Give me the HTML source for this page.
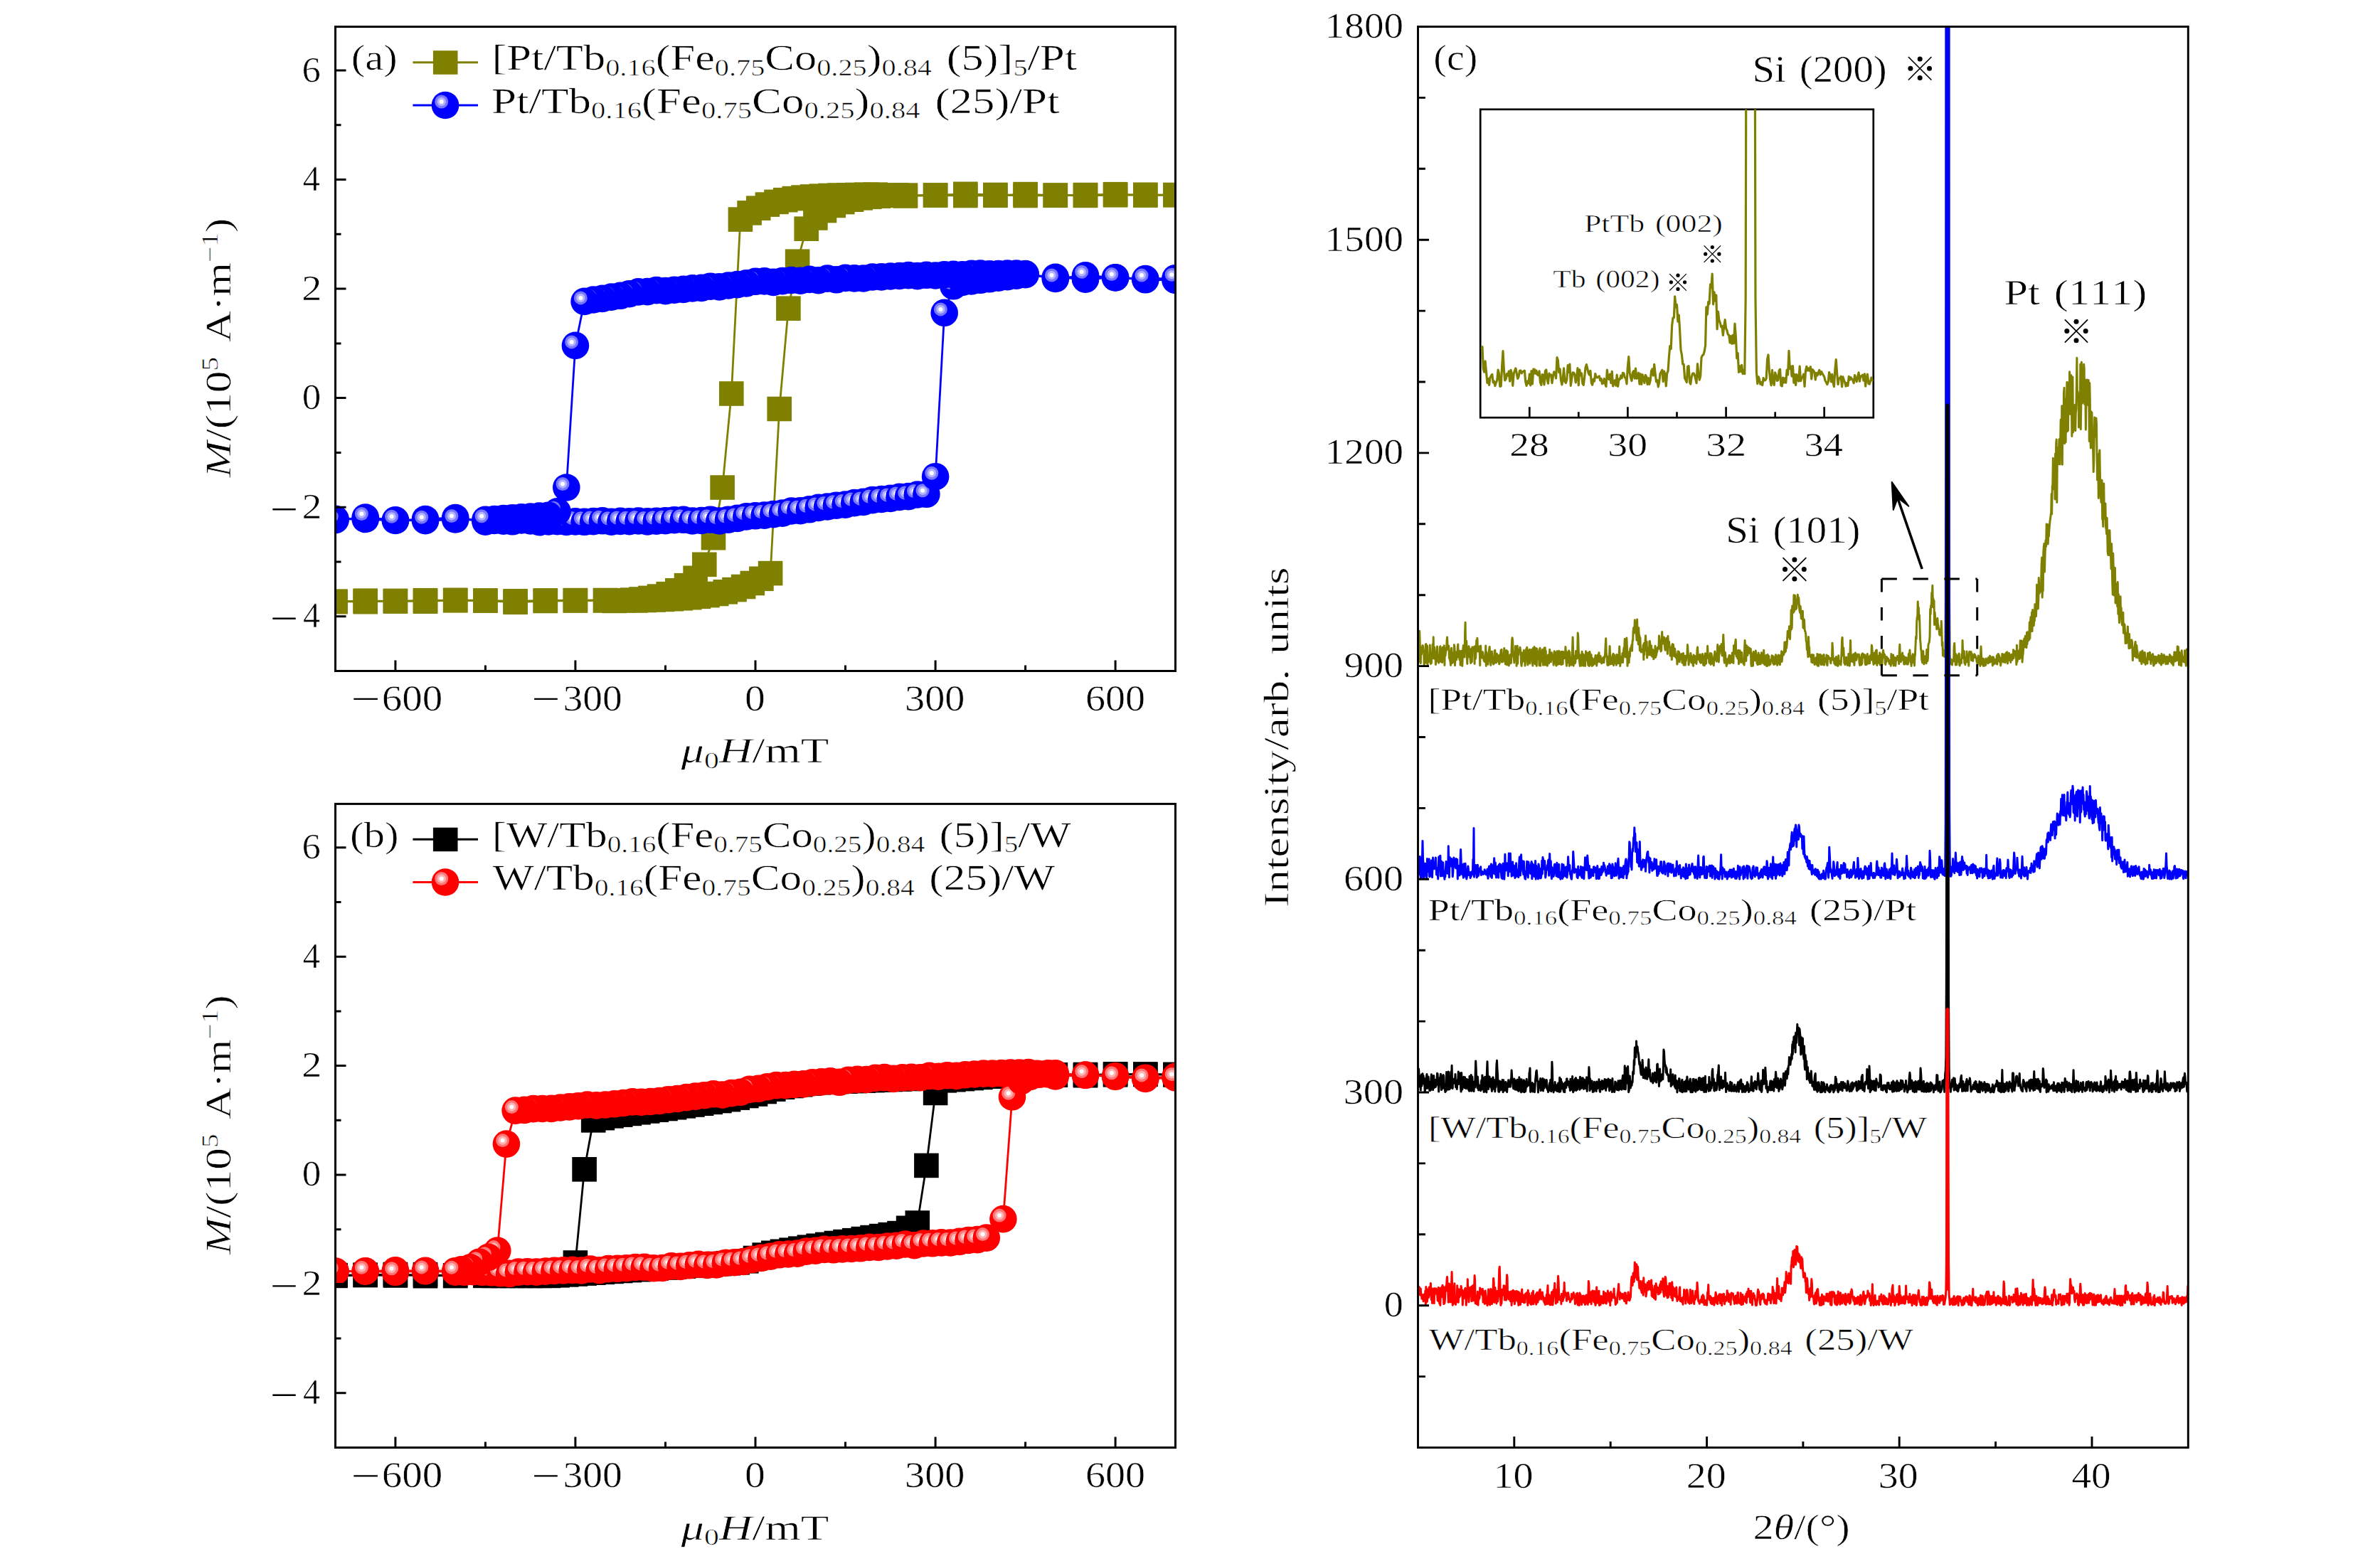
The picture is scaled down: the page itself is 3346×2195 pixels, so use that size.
<!DOCTYPE html><html><head><meta charset="utf-8"><style>html,body{margin:0;padding:0;background:#fff}svg{display:block}text{font-family:"Liberation Serif",serif;stroke:#fff;stroke-width:0.6px;stroke-linejoin:round}</style></head><body>
<svg width="3346" height="2195" viewBox="0 0 3346 2195">
<rect width="100%" height="100%" fill="#fff"/>
<defs><clipPath id="ca"><rect x="471.5" y="37.6" width="1181.0" height="905.9"/></clipPath><clipPath id="cb"><rect x="471.5" y="1130.4" width="1181.0" height="905.0999999999999"/></clipPath><clipPath id="cc"><rect x="1993.5" y="37.5" width="1082.8" height="1998.0"/></clipPath></defs>
<defs><g id="bb"><circle r="19.3" fill="#0000ff"/><circle cx="-5.3" cy="-5" r="9.5" fill="#7777ff"/><circle cx="-5.3" cy="-5" r="6.15" fill="#b4b4ff"/><circle cx="-5.3" cy="-5" r="3" fill="#fff"/></g><g id="rb"><circle r="19.3" fill="#ff0000"/><circle cx="-5.3" cy="-5" r="9.5" fill="#ff7777"/><circle cx="-5.3" cy="-5" r="6.15" fill="#ffb4b4"/><circle cx="-5.3" cy="-5" r="3" fill="#fff"/></g></defs>
<g clip-path="url(#ca)"><path d="M1652.5 274.1 L1610.3 273.8 L1568.1 274.3 L1526.0 274.9 L1483.8 274.5 L1441.6 275.0 L1399.4 274.0 L1357.2 272.8 L1315.1 274.5 L1272.9 274.6 L1230.7 273.7 L1218.1 273.8 L1205.4 274.0 L1192.8 274.3 L1180.1 274.6 L1167.4 275.0 L1154.8 275.7 L1142.1 276.5 L1129.5 277.6 L1116.8 279.1 L1104.2 281.2 L1091.5 283.9 L1078.9 287.6 L1066.2 292.7 L1053.6 299.4 L1040.9 308.6 L1028.3 553.5 L1015.6 685.5 L1003.0 756.2 L990.3 793.8 L977.6 812.8 L965.0 823.2 L952.3 830.3 L939.7 835.2 L927.0 838.6 L914.4 840.9 L901.7 842.5 L889.1 843.6 L876.4 844.3 L863.8 844.9 L851.1 844.0 L808.9 844.1 L766.8 844.4 L724.6 845.3 L682.4 844.5 L640.2 843.8 L598.0 845.7 L555.9 844.9 L513.7 846.2 L471.5 845.7" fill="none" stroke="#808000" stroke-width="2.8" stroke-linejoin="round"/>
<rect x="1635.2" y="256.8" width="34.6" height="34.6" fill="#808000"/>
<rect x="1593.0" y="256.5" width="34.6" height="34.6" fill="#808000"/>
<rect x="1550.8" y="257.0" width="34.6" height="34.6" fill="#808000"/>
<rect x="1508.7" y="257.6" width="34.6" height="34.6" fill="#808000"/>
<rect x="1466.5" y="257.2" width="34.6" height="34.6" fill="#808000"/>
<rect x="1424.3" y="257.7" width="34.6" height="34.6" fill="#808000"/>
<rect x="1382.1" y="256.7" width="34.6" height="34.6" fill="#808000"/>
<rect x="1340.0" y="255.5" width="34.6" height="34.6" fill="#808000"/>
<rect x="1297.8" y="257.2" width="34.6" height="34.6" fill="#808000"/>
<rect x="1255.6" y="257.3" width="34.6" height="34.6" fill="#808000"/>
<rect x="1213.4" y="256.4" width="34.6" height="34.6" fill="#808000"/>
<rect x="1200.8" y="256.5" width="34.6" height="34.6" fill="#808000"/>
<rect x="1188.1" y="256.7" width="34.6" height="34.6" fill="#808000"/>
<rect x="1175.5" y="257.0" width="34.6" height="34.6" fill="#808000"/>
<rect x="1162.8" y="257.3" width="34.6" height="34.6" fill="#808000"/>
<rect x="1150.1" y="257.7" width="34.6" height="34.6" fill="#808000"/>
<rect x="1137.5" y="258.4" width="34.6" height="34.6" fill="#808000"/>
<rect x="1124.8" y="259.2" width="34.6" height="34.6" fill="#808000"/>
<rect x="1112.2" y="260.3" width="34.6" height="34.6" fill="#808000"/>
<rect x="1099.5" y="261.8" width="34.6" height="34.6" fill="#808000"/>
<rect x="1086.9" y="263.9" width="34.6" height="34.6" fill="#808000"/>
<rect x="1074.2" y="266.6" width="34.6" height="34.6" fill="#808000"/>
<rect x="1061.6" y="270.3" width="34.6" height="34.6" fill="#808000"/>
<rect x="1048.9" y="275.4" width="34.6" height="34.6" fill="#808000"/>
<rect x="1036.3" y="282.1" width="34.6" height="34.6" fill="#808000"/>
<rect x="1023.6" y="291.3" width="34.6" height="34.6" fill="#808000"/>
<rect x="1011.0" y="536.2" width="34.6" height="34.6" fill="#808000"/>
<rect x="998.3" y="668.2" width="34.6" height="34.6" fill="#808000"/>
<rect x="985.7" y="738.9" width="34.6" height="34.6" fill="#808000"/>
<rect x="973.0" y="776.5" width="34.6" height="34.6" fill="#808000"/>
<rect x="960.3" y="795.5" width="34.6" height="34.6" fill="#808000"/>
<rect x="947.7" y="805.9" width="34.6" height="34.6" fill="#808000"/>
<rect x="935.0" y="813.0" width="34.6" height="34.6" fill="#808000"/>
<rect x="922.4" y="817.9" width="34.6" height="34.6" fill="#808000"/>
<rect x="909.7" y="821.3" width="34.6" height="34.6" fill="#808000"/>
<rect x="897.1" y="823.6" width="34.6" height="34.6" fill="#808000"/>
<rect x="884.4" y="825.2" width="34.6" height="34.6" fill="#808000"/>
<rect x="871.8" y="826.3" width="34.6" height="34.6" fill="#808000"/>
<rect x="859.1" y="827.0" width="34.6" height="34.6" fill="#808000"/>
<rect x="846.5" y="827.6" width="34.6" height="34.6" fill="#808000"/>
<rect x="833.8" y="826.7" width="34.6" height="34.6" fill="#808000"/>
<rect x="791.6" y="826.8" width="34.6" height="34.6" fill="#808000"/>
<rect x="749.5" y="827.1" width="34.6" height="34.6" fill="#808000"/>
<rect x="707.3" y="828.0" width="34.6" height="34.6" fill="#808000"/>
<rect x="665.1" y="827.2" width="34.6" height="34.6" fill="#808000"/>
<rect x="622.9" y="826.5" width="34.6" height="34.6" fill="#808000"/>
<rect x="580.7" y="828.4" width="34.6" height="34.6" fill="#808000"/>
<rect x="538.6" y="827.6" width="34.6" height="34.6" fill="#808000"/>
<rect x="496.4" y="828.9" width="34.6" height="34.6" fill="#808000"/>
<rect x="454.2" y="828.4" width="34.6" height="34.6" fill="#808000"/>
</g>
<g clip-path="url(#ca)"><path d="M471.5 846.2 L513.7 844.7 L555.9 845.6 L598.0 844.2 L640.2 844.3 L682.4 844.6 L724.6 846.8 L766.8 845.0 L808.9 844.5 L851.1 844.4 L893.3 844.4 L905.9 844.0 L918.6 843.5 L931.2 842.9 L943.9 842.2 L956.6 841.3 L969.2 840.2 L981.9 838.8 L994.5 837.1 L1007.2 835.0 L1019.8 832.3 L1032.5 829.1 L1045.1 825.0 L1057.8 820.0 L1070.4 813.8 L1083.1 806.1 L1095.7 575.0 L1108.4 433.7 L1121.1 367.7 L1133.7 321.7 L1146.4 306.5 L1159.0 296.1 L1171.7 289.0 L1184.3 284.1 L1197.0 280.7 L1209.6 278.4 L1222.3 276.8 L1234.9 275.7 L1247.6 274.9 L1260.2 274.4 L1272.9 275.5 L1315.1 274.5 L1357.2 275.0 L1399.4 274.8 L1441.6 273.1 L1483.8 274.8 L1526.0 274.1 L1568.1 273.2 L1610.3 274.6 L1652.5 274.2" fill="none" stroke="#808000" stroke-width="2.8" stroke-linejoin="round"/>
<rect x="454.2" y="828.9" width="34.6" height="34.6" fill="#808000"/>
<rect x="496.4" y="827.4" width="34.6" height="34.6" fill="#808000"/>
<rect x="538.6" y="828.3" width="34.6" height="34.6" fill="#808000"/>
<rect x="580.7" y="826.9" width="34.6" height="34.6" fill="#808000"/>
<rect x="622.9" y="827.0" width="34.6" height="34.6" fill="#808000"/>
<rect x="665.1" y="827.3" width="34.6" height="34.6" fill="#808000"/>
<rect x="707.3" y="829.5" width="34.6" height="34.6" fill="#808000"/>
<rect x="749.5" y="827.7" width="34.6" height="34.6" fill="#808000"/>
<rect x="791.6" y="827.2" width="34.6" height="34.6" fill="#808000"/>
<rect x="833.8" y="827.1" width="34.6" height="34.6" fill="#808000"/>
<rect x="876.0" y="827.1" width="34.6" height="34.6" fill="#808000"/>
<rect x="888.6" y="826.7" width="34.6" height="34.6" fill="#808000"/>
<rect x="901.3" y="826.2" width="34.6" height="34.6" fill="#808000"/>
<rect x="913.9" y="825.6" width="34.6" height="34.6" fill="#808000"/>
<rect x="926.6" y="824.9" width="34.6" height="34.6" fill="#808000"/>
<rect x="939.3" y="824.0" width="34.6" height="34.6" fill="#808000"/>
<rect x="951.9" y="822.9" width="34.6" height="34.6" fill="#808000"/>
<rect x="964.6" y="821.5" width="34.6" height="34.6" fill="#808000"/>
<rect x="977.2" y="819.8" width="34.6" height="34.6" fill="#808000"/>
<rect x="989.9" y="817.7" width="34.6" height="34.6" fill="#808000"/>
<rect x="1002.5" y="815.0" width="34.6" height="34.6" fill="#808000"/>
<rect x="1015.2" y="811.8" width="34.6" height="34.6" fill="#808000"/>
<rect x="1027.8" y="807.7" width="34.6" height="34.6" fill="#808000"/>
<rect x="1040.5" y="802.7" width="34.6" height="34.6" fill="#808000"/>
<rect x="1053.1" y="796.5" width="34.6" height="34.6" fill="#808000"/>
<rect x="1065.8" y="788.8" width="34.6" height="34.6" fill="#808000"/>
<rect x="1078.4" y="557.7" width="34.6" height="34.6" fill="#808000"/>
<rect x="1091.1" y="416.4" width="34.6" height="34.6" fill="#808000"/>
<rect x="1103.8" y="350.4" width="34.6" height="34.6" fill="#808000"/>
<rect x="1116.4" y="304.4" width="34.6" height="34.6" fill="#808000"/>
<rect x="1129.1" y="289.2" width="34.6" height="34.6" fill="#808000"/>
<rect x="1141.7" y="278.8" width="34.6" height="34.6" fill="#808000"/>
<rect x="1154.4" y="271.7" width="34.6" height="34.6" fill="#808000"/>
<rect x="1167.0" y="266.8" width="34.6" height="34.6" fill="#808000"/>
<rect x="1179.7" y="263.4" width="34.6" height="34.6" fill="#808000"/>
<rect x="1192.3" y="261.1" width="34.6" height="34.6" fill="#808000"/>
<rect x="1205.0" y="259.5" width="34.6" height="34.6" fill="#808000"/>
<rect x="1217.6" y="258.4" width="34.6" height="34.6" fill="#808000"/>
<rect x="1230.3" y="257.6" width="34.6" height="34.6" fill="#808000"/>
<rect x="1242.9" y="257.1" width="34.6" height="34.6" fill="#808000"/>
<rect x="1255.6" y="258.2" width="34.6" height="34.6" fill="#808000"/>
<rect x="1297.8" y="257.2" width="34.6" height="34.6" fill="#808000"/>
<rect x="1340.0" y="257.7" width="34.6" height="34.6" fill="#808000"/>
<rect x="1382.1" y="257.5" width="34.6" height="34.6" fill="#808000"/>
<rect x="1424.3" y="255.8" width="34.6" height="34.6" fill="#808000"/>
<rect x="1466.5" y="257.5" width="34.6" height="34.6" fill="#808000"/>
<rect x="1508.7" y="256.8" width="34.6" height="34.6" fill="#808000"/>
<rect x="1550.8" y="255.9" width="34.6" height="34.6" fill="#808000"/>
<rect x="1593.0" y="257.3" width="34.6" height="34.6" fill="#808000"/>
<rect x="1635.2" y="256.9" width="34.6" height="34.6" fill="#808000"/>
</g>
<g clip-path="url(#ca)"><path d="M471.5 729.9 L513.7 730.0 L555.9 732.0 L598.0 730.0 L640.2 728.0 L682.4 733.6 L695.0 731.9 L707.7 732.6 L720.4 733.3 L733.0 731.4 L745.7 732.5 L758.3 734.2 L771.0 733.4 L783.6 733.1 L796.3 733.9 L808.9 733.4 L821.6 733.8 L834.2 733.1 L846.9 732.3 L859.5 733.7 L872.2 732.9 L884.8 733.2 L897.5 732.5 L910.2 733.4 L922.8 732.7 L935.5 732.2 L948.1 731.2 L960.8 730.8 L973.4 732.5 L986.1 732.0 L998.7 730.7 L1011.4 732.5 L1024.0 730.7 L1036.7 728.9 L1049.3 726.4 L1062.0 725.3 L1074.7 724.6 L1087.3 723.1 L1100.0 721.6 L1112.6 718.5 L1125.3 718.2 L1137.9 716.3 L1150.6 713.9 L1163.2 712.5 L1175.9 710.7 L1188.5 709.6 L1201.2 707.1 L1213.8 705.9 L1226.5 703.1 L1239.2 702.0 L1251.8 700.9 L1264.5 698.9 L1277.1 698.1 L1289.8 695.5 L1302.4 694.8 L1315.1 670.2 L1327.7 439.9 L1340.4 402.3 L1353.0 396.9 L1365.7 395.4 L1378.3 393.8 L1391.0 392.3 L1403.6 390.7 L1416.3 389.2 L1429.0 387.7 L1441.6 386.1 L1483.8 389.9 L1526.0 392.7 L1568.1 390.2 L1610.3 393.3 L1652.5 393.9" fill="none" stroke="#0000ff" stroke-width="2.8" stroke-linejoin="round"/>
<use href="#bb" x="471.5" y="729.9"/>
<use href="#bb" x="513.7" y="730.0"/>
<use href="#bb" x="555.9" y="732.0"/>
<use href="#bb" x="598.0" y="730.0"/>
<use href="#bb" x="640.2" y="728.0"/>
<use href="#bb" x="682.4" y="733.6"/>
<use href="#bb" x="695.0" y="731.9"/>
<use href="#bb" x="707.7" y="732.6"/>
<use href="#bb" x="720.4" y="733.3"/>
<use href="#bb" x="733.0" y="731.4"/>
<use href="#bb" x="745.7" y="732.5"/>
<use href="#bb" x="758.3" y="734.2"/>
<use href="#bb" x="771.0" y="733.4"/>
<use href="#bb" x="783.6" y="733.1"/>
<use href="#bb" x="796.3" y="733.9"/>
<use href="#bb" x="808.9" y="733.4"/>
<use href="#bb" x="821.6" y="733.8"/>
<use href="#bb" x="834.2" y="733.1"/>
<use href="#bb" x="846.9" y="732.3"/>
<use href="#bb" x="859.5" y="733.7"/>
<use href="#bb" x="872.2" y="732.9"/>
<use href="#bb" x="884.8" y="733.2"/>
<use href="#bb" x="897.5" y="732.5"/>
<use href="#bb" x="910.2" y="733.4"/>
<use href="#bb" x="922.8" y="732.7"/>
<use href="#bb" x="935.5" y="732.2"/>
<use href="#bb" x="948.1" y="731.2"/>
<use href="#bb" x="960.8" y="730.8"/>
<use href="#bb" x="973.4" y="732.5"/>
<use href="#bb" x="986.1" y="732.0"/>
<use href="#bb" x="998.7" y="730.7"/>
<use href="#bb" x="1011.4" y="732.5"/>
<use href="#bb" x="1024.0" y="730.7"/>
<use href="#bb" x="1036.7" y="728.9"/>
<use href="#bb" x="1049.3" y="726.4"/>
<use href="#bb" x="1062.0" y="725.3"/>
<use href="#bb" x="1074.7" y="724.6"/>
<use href="#bb" x="1087.3" y="723.1"/>
<use href="#bb" x="1100.0" y="721.6"/>
<use href="#bb" x="1112.6" y="718.5"/>
<use href="#bb" x="1125.3" y="718.2"/>
<use href="#bb" x="1137.9" y="716.3"/>
<use href="#bb" x="1150.6" y="713.9"/>
<use href="#bb" x="1163.2" y="712.5"/>
<use href="#bb" x="1175.9" y="710.7"/>
<use href="#bb" x="1188.5" y="709.6"/>
<use href="#bb" x="1201.2" y="707.1"/>
<use href="#bb" x="1213.8" y="705.9"/>
<use href="#bb" x="1226.5" y="703.1"/>
<use href="#bb" x="1239.2" y="702.0"/>
<use href="#bb" x="1251.8" y="700.9"/>
<use href="#bb" x="1264.5" y="698.9"/>
<use href="#bb" x="1277.1" y="698.1"/>
<use href="#bb" x="1289.8" y="695.5"/>
<use href="#bb" x="1302.4" y="694.8"/>
<use href="#bb" x="1315.1" y="670.2"/>
<use href="#bb" x="1327.7" y="439.9"/>
<use href="#bb" x="1340.4" y="402.3"/>
<use href="#bb" x="1353.0" y="396.9"/>
<use href="#bb" x="1365.7" y="395.4"/>
<use href="#bb" x="1378.3" y="393.8"/>
<use href="#bb" x="1391.0" y="392.3"/>
<use href="#bb" x="1403.6" y="390.7"/>
<use href="#bb" x="1416.3" y="389.2"/>
<use href="#bb" x="1429.0" y="387.7"/>
<use href="#bb" x="1441.6" y="386.1"/>
<use href="#bb" x="1483.8" y="389.9"/>
<use href="#bb" x="1526.0" y="392.7"/>
<use href="#bb" x="1568.1" y="390.2"/>
<use href="#bb" x="1610.3" y="393.3"/>
<use href="#bb" x="1652.5" y="393.9"/>
</g>
<g clip-path="url(#ca)"><path d="M1652.5 391.2 L1610.3 392.1 L1568.1 390.5 L1526.0 387.3 L1483.8 392.0 L1441.6 385.1 L1429.0 384.6 L1416.3 384.5 L1403.6 385.1 L1391.0 385.2 L1378.3 384.6 L1365.7 384.9 L1353.0 386.3 L1340.4 385.9 L1327.7 386.2 L1315.1 387.5 L1302.4 386.8 L1289.8 388.1 L1277.1 387.1 L1264.5 388.0 L1251.8 388.5 L1239.2 389.4 L1226.5 389.5 L1213.8 391.5 L1201.2 391.4 L1188.5 390.9 L1175.9 393.3 L1163.2 391.6 L1150.6 394.2 L1137.9 392.9 L1125.3 394.7 L1112.6 394.0 L1100.0 395.1 L1087.3 396.9 L1074.7 395.4 L1062.0 395.8 L1049.3 398.4 L1036.7 400.1 L1024.0 401.5 L1011.4 403.4 L998.7 402.7 L986.1 404.9 L973.4 405.4 L960.8 406.9 L948.1 407.7 L935.5 409.1 L922.8 408.1 L910.2 410.1 L897.5 410.4 L884.8 413.2 L872.2 415.8 L859.5 417.6 L846.9 419.9 L834.2 421.5 L821.6 423.9 L808.9 485.9 L796.3 685.5 L783.6 719.3 L771.0 724.7 L758.3 725.6 L745.7 726.5 L733.0 727.3 L720.4 728.2 L707.7 729.1 L695.0 730.0 L682.4 730.8 L640.2 730.5 L598.0 732.2 L555.9 731.3 L513.7 727.5 L471.5 731.1" fill="none" stroke="#0000ff" stroke-width="2.8" stroke-linejoin="round"/>
<use href="#bb" x="1652.5" y="391.2"/>
<use href="#bb" x="1610.3" y="392.1"/>
<use href="#bb" x="1568.1" y="390.5"/>
<use href="#bb" x="1526.0" y="387.3"/>
<use href="#bb" x="1483.8" y="392.0"/>
<use href="#bb" x="1441.6" y="385.1"/>
<use href="#bb" x="1429.0" y="384.6"/>
<use href="#bb" x="1416.3" y="384.5"/>
<use href="#bb" x="1403.6" y="385.1"/>
<use href="#bb" x="1391.0" y="385.2"/>
<use href="#bb" x="1378.3" y="384.6"/>
<use href="#bb" x="1365.7" y="384.9"/>
<use href="#bb" x="1353.0" y="386.3"/>
<use href="#bb" x="1340.4" y="385.9"/>
<use href="#bb" x="1327.7" y="386.2"/>
<use href="#bb" x="1315.1" y="387.5"/>
<use href="#bb" x="1302.4" y="386.8"/>
<use href="#bb" x="1289.8" y="388.1"/>
<use href="#bb" x="1277.1" y="387.1"/>
<use href="#bb" x="1264.5" y="388.0"/>
<use href="#bb" x="1251.8" y="388.5"/>
<use href="#bb" x="1239.2" y="389.4"/>
<use href="#bb" x="1226.5" y="389.5"/>
<use href="#bb" x="1213.8" y="391.5"/>
<use href="#bb" x="1201.2" y="391.4"/>
<use href="#bb" x="1188.5" y="390.9"/>
<use href="#bb" x="1175.9" y="393.3"/>
<use href="#bb" x="1163.2" y="391.6"/>
<use href="#bb" x="1150.6" y="394.2"/>
<use href="#bb" x="1137.9" y="392.9"/>
<use href="#bb" x="1125.3" y="394.7"/>
<use href="#bb" x="1112.6" y="394.0"/>
<use href="#bb" x="1100.0" y="395.1"/>
<use href="#bb" x="1087.3" y="396.9"/>
<use href="#bb" x="1074.7" y="395.4"/>
<use href="#bb" x="1062.0" y="395.8"/>
<use href="#bb" x="1049.3" y="398.4"/>
<use href="#bb" x="1036.7" y="400.1"/>
<use href="#bb" x="1024.0" y="401.5"/>
<use href="#bb" x="1011.4" y="403.4"/>
<use href="#bb" x="998.7" y="402.7"/>
<use href="#bb" x="986.1" y="404.9"/>
<use href="#bb" x="973.4" y="405.4"/>
<use href="#bb" x="960.8" y="406.9"/>
<use href="#bb" x="948.1" y="407.7"/>
<use href="#bb" x="935.5" y="409.1"/>
<use href="#bb" x="922.8" y="408.1"/>
<use href="#bb" x="910.2" y="410.1"/>
<use href="#bb" x="897.5" y="410.4"/>
<use href="#bb" x="884.8" y="413.2"/>
<use href="#bb" x="872.2" y="415.8"/>
<use href="#bb" x="859.5" y="417.6"/>
<use href="#bb" x="846.9" y="419.9"/>
<use href="#bb" x="834.2" y="421.5"/>
<use href="#bb" x="821.6" y="423.9"/>
<use href="#bb" x="808.9" y="485.9"/>
<use href="#bb" x="796.3" y="685.5"/>
<use href="#bb" x="783.6" y="719.3"/>
<use href="#bb" x="771.0" y="724.7"/>
<use href="#bb" x="758.3" y="725.6"/>
<use href="#bb" x="745.7" y="726.5"/>
<use href="#bb" x="733.0" y="727.3"/>
<use href="#bb" x="720.4" y="728.2"/>
<use href="#bb" x="707.7" y="729.1"/>
<use href="#bb" x="695.0" y="730.0"/>
<use href="#bb" x="682.4" y="730.8"/>
<use href="#bb" x="640.2" y="730.5"/>
<use href="#bb" x="598.0" y="732.2"/>
<use href="#bb" x="555.9" y="731.3"/>
<use href="#bb" x="513.7" y="727.5"/>
<use href="#bb" x="471.5" y="731.1"/>
</g>
<g clip-path="url(#cb)"><path d="M471.5 1793.9 L513.7 1792.9 L555.9 1792.0 L598.0 1794.2 L640.2 1793.3 L682.4 1793.9 L695.0 1793.9 L707.7 1793.9 L720.4 1793.9 L733.0 1793.9 L745.7 1793.9 L758.3 1793.9 L771.0 1793.9 L783.6 1793.3 L796.3 1792.4 L808.9 1791.5 L821.6 1790.6 L834.2 1789.7 L846.9 1788.8 L859.5 1787.9 L872.2 1787.0 L884.8 1786.1 L897.5 1785.2 L910.2 1784.3 L922.8 1783.4 L935.5 1782.5 L948.1 1781.6 L960.8 1780.7 L973.4 1779.8 L986.1 1778.9 L998.7 1778.0 L1011.4 1777.1 L1024.0 1776.2 L1036.7 1775.3 L1049.3 1773.3 L1062.0 1769.0 L1074.7 1764.6 L1087.3 1761.8 L1100.0 1759.8 L1112.6 1757.7 L1125.3 1755.7 L1137.9 1753.7 L1150.6 1751.8 L1163.2 1749.9 L1175.9 1748.0 L1188.5 1746.1 L1201.2 1744.2 L1213.8 1742.1 L1226.5 1740.1 L1239.2 1738.1 L1251.8 1736.1 L1264.5 1734.1 L1277.1 1726.8 L1289.8 1719.5 L1302.4 1638.9 L1315.1 1536.9 L1327.7 1519.3 L1340.4 1518.2 L1353.0 1517.1 L1365.7 1516.0 L1378.3 1514.9 L1391.0 1513.7 L1403.6 1512.6 L1416.3 1511.5 L1429.0 1510.4 L1441.6 1509.3 L1483.8 1511.3 L1526.0 1512.2 L1568.1 1510.3 L1610.3 1510.9 L1652.5 1510.8" fill="none" stroke="#000" stroke-width="2.8" stroke-linejoin="round"/>
<rect x="454.2" y="1776.6" width="34.6" height="34.6" fill="#000"/>
<rect x="496.4" y="1775.6" width="34.6" height="34.6" fill="#000"/>
<rect x="538.6" y="1774.7" width="34.6" height="34.6" fill="#000"/>
<rect x="580.7" y="1776.9" width="34.6" height="34.6" fill="#000"/>
<rect x="622.9" y="1776.0" width="34.6" height="34.6" fill="#000"/>
<rect x="665.1" y="1776.6" width="34.6" height="34.6" fill="#000"/>
<rect x="677.7" y="1776.6" width="34.6" height="34.6" fill="#000"/>
<rect x="690.4" y="1776.6" width="34.6" height="34.6" fill="#000"/>
<rect x="703.1" y="1776.6" width="34.6" height="34.6" fill="#000"/>
<rect x="715.7" y="1776.6" width="34.6" height="34.6" fill="#000"/>
<rect x="728.4" y="1776.6" width="34.6" height="34.6" fill="#000"/>
<rect x="741.0" y="1776.6" width="34.6" height="34.6" fill="#000"/>
<rect x="753.7" y="1776.6" width="34.6" height="34.6" fill="#000"/>
<rect x="766.3" y="1776.0" width="34.6" height="34.6" fill="#000"/>
<rect x="779.0" y="1775.1" width="34.6" height="34.6" fill="#000"/>
<rect x="791.6" y="1774.2" width="34.6" height="34.6" fill="#000"/>
<rect x="804.3" y="1773.3" width="34.6" height="34.6" fill="#000"/>
<rect x="816.9" y="1772.4" width="34.6" height="34.6" fill="#000"/>
<rect x="829.6" y="1771.5" width="34.6" height="34.6" fill="#000"/>
<rect x="842.2" y="1770.6" width="34.6" height="34.6" fill="#000"/>
<rect x="854.9" y="1769.7" width="34.6" height="34.6" fill="#000"/>
<rect x="867.5" y="1768.8" width="34.6" height="34.6" fill="#000"/>
<rect x="880.2" y="1767.9" width="34.6" height="34.6" fill="#000"/>
<rect x="892.9" y="1767.0" width="34.6" height="34.6" fill="#000"/>
<rect x="905.5" y="1766.1" width="34.6" height="34.6" fill="#000"/>
<rect x="918.2" y="1765.2" width="34.6" height="34.6" fill="#000"/>
<rect x="930.8" y="1764.3" width="34.6" height="34.6" fill="#000"/>
<rect x="943.5" y="1763.4" width="34.6" height="34.6" fill="#000"/>
<rect x="956.1" y="1762.5" width="34.6" height="34.6" fill="#000"/>
<rect x="968.8" y="1761.6" width="34.6" height="34.6" fill="#000"/>
<rect x="981.4" y="1760.7" width="34.6" height="34.6" fill="#000"/>
<rect x="994.1" y="1759.8" width="34.6" height="34.6" fill="#000"/>
<rect x="1006.7" y="1758.9" width="34.6" height="34.6" fill="#000"/>
<rect x="1019.4" y="1758.0" width="34.6" height="34.6" fill="#000"/>
<rect x="1032.0" y="1756.0" width="34.6" height="34.6" fill="#000"/>
<rect x="1044.7" y="1751.7" width="34.6" height="34.6" fill="#000"/>
<rect x="1057.4" y="1747.3" width="34.6" height="34.6" fill="#000"/>
<rect x="1070.0" y="1744.5" width="34.6" height="34.6" fill="#000"/>
<rect x="1082.7" y="1742.5" width="34.6" height="34.6" fill="#000"/>
<rect x="1095.3" y="1740.4" width="34.6" height="34.6" fill="#000"/>
<rect x="1108.0" y="1738.4" width="34.6" height="34.6" fill="#000"/>
<rect x="1120.6" y="1736.4" width="34.6" height="34.6" fill="#000"/>
<rect x="1133.3" y="1734.5" width="34.6" height="34.6" fill="#000"/>
<rect x="1145.9" y="1732.6" width="34.6" height="34.6" fill="#000"/>
<rect x="1158.6" y="1730.7" width="34.6" height="34.6" fill="#000"/>
<rect x="1171.2" y="1728.8" width="34.6" height="34.6" fill="#000"/>
<rect x="1183.9" y="1726.9" width="34.6" height="34.6" fill="#000"/>
<rect x="1196.5" y="1724.8" width="34.6" height="34.6" fill="#000"/>
<rect x="1209.2" y="1722.8" width="34.6" height="34.6" fill="#000"/>
<rect x="1221.9" y="1720.8" width="34.6" height="34.6" fill="#000"/>
<rect x="1234.5" y="1718.8" width="34.6" height="34.6" fill="#000"/>
<rect x="1247.2" y="1716.8" width="34.6" height="34.6" fill="#000"/>
<rect x="1259.8" y="1709.5" width="34.6" height="34.6" fill="#000"/>
<rect x="1272.5" y="1702.2" width="34.6" height="34.6" fill="#000"/>
<rect x="1285.1" y="1621.6" width="34.6" height="34.6" fill="#000"/>
<rect x="1297.8" y="1519.6" width="34.6" height="34.6" fill="#000"/>
<rect x="1310.4" y="1502.0" width="34.6" height="34.6" fill="#000"/>
<rect x="1323.1" y="1500.9" width="34.6" height="34.6" fill="#000"/>
<rect x="1335.7" y="1499.8" width="34.6" height="34.6" fill="#000"/>
<rect x="1348.4" y="1498.7" width="34.6" height="34.6" fill="#000"/>
<rect x="1361.0" y="1497.6" width="34.6" height="34.6" fill="#000"/>
<rect x="1373.7" y="1496.4" width="34.6" height="34.6" fill="#000"/>
<rect x="1386.3" y="1495.3" width="34.6" height="34.6" fill="#000"/>
<rect x="1399.0" y="1494.2" width="34.6" height="34.6" fill="#000"/>
<rect x="1411.7" y="1493.1" width="34.6" height="34.6" fill="#000"/>
<rect x="1424.3" y="1492.0" width="34.6" height="34.6" fill="#000"/>
<rect x="1466.5" y="1494.0" width="34.6" height="34.6" fill="#000"/>
<rect x="1508.7" y="1494.9" width="34.6" height="34.6" fill="#000"/>
<rect x="1550.8" y="1493.0" width="34.6" height="34.6" fill="#000"/>
<rect x="1593.0" y="1493.6" width="34.6" height="34.6" fill="#000"/>
<rect x="1635.2" y="1493.5" width="34.6" height="34.6" fill="#000"/>
</g>
<g clip-path="url(#cb)"><path d="M1652.5 1511.4 L1610.3 1510.5 L1568.1 1511.3 L1526.0 1511.0 L1483.8 1511.7 L1441.6 1509.3 L1429.0 1509.9 L1416.3 1510.5 L1403.6 1511.2 L1391.0 1511.8 L1378.3 1512.4 L1365.7 1513.0 L1353.0 1513.6 L1340.4 1514.2 L1327.7 1514.8 L1315.1 1515.5 L1302.4 1516.0 L1289.8 1516.5 L1277.1 1517.0 L1264.5 1517.5 L1251.8 1518.0 L1239.2 1518.6 L1226.5 1519.1 L1213.8 1519.6 L1201.2 1520.1 L1188.5 1520.6 L1175.9 1521.1 L1163.2 1521.7 L1150.6 1522.2 L1137.9 1523.5 L1125.3 1525.2 L1112.6 1527.0 L1100.0 1528.7 L1087.3 1531.6 L1074.7 1535.0 L1062.0 1538.5 L1049.3 1541.0 L1036.7 1543.6 L1024.0 1546.1 L1011.4 1548.0 L998.7 1549.8 L986.1 1551.7 L973.4 1553.5 L960.8 1555.3 L948.1 1557.2 L935.5 1559.0 L922.8 1560.7 L910.2 1562.4 L897.5 1564.2 L884.8 1565.9 L872.2 1567.6 L859.5 1569.3 L846.9 1572.1 L834.2 1575.3 L821.6 1644.3 L808.9 1775.5 L796.3 1786.2 L783.6 1787.0 L771.0 1787.7 L758.3 1788.5 L745.7 1789.3 L733.0 1790.0 L720.4 1790.8 L707.7 1791.6 L695.0 1792.4 L682.4 1793.1 L640.2 1794.1 L598.0 1792.1 L555.9 1793.5 L513.7 1792.9 L471.5 1793.1" fill="none" stroke="#000" stroke-width="2.8" stroke-linejoin="round"/>
<rect x="1635.2" y="1494.1" width="34.6" height="34.6" fill="#000"/>
<rect x="1593.0" y="1493.2" width="34.6" height="34.6" fill="#000"/>
<rect x="1550.8" y="1494.0" width="34.6" height="34.6" fill="#000"/>
<rect x="1508.7" y="1493.7" width="34.6" height="34.6" fill="#000"/>
<rect x="1466.5" y="1494.4" width="34.6" height="34.6" fill="#000"/>
<rect x="1424.3" y="1492.0" width="34.6" height="34.6" fill="#000"/>
<rect x="1411.7" y="1492.6" width="34.6" height="34.6" fill="#000"/>
<rect x="1399.0" y="1493.2" width="34.6" height="34.6" fill="#000"/>
<rect x="1386.3" y="1493.9" width="34.6" height="34.6" fill="#000"/>
<rect x="1373.7" y="1494.5" width="34.6" height="34.6" fill="#000"/>
<rect x="1361.0" y="1495.1" width="34.6" height="34.6" fill="#000"/>
<rect x="1348.4" y="1495.7" width="34.6" height="34.6" fill="#000"/>
<rect x="1335.7" y="1496.3" width="34.6" height="34.6" fill="#000"/>
<rect x="1323.1" y="1496.9" width="34.6" height="34.6" fill="#000"/>
<rect x="1310.4" y="1497.5" width="34.6" height="34.6" fill="#000"/>
<rect x="1297.8" y="1498.2" width="34.6" height="34.6" fill="#000"/>
<rect x="1285.1" y="1498.7" width="34.6" height="34.6" fill="#000"/>
<rect x="1272.5" y="1499.2" width="34.6" height="34.6" fill="#000"/>
<rect x="1259.8" y="1499.7" width="34.6" height="34.6" fill="#000"/>
<rect x="1247.2" y="1500.2" width="34.6" height="34.6" fill="#000"/>
<rect x="1234.5" y="1500.7" width="34.6" height="34.6" fill="#000"/>
<rect x="1221.9" y="1501.3" width="34.6" height="34.6" fill="#000"/>
<rect x="1209.2" y="1501.8" width="34.6" height="34.6" fill="#000"/>
<rect x="1196.5" y="1502.3" width="34.6" height="34.6" fill="#000"/>
<rect x="1183.9" y="1502.8" width="34.6" height="34.6" fill="#000"/>
<rect x="1171.2" y="1503.3" width="34.6" height="34.6" fill="#000"/>
<rect x="1158.6" y="1503.8" width="34.6" height="34.6" fill="#000"/>
<rect x="1145.9" y="1504.4" width="34.6" height="34.6" fill="#000"/>
<rect x="1133.3" y="1504.9" width="34.6" height="34.6" fill="#000"/>
<rect x="1120.6" y="1506.2" width="34.6" height="34.6" fill="#000"/>
<rect x="1108.0" y="1507.9" width="34.6" height="34.6" fill="#000"/>
<rect x="1095.3" y="1509.7" width="34.6" height="34.6" fill="#000"/>
<rect x="1082.7" y="1511.4" width="34.6" height="34.6" fill="#000"/>
<rect x="1070.0" y="1514.3" width="34.6" height="34.6" fill="#000"/>
<rect x="1057.4" y="1517.7" width="34.6" height="34.6" fill="#000"/>
<rect x="1044.7" y="1521.2" width="34.6" height="34.6" fill="#000"/>
<rect x="1032.0" y="1523.7" width="34.6" height="34.6" fill="#000"/>
<rect x="1019.4" y="1526.3" width="34.6" height="34.6" fill="#000"/>
<rect x="1006.7" y="1528.8" width="34.6" height="34.6" fill="#000"/>
<rect x="994.1" y="1530.7" width="34.6" height="34.6" fill="#000"/>
<rect x="981.4" y="1532.5" width="34.6" height="34.6" fill="#000"/>
<rect x="968.8" y="1534.4" width="34.6" height="34.6" fill="#000"/>
<rect x="956.1" y="1536.2" width="34.6" height="34.6" fill="#000"/>
<rect x="943.5" y="1538.0" width="34.6" height="34.6" fill="#000"/>
<rect x="930.8" y="1539.9" width="34.6" height="34.6" fill="#000"/>
<rect x="918.2" y="1541.7" width="34.6" height="34.6" fill="#000"/>
<rect x="905.5" y="1543.4" width="34.6" height="34.6" fill="#000"/>
<rect x="892.9" y="1545.1" width="34.6" height="34.6" fill="#000"/>
<rect x="880.2" y="1546.9" width="34.6" height="34.6" fill="#000"/>
<rect x="867.5" y="1548.6" width="34.6" height="34.6" fill="#000"/>
<rect x="854.9" y="1550.3" width="34.6" height="34.6" fill="#000"/>
<rect x="842.2" y="1552.0" width="34.6" height="34.6" fill="#000"/>
<rect x="829.6" y="1554.8" width="34.6" height="34.6" fill="#000"/>
<rect x="816.9" y="1558.0" width="34.6" height="34.6" fill="#000"/>
<rect x="804.3" y="1627.0" width="34.6" height="34.6" fill="#000"/>
<rect x="791.6" y="1758.2" width="34.6" height="34.6" fill="#000"/>
<rect x="779.0" y="1768.9" width="34.6" height="34.6" fill="#000"/>
<rect x="766.3" y="1769.7" width="34.6" height="34.6" fill="#000"/>
<rect x="753.7" y="1770.4" width="34.6" height="34.6" fill="#000"/>
<rect x="741.0" y="1771.2" width="34.6" height="34.6" fill="#000"/>
<rect x="728.4" y="1772.0" width="34.6" height="34.6" fill="#000"/>
<rect x="715.7" y="1772.7" width="34.6" height="34.6" fill="#000"/>
<rect x="703.1" y="1773.5" width="34.6" height="34.6" fill="#000"/>
<rect x="690.4" y="1774.3" width="34.6" height="34.6" fill="#000"/>
<rect x="677.7" y="1775.1" width="34.6" height="34.6" fill="#000"/>
<rect x="665.1" y="1775.8" width="34.6" height="34.6" fill="#000"/>
<rect x="622.9" y="1776.8" width="34.6" height="34.6" fill="#000"/>
<rect x="580.7" y="1774.8" width="34.6" height="34.6" fill="#000"/>
<rect x="538.6" y="1776.2" width="34.6" height="34.6" fill="#000"/>
<rect x="496.4" y="1775.6" width="34.6" height="34.6" fill="#000"/>
<rect x="454.2" y="1775.8" width="34.6" height="34.6" fill="#000"/>
</g>
<g clip-path="url(#cb)"><path d="M471.5 1787.5 L513.7 1787.6 L555.9 1786.3 L598.0 1787.3 L640.2 1788.6 L652.9 1788.8 L665.5 1788.2 L678.2 1788.8 L690.8 1789.3 L703.5 1790.3 L716.1 1790.9 L728.8 1788.6 L741.4 1788.2 L754.1 1788.6 L766.8 1787.6 L779.4 1786.9 L792.1 1786.4 L804.7 1785.9 L817.4 1786.5 L830.0 1784.5 L842.7 1786.2 L855.3 1784.1 L868.0 1783.9 L880.6 1783.2 L893.3 1782.0 L905.9 1781.8 L918.6 1783.3 L931.2 1783.0 L943.9 1780.3 L956.6 1780.9 L969.2 1779.3 L981.9 1777.8 L994.5 1778.9 L1007.2 1778.5 L1019.8 1775.9 L1032.5 1775.2 L1045.1 1774.0 L1057.8 1771.0 L1070.4 1768.9 L1083.1 1766.7 L1095.7 1764.3 L1108.4 1763.5 L1121.1 1762.6 L1133.7 1759.6 L1146.4 1758.7 L1159.0 1756.9 L1171.7 1757.3 L1184.3 1756.4 L1197.0 1756.0 L1209.6 1755.3 L1222.3 1753.9 L1234.9 1754.0 L1247.6 1752.5 L1260.2 1751.7 L1272.9 1749.5 L1285.5 1751.2 L1298.2 1748.5 L1310.9 1748.3 L1323.5 1747.4 L1336.2 1747.5 L1348.8 1745.9 L1361.5 1744.0 L1374.1 1743.1 L1386.8 1740.6 L1410.4 1714.1 L1423.0 1542.3 L1435.7 1520.1 L1448.4 1513.9 L1461.0 1510.8 L1473.7 1509.3 L1483.8 1513.5 L1526.0 1511.8 L1568.1 1513.2 L1610.3 1515.7 L1652.5 1513.9" fill="none" stroke="#ff0000" stroke-width="2.8" stroke-linejoin="round"/>
<use href="#rb" x="471.5" y="1787.5"/>
<use href="#rb" x="513.7" y="1787.6"/>
<use href="#rb" x="555.9" y="1786.3"/>
<use href="#rb" x="598.0" y="1787.3"/>
<use href="#rb" x="640.2" y="1788.6"/>
<use href="#rb" x="652.9" y="1788.8"/>
<use href="#rb" x="665.5" y="1788.2"/>
<use href="#rb" x="678.2" y="1788.8"/>
<use href="#rb" x="690.8" y="1789.3"/>
<use href="#rb" x="703.5" y="1790.3"/>
<use href="#rb" x="716.1" y="1790.9"/>
<use href="#rb" x="728.8" y="1788.6"/>
<use href="#rb" x="741.4" y="1788.2"/>
<use href="#rb" x="754.1" y="1788.6"/>
<use href="#rb" x="766.8" y="1787.6"/>
<use href="#rb" x="779.4" y="1786.9"/>
<use href="#rb" x="792.1" y="1786.4"/>
<use href="#rb" x="804.7" y="1785.9"/>
<use href="#rb" x="817.4" y="1786.5"/>
<use href="#rb" x="830.0" y="1784.5"/>
<use href="#rb" x="842.7" y="1786.2"/>
<use href="#rb" x="855.3" y="1784.1"/>
<use href="#rb" x="868.0" y="1783.9"/>
<use href="#rb" x="880.6" y="1783.2"/>
<use href="#rb" x="893.3" y="1782.0"/>
<use href="#rb" x="905.9" y="1781.8"/>
<use href="#rb" x="918.6" y="1783.3"/>
<use href="#rb" x="931.2" y="1783.0"/>
<use href="#rb" x="943.9" y="1780.3"/>
<use href="#rb" x="956.6" y="1780.9"/>
<use href="#rb" x="969.2" y="1779.3"/>
<use href="#rb" x="981.9" y="1777.8"/>
<use href="#rb" x="994.5" y="1778.9"/>
<use href="#rb" x="1007.2" y="1778.5"/>
<use href="#rb" x="1019.8" y="1775.9"/>
<use href="#rb" x="1032.5" y="1775.2"/>
<use href="#rb" x="1045.1" y="1774.0"/>
<use href="#rb" x="1057.8" y="1771.0"/>
<use href="#rb" x="1070.4" y="1768.9"/>
<use href="#rb" x="1083.1" y="1766.7"/>
<use href="#rb" x="1095.7" y="1764.3"/>
<use href="#rb" x="1108.4" y="1763.5"/>
<use href="#rb" x="1121.1" y="1762.6"/>
<use href="#rb" x="1133.7" y="1759.6"/>
<use href="#rb" x="1146.4" y="1758.7"/>
<use href="#rb" x="1159.0" y="1756.9"/>
<use href="#rb" x="1171.7" y="1757.3"/>
<use href="#rb" x="1184.3" y="1756.4"/>
<use href="#rb" x="1197.0" y="1756.0"/>
<use href="#rb" x="1209.6" y="1755.3"/>
<use href="#rb" x="1222.3" y="1753.9"/>
<use href="#rb" x="1234.9" y="1754.0"/>
<use href="#rb" x="1247.6" y="1752.5"/>
<use href="#rb" x="1260.2" y="1751.7"/>
<use href="#rb" x="1272.9" y="1749.5"/>
<use href="#rb" x="1285.5" y="1751.2"/>
<use href="#rb" x="1298.2" y="1748.5"/>
<use href="#rb" x="1310.9" y="1748.3"/>
<use href="#rb" x="1323.5" y="1747.4"/>
<use href="#rb" x="1336.2" y="1747.5"/>
<use href="#rb" x="1348.8" y="1745.9"/>
<use href="#rb" x="1361.5" y="1744.0"/>
<use href="#rb" x="1374.1" y="1743.1"/>
<use href="#rb" x="1386.8" y="1740.6"/>
<use href="#rb" x="1410.4" y="1714.1"/>
<use href="#rb" x="1423.0" y="1542.3"/>
<use href="#rb" x="1435.7" y="1520.1"/>
<use href="#rb" x="1448.4" y="1513.9"/>
<use href="#rb" x="1461.0" y="1510.8"/>
<use href="#rb" x="1473.7" y="1509.3"/>
<use href="#rb" x="1483.8" y="1513.5"/>
<use href="#rb" x="1526.0" y="1511.8"/>
<use href="#rb" x="1568.1" y="1513.2"/>
<use href="#rb" x="1610.3" y="1515.7"/>
<use href="#rb" x="1652.5" y="1513.9"/>
</g>
<g clip-path="url(#cb)"><path d="M1652.5 1515.4 L1610.3 1516.9 L1568.1 1513.8 L1526.0 1511.6 L1483.8 1509.3 L1471.1 1510.1 L1458.5 1509.7 L1445.8 1508.0 L1433.2 1508.6 L1420.5 1508.5 L1407.9 1509.1 L1395.2 1509.6 L1382.6 1509.6 L1369.9 1510.5 L1357.2 1511.3 L1344.6 1512.9 L1331.9 1512.2 L1319.3 1513.7 L1306.6 1512.9 L1294.0 1515.2 L1281.3 1514.9 L1268.7 1515.3 L1256.0 1516.9 L1243.4 1515.1 L1230.7 1515.9 L1218.1 1518.0 L1205.4 1517.8 L1192.8 1518.8 L1180.1 1521.8 L1167.4 1520.3 L1154.8 1521.4 L1142.1 1522.4 L1129.5 1524.4 L1116.8 1524.9 L1104.2 1526.0 L1091.5 1526.1 L1078.9 1528.2 L1066.2 1530.8 L1053.6 1531.9 L1040.9 1535.8 L1028.3 1537.1 L1015.6 1539.5 L1003.0 1538.3 L990.3 1540.2 L977.6 1541.6 L965.0 1543.1 L952.3 1545.0 L939.7 1546.2 L927.0 1548.0 L914.4 1549.0 L901.7 1549.7 L889.1 1549.4 L876.4 1551.0 L863.8 1552.3 L851.1 1553.5 L838.5 1554.4 L825.8 1553.5 L813.1 1555.2 L800.5 1556.4 L787.8 1557.5 L775.2 1558.9 L762.5 1559.0 L749.9 1559.1 L737.2 1560.9 L724.6 1561.6 L711.9 1608.6 L699.3 1758.6 L686.6 1767.8 L674.0 1774.7 L661.3 1782.4 L648.6 1785.4 L640.2 1787.2 L598.0 1786.9 L555.9 1788.8 L513.7 1787.3 L471.5 1788.0" fill="none" stroke="#ff0000" stroke-width="2.8" stroke-linejoin="round"/>
<use href="#rb" x="1652.5" y="1515.4"/>
<use href="#rb" x="1610.3" y="1516.9"/>
<use href="#rb" x="1568.1" y="1513.8"/>
<use href="#rb" x="1526.0" y="1511.6"/>
<use href="#rb" x="1483.8" y="1509.3"/>
<use href="#rb" x="1471.1" y="1510.1"/>
<use href="#rb" x="1458.5" y="1509.7"/>
<use href="#rb" x="1445.8" y="1508.0"/>
<use href="#rb" x="1433.2" y="1508.6"/>
<use href="#rb" x="1420.5" y="1508.5"/>
<use href="#rb" x="1407.9" y="1509.1"/>
<use href="#rb" x="1395.2" y="1509.6"/>
<use href="#rb" x="1382.6" y="1509.6"/>
<use href="#rb" x="1369.9" y="1510.5"/>
<use href="#rb" x="1357.2" y="1511.3"/>
<use href="#rb" x="1344.6" y="1512.9"/>
<use href="#rb" x="1331.9" y="1512.2"/>
<use href="#rb" x="1319.3" y="1513.7"/>
<use href="#rb" x="1306.6" y="1512.9"/>
<use href="#rb" x="1294.0" y="1515.2"/>
<use href="#rb" x="1281.3" y="1514.9"/>
<use href="#rb" x="1268.7" y="1515.3"/>
<use href="#rb" x="1256.0" y="1516.9"/>
<use href="#rb" x="1243.4" y="1515.1"/>
<use href="#rb" x="1230.7" y="1515.9"/>
<use href="#rb" x="1218.1" y="1518.0"/>
<use href="#rb" x="1205.4" y="1517.8"/>
<use href="#rb" x="1192.8" y="1518.8"/>
<use href="#rb" x="1180.1" y="1521.8"/>
<use href="#rb" x="1167.4" y="1520.3"/>
<use href="#rb" x="1154.8" y="1521.4"/>
<use href="#rb" x="1142.1" y="1522.4"/>
<use href="#rb" x="1129.5" y="1524.4"/>
<use href="#rb" x="1116.8" y="1524.9"/>
<use href="#rb" x="1104.2" y="1526.0"/>
<use href="#rb" x="1091.5" y="1526.1"/>
<use href="#rb" x="1078.9" y="1528.2"/>
<use href="#rb" x="1066.2" y="1530.8"/>
<use href="#rb" x="1053.6" y="1531.9"/>
<use href="#rb" x="1040.9" y="1535.8"/>
<use href="#rb" x="1028.3" y="1537.1"/>
<use href="#rb" x="1015.6" y="1539.5"/>
<use href="#rb" x="1003.0" y="1538.3"/>
<use href="#rb" x="990.3" y="1540.2"/>
<use href="#rb" x="977.6" y="1541.6"/>
<use href="#rb" x="965.0" y="1543.1"/>
<use href="#rb" x="952.3" y="1545.0"/>
<use href="#rb" x="939.7" y="1546.2"/>
<use href="#rb" x="927.0" y="1548.0"/>
<use href="#rb" x="914.4" y="1549.0"/>
<use href="#rb" x="901.7" y="1549.7"/>
<use href="#rb" x="889.1" y="1549.4"/>
<use href="#rb" x="876.4" y="1551.0"/>
<use href="#rb" x="863.8" y="1552.3"/>
<use href="#rb" x="851.1" y="1553.5"/>
<use href="#rb" x="838.5" y="1554.4"/>
<use href="#rb" x="825.8" y="1553.5"/>
<use href="#rb" x="813.1" y="1555.2"/>
<use href="#rb" x="800.5" y="1556.4"/>
<use href="#rb" x="787.8" y="1557.5"/>
<use href="#rb" x="775.2" y="1558.9"/>
<use href="#rb" x="762.5" y="1559.0"/>
<use href="#rb" x="749.9" y="1559.1"/>
<use href="#rb" x="737.2" y="1560.9"/>
<use href="#rb" x="724.6" y="1561.6"/>
<use href="#rb" x="711.9" y="1608.6"/>
<use href="#rb" x="699.3" y="1758.6"/>
<use href="#rb" x="686.6" y="1767.8"/>
<use href="#rb" x="674.0" y="1774.7"/>
<use href="#rb" x="661.3" y="1782.4"/>
<use href="#rb" x="648.6" y="1785.4"/>
<use href="#rb" x="640.2" y="1787.2"/>
<use href="#rb" x="598.0" y="1786.9"/>
<use href="#rb" x="555.9" y="1788.8"/>
<use href="#rb" x="513.7" y="1787.3"/>
<use href="#rb" x="471.5" y="1788.0"/>
</g>
<rect x="471.5" y="37.6" width="1181.0" height="905.9" fill="none" stroke="#000" stroke-width="3"/>
<path d="M555.9 943.5V928.5M808.9 943.5V928.5M1062.0 943.5V928.5M1315.1 943.5V928.5M1568.1 943.5V928.5M682.4 943.5V935.5M935.5 943.5V935.5M1188.5 943.5V935.5M1441.6 943.5V935.5M471.5 866.7H486.5M471.5 713.2H486.5M471.5 559.6H486.5M471.5 406.1H486.5M471.5 252.6H486.5M471.5 99.0H486.5M471.5 790.0H479.5M471.5 636.4H479.5M471.5 482.9H479.5M471.5 329.3H479.5M471.5 175.8H479.5" stroke="#000" stroke-width="3"/>
<rect x="471.5" y="1130.4" width="1181.0" height="905.1" fill="none" stroke="#000" stroke-width="3"/>
<path d="M555.9 2035.5V2020.5M808.9 2035.5V2020.5M1062.0 2035.5V2020.5M1315.1 2035.5V2020.5M1568.1 2035.5V2020.5M682.4 2035.5V2027.5M935.5 2035.5V2027.5M1188.5 2035.5V2027.5M1441.6 2035.5V2027.5M471.5 1958.8H486.5M471.5 1805.4H486.5M471.5 1652.0H486.5M471.5 1498.6H486.5M471.5 1345.2H486.5M471.5 1191.8H486.5M471.5 1882.1H479.5M471.5 1728.7H479.5M471.5 1575.3H479.5M471.5 1421.9H479.5M471.5 1268.5H479.5" stroke="#000" stroke-width="3"/>
<g clip-path="url(#cc)">
<path d="M1993.5 914l.5 17.3 .6-6.6 .5-8.5 .6-28.9 .5 14.8 .5 25.3 .6 5.3 .5-22.7 .6 10.1 .5-7.3 .6 4.2 .5-9.4 .5 .6 .6 7.3 .5-.4 .6 19.8 .5-11.4 .5 8.7 .6-1.4 .5-24.7 .6-.4 .5 26.6 .6-2.6 .5-21.8 .5 28.1 .6-11.5 .5-3.4 .6 9.5 .5-4.4 .5-3.8 .6-15.3 .5 17.4 .6 8.9 .5-5.9 .5 4.9 .6-12.1 .5 .6 .6-14.8 .5 19.1 .6-29.5 .5 30.3 .5-5.3 .6-10.7 .5 15.1 .6-5.4 .5 14.8 .5-3.3 .6-2.1 .5-12 .6-8.2 .5 17.2 .6 3.9 .5-7.8 .5 10 .6-10.9 .5 7.8 .6-19.3 .5-1 .5 21.1 .6 .7 .5-3.6 .6-8.6 .5 13 .5-20.8 .6 15.1 .5-10 .6 1 .5-9 .6 27.8 .5-23.7 .5 10.6 .6-4.7 .5-3.7 .6-.1 .5-13.4 .5-4.6 .6 13.9 .5 3.1 .6-3.2 .5-1.5 .6 17.4 .5-9.4 .5 11.7 .6 2.4 .5 5.1 .6-21.1 .5-3 .5 11.9 .6 9.2 .5-8 .6-6.4 .5 13 .6-5.4 .5-18.8 .5 2.1 .6 26.8 .5-10.7 .6-8.2 .5 9.2 .5 1.8 .6-9.7 .5 6.4 .6-14.3 .5-4.2 .5 17.6 .6-5.6 .5 3.5 .6 6.3 .5-12.5 .6 20 .5-6.7 .5-10.7 .6 10 .5-12.7 .6 21.3 .5-12.9 .5-10.8 .6-5.4 .5 14.7 .6-14.7 .5 16.7 .6-34.2 .5-14.7 .5 40.7 .6 .3 .5-15 .6 21.6 .5 10.6 .5-15.8 .6 5.6 .5 .1 .6-14.6 .5 4.8 .5 8.9 .6 2.4 .5 1.7 .6 5.9 .5-19.9 .6 17.7 .5 .4 .5-20.7 .6 3.3 .5 1.1 .6-.8 .5 .7 .5-4.6 .6 23.9 .5-24.8 .6 17.7 .5-1.3 .6-13.5 .5-11.3 .5 10.2 .6-13.2 .5 11.8 .6 7 .5-4.7 .5 2.1 .6-3.9 .5-.9 .6 27.1 .5-26.9 .5-.7 .6 15.5 .5 .6 .6 .6 .5-5.2 .6-2.9 .5 2 .5 5.7 .6 3.9 .5 1.3 .6-.4 .5 1.4 .5-1.7 .6-21.1 .5 28.5 .6-19.7 .5 6 .6 10.6 .5-12 .5 13 .6-8 .5-6.1 .6-7.9 .5-2.9 .5 14.3 .6 3.5 .5 8.2 .6-5.2 .5 1.2 .5-15.4 .6 7.4 .5 1.5 .6 1.1 .5 8.1 .6-7.8 .5 6.4 .5-17.5 .6-.9 .5 10 .6 5.6 .5 2 .5-10.8 .6-1.7 .5 10.5 .6-7.7 .5-.6 .6 5.3 .5 .7 .5 6.2 .6-1.4 .5-11.7 .6 6.3 .5-11.4 .5-1.8 .6-.5 .5 17.7 .6-11.7 .5 5.7 .5 5.4 .6-3.3 .5-7.3 .6-8.3 .5 7.5 .6-.4 .5 15.3 .5-12.9 .6 2 .5-8.5 .6 20.5 .5-9.6 .5-9.4 .6 17 .5-2.7 .6 5.6 .5-13.8 .6 11.3 .5-12.6 .5 2.4 .6 7.7 .5 1.4 .6-19.5 .5-12.3 .5-3.8 .6 4.4 .5 21.4 .6-.1 .5 2.8 .5 6.7 .6-14.4 .5 6.2 .6-15.1 .5 18.7 .6-17.3 .5 26.5 .5-21.8 .6-6.4 .5 25 .6-19.8 .5 7.6 .5-6.6 .6-1.4 .5 2.6 .6-5.5 .5 3.9 .6 3.1 .5 15.9 .5 3.3 .6-6.3 .5-11.9 .6 6.7 .5 5.1 .5-10.5 .6-5.2 .5 13.9 .6-11.2 .5 19.1 .6-7.9 .5 1.3 .5-16.7 .6 8.4 .5-11 .6 10.7 .5 14.1 .5-4.4 .6-16.2 .5 13.2 .6-2.5 .5-11.9 .5 19.7 .6-13.9 .5 5.4 .6-5 .5-6 .6 0 .5 17.4 .5 5.3 .6-24.7 .5 19.3 .6-8.2 .5-13 .5 22.2 .6 2.1 .5-18.3 .6-4.1 .5 9.9 .6 15.2 .5-24.2 .5 3 .6 1 .5 10.4 .6-4.4 .5-2.5 .5 16 .6-23 .5-1.4 .6 24.8 .5-15.1 .5 9.3 .6-6.5 .5-4 .6-6.3 .5 3.6 .6 18.1 .5-.3 .5-19.3 .6-4.7 .5 10.4 .6-10.7 .5 24.5 .5-20.2 .6 19.1 .5-8.9 .6 9.6 .5 1.4 .6-8.6 .5-6.7 .5 .6 .6 11.3 .5-7.2 .6-12.3 .5 6.6 .5 2.1 .6 8.8 .5-8.2 .6-4.9 .5 7.6 .5-1.8 .6 4.4 .5-5.2 .6 12.5 .5-14.5 .6-4.9 .5 7.1 .5-5.5 .6 8.1 .5 8.3 .6 2.3 .5-1 .5-19.4 .6 3.4 .5-2.7 .6 17.8 .5-17.3 .6-1.6 .5 3.2 .5 15.3 .6-15.2 .5 15.2 .6-17 .5 17.8 .5-.6 .6-17.7 .5 17.6 .6-.3 .5-17.2 .5 4.4 .6 3.5 .5 1.3 .6-1.2 .5-.6 .6-14.3 .5 8.4 .5 12.6 .6 5.8 .5-19.2 .6 14.8 .5-7.8 .5 5.1 .6-11.8 .5-2.4 .6 21.4 .5-19.6 .6 14.1 .5-6.2 .5 2.3 .6 7.8 .5 .3 .6-8.4 .5-16.1 .5-14.6 .6 20.9 .5 19.3 .6-11.7 .5-2 .5 10.1 .6 .1 .5-1.8 .6-15.4 .5 .6 .6 7.5 .5 2.5 .5-3.1 .6-32.9 .5 4.1 .6 22.1 .5 2.7 .5 8.1 .6 6.1 .5 3.3 .6-4.2 .5-11.3 .6 5.2 .5 9.7 .5-19.6 .6 14.3 .5-11.1 .6 3.5 .5 13.2 .5-15.2 .6 7.3 .5 5.4 .6 2.6 .5-9.3 .6-11.3 .5 12.7 .5-10.6 .6 3.9 .5-1.5 .6 8.9 .5 6.3 .5-17.4 .6-.7 .5 19.3 .6-20 .5 5 .5 12.9 .6-6.7 .5-7.2 .6 10.6 .5 5.3 .6-11 .5 8.9 .5 .8 .6-8.1 .5 6.6 .6 0 .5-2.7 .5-4.8 .6-4.7 .5 7.3 .6-6.5 .5 13.9 .6-8.3 .5 3.6 .5-10.5 .6 4.7 .5 1.9 .6-9.9 .5 12.8 .5-7.3 .6 7.6 .5-8.2 .6 7.4 .5 .4 .5 2.5 .6-4 .5 2.6 .6-6.3 .5 3 .6-4.1 .5 7.5 .5-7.5 .6-.5 .5-4.8 .6-13 .5-8 .5 19.9 .6 4.3 .5 5.1 .6 8.1 .5 .3 .6-12 .5 10.6 .5 .9 .6-16.1 .5-10.3 .6 13.9 .5 11.3 .5-2.8 .6 2.3 .5 .2 .6-7.1 .5-3.2 .5-2.2 .6-1.8 .5 16.5 .6-9.2 .5-5.5 .6 11 .5-5.2 .5 5.1 .6 .2 .5 3.2 .6-14.9 .5 4.2 .5 1.6 .6-4.4 .5 10.9 .6-12 .5 1.4 .6-13.2 .5 12.4 .5 15.3 .6-6.7 .5 2.1 .6-5.4 .5-3 .5 1.8 .6-6.8 .5 13 .6-9.7 .5-7.2 .5-4.2 .6 .9 .5-12.9 .6 24.7 .5 .8 .6-4 .5-5.1 .5-17.9 .6 15.1 .5 24.4 .6-7.3 .5-3.7 .5-4.6 .6 10.9 .5-15.6 .6 7.2 .5-11.1 .6 1.4 .5-3.6 .5 0 .6-3.4 .5 8.5 .6-14.4 .5 0 .5-13.4 .6-4.9 .5 7.7 .6-4.6 .5-13.8 .5 9.6 .6-6.6 .5 12 .6 5.4 .5 8 .6-29.1 .5 20.6 .5-6.5 .6 20.7 .5-23.2 .6 11.4 .5-.8 .5 21.5 .6-18.2 .5 16.2 .6 3.8 .5 .4 .6-1.4 .5-2.7 .5 2.6 .6-3.1 .5-5.5 .6 20.7 .5-23.2 .5 16.4 .6-12.8 .5-4.5 .6-9.8 .5 11.4 .6 9.5 .5-12.4 .5 22.9 .6-4.1 .5-9.5 .6 8 .5-8.6 .5 9.9 .6-19.1 .5-.1 .6 5.2 .5 14.4 .5-5.5 .6-7.8 .5 9.4 .6 6 .5 0 .6-9.9 .5 5.3 .5 8.1 .6-3.7 .5-3.7 .6 4.3 .5-15.5 .5 16.3 .6-2.8 .5-.4 .6-6 .5 1.3 .6-6.2 .5 1.2 .5 1 .6-.4 .5-18.2 .6 6.6 .5 .4 .5-.5 .6 13.2 .5 2.2 .6-1.5 .5-19 .5-6.9 .6 16.6 .5-4.2 .6-2.7 .5 6.4 .6-8.6 .5 8.8 .5 5.5 .6 4 .5-11 .6 3.3 .5-9.1 .5 3.2 .6 6.1 .5 12.7 .6-25.1 .5 11.6 .6 .1 .5-3.9 .5 6.1 .6 2.5 .5 11.3 .6-6 .5-.7 .5-5.4 .6 17.6 .5-20.9 .6-1 .5 13.2 .5-12.6 .6 6.4 .5 10.1 .6-8.9 .5-1.8 .6 5.4 .5 5.4 .5 1.9 .6-1 .5-3.3 .6 13.6 .5-4 .5-14 .6 0 .5 10.2 .6-9.5 .5 14 .6-4.2 .5-1 .5 0 .6 0 .5-6.2 .6 2.8 .5 9.9 .5-.2 .6-9.8 .5-3.5 .6 16.7 .5-1.9 .5-9.4 .6-1.8 .5 13.1 .6-11.8 .5 5.9 .6-6.6 .5-.9 .5-1.9 .6-13.5 .5 7.8 .6 9.4 .5 11.2 .5-5.7 .6-6.8 .5 6.7 .6-2 .5-8.5 .6 3.5 .5 9.7 .5-8.7 .6 2.1 .5 .1 .6 10.4 .5 .6 .5-15.3 .6 6.1 .5 4.6 .6-9.1 .5 6.1 .5-1.6 .6 2 .5 4.3 .6-8.7 .5-10.9 .6-3.7 .5 10.3 .5 6.5 .6 .7 .5-.6 .6-6.1 .5 9.7 .5-10.3 .6 12 .5-9.8 .6 3.8 .5-4 .6 9.3 .5-12.2 .5 11.2 .6 4.7 .5-12.6 .6 3.9 .5 9.2 .5-9.8 .6-7.2 .5 6.8 .6 7.6 .5-14.1 .5 6.9 .6-2.6 .5-15.2 .6 12.9 .5 3.3 .6-2.2 .5 9.4 .5 .7 .6-6.9 .5-6.9 .6 15.9 .5-6.6 .5-8.7 .6 5.2 .5 6.9 .6 2 .5-7.1 .6 5.3 .5 4.4 .5-13 .6-2.8 .5-4.1 .6 8.3 .5 1.4 .5 2.2 .6 2.3 .5-3.1 .6-8.8 .5-11.8 .6 22.7 .5-11.4 .5 13.2 .6-9.9 .5-2.6 .6-10 .5 6.3 .5-1.3 .6-1.9 .5-5.8 .6 13 .5 3.4 .5-7 .6-12.8 .5-9.9 .6 15.1 .5 21.6 .6 3 .5-15 .5 1 .6 8.6 .5-.1 .6 10 .5-7.4 .5-1.1 .6 5.1 .5-6.2 .6-1.3 .5-.9 .6-3.3 .5 0 .5 11.3 .6-1.9 .5-8.3 .6-.5 .5 7.1 .5 1.9 .6-13.1 .5 8.1 .6-2.6 .5 8.9 .5-24.6 .6 11.4 .5-11.5 .6 11.4 .5-15.6 .6-4.2 .5 20 .5 3.7 .6-7.8 .5 5.5 .6 5.3 .5-2 .5-9.7 .6 19.5 .5-12.7 .6 1.1 .5-7.5 .6 4.7 .5 .8 .5 11.3 .6-13.9 .5 0 .6 11.2 .5 .8 .5 .6 .6 2.9 .5-2.4 .6 4.4 .5-24.6 .5-9.9 .6 15.4 .5 4.8 .6 8.6 .5-22 .6 12.3 .5-4.2 .5 5.9 .6-11.6 .5 8.8 .6-6 .5 5.1 .5-6.4 .6 4.5 .5 3.5 .6-6.9 .5 21.4 .6 2.8 .5-10.5 .5-6.9 .6 3.9 .5 13.2 .6-19.8 .5 10.3 .5-2.8 .6-2.9 .5 7.6 .6-9.7 .5-4.1 .5 11.9 .6-1.1 .5 6.8 .6 1 .5 1.1 .6-13.7 .5-3 .5 5.1 .6 11.1 .5-5.8 .6-2.6 .5-4.5 .5 12.5 .6-9.4 .5-6.6 .6 2.9 .5 8.9 .6-1.9 .5 4.9 .5-6.4 .6-11.9 .5 14.5 .6 6 .5-5.1 .5 4.8 .6-6.8 .5-6 .6 14.9 .5-8.7 .5 8.6 .6-16 .5 6.2 .6 5.7 .5-9.9 .6 13.1 .5-6.9 .5 2.6 .6 2.8 .5-5.2 .6-1.5 .5 2.3 .5-7.8 .6 2.7 .5-1.8 .6 10.1 .5-9.7 .6 11.4 .5-7.6 .5 7 .6-1.6 .5 1.1 .6-12.7 .5 1.2 .5 1.3 .6 5.6 .5 6.6 .6-1.8 .5-4.3 .6-8.2 .5 10.5 .5 .7 .6-1.6 .5 4 .6-13.2 .5 4 .5 3.1 .6-12.8 .5 14.6 .6-6.9 .5-6.5 .5 1.4 .6 2.6 .5-.7 .6-5.2 .5-12.2 .6 14.4 .5-1.3 .5-.3 .6-13.2 .5 8.9 .6-5.7 .5-9.3 .5-9 .6 7.3 .5 1.4 .6-6.1 .5-9.3 .6 2.9 .5 15.2 .5-17.3 .6 4.5 .5-28.2 .6 26.8 .5-2.7 .5-29.9 .6 1.3 .5 8.4 .6-.5 .5-24.5 .5 23 .6-15.1 .5-7.4 .6 5.9 .5 13.7 .6-9.9 .5 8.5 .5-9 .6 2.5 .5-12.7 .6 11.6 .5-7.8 .5 1.4 .6 12.1 .5 5.5 .6 2.5 .5-9.2 .6 6.7 .5 10.7 .5-6.5 .6-2.6 .5 10.3 .6-11.6 .5 23.4 .5-12.7 .6 13.8 .5-12.5 .6 13.1 .5 3.3 .5 .4 .6 3.3 .5 10.1 .6 1.5 .5 10.6 .6-3.9 .5 6.4 .5 7.7 .6-28.2 .5 13.3 .6 1.5 .5 11 .5-.3 .6 2.7 .5-1.2 .6-1.3 .5 9.8 .6-10.6 .5 11.2 .5-2.1 .6-7.3 .5-1.5 .6 11.6 .5-5.8 .5 8 .6-2.4 .5-.8 .6-6.6 .5 4.1 .5-2.5 .6 8.6 .5-15.4 .6 16.7 .5-13.8 .6 13.9 .5-15.8 .5 6.1 .6-1.7 .5-4.5 .6 .1 .5 12.9 .5 1.2 .6-2 .5-5.8 .6-5 .5 6.2 .6 6.6 .5-8.9 .5-5.4 .6 14.7 .5-9 .6 3.8 .5-1.9 .5-2.6 .6 5.8 .5-10.2 .6 13.4 .5 1.3 .5-11.8 .6-1.7 .5 4.3 .6-1.4 .5-.4 .6 1 .5 .4 .5 5 .6 1.5 .5-7.4 .6 2.8 .5-4.1 .5-19.7 .6 9.2 .5 14.7 .6-2.3 .5 .6 .6 6.7 .5-1.7 .5-5.7 .6 9.4 .5-8 .6-3.6 .5 11.7 .5-3.1 .6 .9 .5 3.4 .6-.2 .5-14.4 .6 10.8 .5-2.2 .5-.8 .6 3.9 .5-3.5 .6 5 .5-7 .5-11.7 .6-17.8 .5-2.1 .6 21.9 .5 3.4 .5-10.9 .6 10.7 .5 11.1 .6-4.2 .5 6.3 .6-7.5 .5-1.7 .5-1.4 .6 8.2 .5-1.4 .6 4.7 .5-3.2 .5-2.3 .6-10.5 .5 3.4 .6 13.3 .5-.4 .6-19.4 .5-16 .5 19 .6 10.6 .5-1.3 .6-5.4 .5 1.9 .5-4.3 .6 9.9 .5-11.2 .6 3.7 .5 12 .5-12 .6-3.2 .5-2.3 .6 5.3 .5 5.2 .6-2.3 .5-5.6 .5-.3 .6 2.8 .5-1.6 .6-.4 .5-.8 .5 11.2 .6 4 .5-4.7 .6 2.5 .5-9.3 .6 11.1 .5-14.4 .5 13 .6-14.7 .5 .1 .6 4.2 .5-3 .5 4 .6 .9 .5-4.3 .6 11.5 .5 2.4 .5-10.6 .6 .7 .5 9.6 .6-13.7 .5-1.2 .6 9.9 .5 3.7 .5-9.9 .6 2.3 .5-1 .6 8.2 .5-6.5 .5-4.7 .6 .5 .5 5.9 .6-20.7 .5 2.5 .6 12.4 .5-3.6 .5 11.4 .6 4.5 .5-5.7 .6-10.7 .5 13.3 .5 1.3 .6-3.2 .5-14.5 .6 7 .5-8 .5 21.6 .6-7.1 .5-6.2 .6 .1 .5 1.9 .6 8.1 .5-5 .5-9.5 .6 17.1 .5-15.5 .6 5.6 .5-2 .5 10.1 .6 1.7 .5-7.5 .6-10 .5-3.1 .6 4.1 .5 4.6 .5 1.7 .6-4.1 .5 12 .6 2.1 .5-5.7 .5 2.1 .6-7.6 .5 3.7 .6 .2 .5-.9 .5-.6 .6 4.4 .5-2 .6 5.3 .5-.8 .6-4.3 .5 5.2 .5 2.6 .6-16.7 .5 8.7 .6 1 .5-5.5 .5 9.1 .6-11.7 .5 14.8 .6-4 .5-1.9 .6 5.3 .5-10.7 .5 11.6 .6-7.5 .5 .4 .6-3.8 .5 2.5 .5-5.3 .6 .5 .5 4.2 .6 .8 .5 5.6 .5-17.2 .6-10.2 .5 16.3 .6 5.1 .5 3 .6-8.2 .5-1.6 .5 7.3 .6-10.1 .5 10.3 .6-.9 .5-4.8 .5 11.3 .6-10.3 .5 10.4 .6-9.6 .5 3.6 .6 4.7 .5-8 .5 1.6 .6 7.8 .5-6.4 .6 6.3 .5-3.7 .5-9.7 .6-1.8 .5 6.5 .6-11.3 .5 9.2 .6 8.2 .5-1.4 .5 6.5 .6-4.4 .5-8.9 .6-1.4 .5-2.1 .5 11.7 .6-10.5 .5 2.7 .6 12.3 .5-12.8 .5-2.5 .6-13.8 .5-11.2 .6 2.9 .5-23.3 .6-7.9 .5-.1 .5-21.3 .6 10.6 .5-2.4 .6 17 .5-6.4 .5 14.6 .6 19.8 .5 5.2 .6 9.5 .5 .2 .6 13.9 .5 1.8 .5 2.2 .6-15.8 .5-.4 .6 16.1 .5 2 .5-7.1 .6-3.5 .5-.3 .6 1.8 .5 3.7 .5 4.3 .6-19.3 .5 10.1 .6 6.1 .5-4.1 .6-18.2 .5-2.3 .5-.7 .6-3.2 .5-6.3 .6-38.2 .5 7.3 .5-12.4 .6 1.7 .5-19.5 .6 3.1 .5-13.5 .6 30.4 .5-12.2 .5 8.8 .6-5.7 .5 34 .6-17.5 .5 8.5 .5 2.7 .6 4.1 .5-.8 .6 9.2 .5-9.3 .5-6.2 .6 8.5 .5 2.2 .6 4 .5 .6 .6 7.8 .5-6.8 .5 7.7 .6-8.6 .5 8.4 .6-19.9 .5 13.2 .5 21.5 .6-5.2 .5 19.3 .6-6.1 .5 5.4 .6-6.6 .5 8.8 .5-3.6 .6 3.7 .5-76.8 .6-488.8 .5-2132.2 .5-5511.9 .6-7776.5 .5-3985.6 .6 3975.8 .5 7785.7 .5 5516.7 .6 2127.4 .5 490.3 .6 74 .5 11.8 .6-6.9 .5 2.4 .5 5 .6-2 .5 3 .6-7.3 .5 2.5 .5-.2 .6-1.8 .5-19.2 .6-4.5 .5 16.4 .6 8.5 .5 5.6 .5-15.3 .6 11.9 .5 3.2 .6-12.5 .5 2.2 .5 6.1 .6-.7 .5-9.7 .6-1.2 .5 16.1 .5 .8 .6-8.6 .5 5 .6-4.3 .5 4.4 .6-12.6 .5 4.6 .5-23.9 .6 17.9 .5-2.4 .6 10 .5-10.5 .5 16.9 .6-8.3 .5 10.7 .6-10.6 .5 5.3 .6 1.4 .5-15 .5 14.8 .6-3.2 .5-.6 .6-3 .5 12.4 .5-16.2 .6-3.9 .5 4.1 .6-2.3 .5 2.5 .6-4.1 .5 12.2 .5-9.5 .6 1.2 .5 1.6 .6 7.5 .5-6.7 .5 2.4 .6-2.8 .5-2.5 .6 4.6 .5-3 .5 1.7 .6 1.6 .5 1.7 .6 4.1 .5 1.6 .6 2 .5-2.7 .5-9.4 .6 2.7 .5 6.7 .6-7.4 .5 8.6 .5 3.8 .6-17.1 .5-10.2 .6 14.4 .5 10.6 .6-6.2 .5-.2 .5-1.6 .6 10.4 .5-10 .6 3.5 .5 1.9 .5 4.1 .6-3.2 .5 2.6 .6-9.3 .5 3.6 .5-2.6 .6 1.6 .5 1 .6 3.1 .5-8 .6 3.4 .5 3.2 .5-5 .6-4.1 .5 8.7 .6-5.1 .5 .3 .5-1.6 .6 5.7 .5-6.6 .6 12.3 .5-8.6 .6-3.5 .5 9.4 .5 .5 .6-3.1 .5-3.4 .6 2.8 .5 0 .5 1.1 .6 2.1 .5-11 .6 11.8 .5-13.7 .5 8.9 .6-9.7 .5 7.3 .6-5.4 .5 7.7 .6 1.9 .5-6 .5 10.8 .6-4.7 .5-3.5 .6 1.9 .5-10 .5 1.9 .6 3.6 .5 5.9 .6-10.7 .5 6.2 .6-1.9 .5-.2 .5 7.3 .6-12.6 .5-1 .6 5.1 .5-5.1 .5-1.2 .6 16 .5-10.8 .6 5.9 .5-7.2 .5-2.3 .6 9.8 .5-1.8 .6-3.1 .5 8 .6-10.5 .5-.6 .5 5.4 .6 2.3 .5-4.3 .6-.4 .5-9.6 .5 11.9 .6-10.7 .5 2.2 .6 4.6 .5-2.9 .6-2.7 .5 4.1 .5 14.4 .6-27.4 .5 23.4 .6-3.9 .5-11.6 .5 4.7 .6 6.2 .5-6.2 .6 6.7 .5-14.2 .5-11.5 .6 23.9 .5-10.8 .6 9.3 .5-22.2 .6 30.1 .5-8.2 .5-2.8 .6-7.5 .5-7.4 .6-7.1 .5 12 .5-2.9 .6-12.9 .5 .5 .6 10.5 .5 5.4 .6-21.5 .5 16.5 .5-17 .6 12.8 .5-6.1 .6-4.1 .5 8.4 .5-24.8 .6 22.7 .5-21.4 .6-8.5 .5 19.5 .6-9.8 .5-16.5 .5 26.8 .6-30.2 .5 18.1 .6-2.6 .5 6.7 .5-9.3 .6 2.5 .5-23.1 .6 5.1 .5-.6 .5 12.5 .6-14.3 .5-30.3 .6 26 .5-14.2 .6 22 .5-10.9 .5-32.6 .6 12.5 .5 9.2 .6-10.8 .5 4.4 .5 3.7 .6-8.3 .5-27.2 .6-12 .5 56.2 .6-14.5 .5 5 .5-53.5 .6-9.1 .5-3.6 .6 39.8 .5-18.6 .5-16.2 .6-9.8 .5 8.8 .6-31.6 .5 11.7 .5-10.3 .6-.8 .5 27.4 .6-25.1 .5 14.6 .6-9.6 .5-5.4 .5-6.5 .6-3.3 .5-4.9 .6-4 .5-26.2 .5 28.5 .6-39.8 .5 1.4 .6-40.4 .5 38.9 .6 3.3 .5 1.9 .5-26.2 .6 39.8 .5-64 .6 51.2 .5-65.5 .5-5.7 .6 88.6 .5-60.4 .6-14.8 .5 21.7 .5-23.4 .6 1.7 .5-13.5 .6 2.5 .5 32.6 .6-36.2 .5-26.6 .5 39.4 .6-3.1 .5-55.7 .6 82.5 .5-69.1 .5 16.9 .6 18.4 .5-67.3 .6-6.8 .5 78.5 .6-53 .5-9.9 .5 60.9 .6-52.3 .5 4.3 .6-36.3 .5 69.3 .5-69.1 .6 67.8 .5-39.2 .6-28.2 .5 31.2 .5-46.5 .6 59.5 .5-6.9 .6-22.7 .5-25.2 .6 42.1 .5 44 .5-68.7 .6-15 .5 78.1 .6-9.7 .5 6 .5-25.2 .6 11.6 .5-21.4 .6 36.5 .5-24 .6-7.5 .5-34.8 .5-36.2 .6 52.7 .5-5.8 .6 5.1 .5 10.5 .5 35.1 .6-37.8 .5 32.5 .6-25.6 .5-57.8 .5 91.6 .6-37.4 .5-57.2 .6 25.4 .5 32.5 .6-5 .5-19.2 .5-.8 .6-29.9 .5 5.4 .6 50.8 .5-34.3 .5 14.3 .6 55.8 .5-35 .6-7.8 .5-27.5 .6 10.8 .5 14.8 .5 10.1 .6-35.2 .5 11.1 .6 74.9 .5-81.8 .5 20 .6 58.6 .5 12.9 .6-51.3 .5 24.9 .5-23.6 .6 29.2 .5 15.5 .6 10 .5 28.8 .6-15.9 .5-32.2 .5-28.6 .6 16.1 .5 7.7 .6 3.2 .5-25.8 .5 8.1 .6 50.5 .5 28.3 .6-34.4 .5-1.6 .6 61.6 .5-12.9 .5-46.6 .6-8.2 .5 31.8 .6 30.2 .5 3.7 .5 7.8 .6-28.2 .5-2.9 .6 55.2 .5-4 .6 14 .5-31.8 .5-28.8 .6 48.6 .5-9.3 .6 10.1 .5-21.4 .5 33.1 .6 3 .5 7 .6-22.7 .5 24.9 .5 23.1 .6 4 .5-34.2 .6 34.6 .5-9.6 .6-25.4 .5 17.5 .5 2.2 .6 17.7 .5 16.9 .6-35.6 .5 26.1 .5 27.1 .6 18.5 .5-57.8 .6 24.6 .5 34.1 .6-39 .5 29 .5-28.5 .6 49.6 .5-9.1 .6 3.9 .5-21.7 .5 19.5 .6 12.3 .5-34.4 .6 45 .5-28 .5 23.2 .6 17 .5-18.3 .6 1.5 .5-20.3 .6 27.2 .5-11.5 .5 16 .6 8 .5 .8 .6-10.4 .5-7.6 .5 29 .6-13.7 .5 11.5 .6-9.7 .5 11.6 .6 14.9 .5-13.8 .5 4.7 .6 8.6 .5-14.4 .6 .9 .5-9.9 .5 19.8 .6-2.5 .5 13.5 .6-20.3 .5 20.2 .5-10.3 .6 9.2 .5-4.6 .6 3.7 .5-9.9 .6 1.9 .5 10 .5 17 .6-17.2 .5 7.8 .6-7.6 .5 11.2 .5-13.1 .6-4.8 .5-2.5 .6 17.8 .5 4.3 .6-17 .5 6.3 .5 1.3 .6 5.5 .5 4.4 .6-3.3 .5 1.4 .5-.5 .6 6.9 .5-11.2 .6-1.6 .5 10.1 .5 1.5 .6 5.2 .5-11.6 .6-7 .5 6.2 .6-2.3 .5-.5 .5 13.5 .6-2.7 .5-11.7 .6 4.3 .5 12.7 .5-8.4 .6 3.5 .5-3.5 .6 6.1 .5 .8 .6-14.4 .5 2.2 .5 .6 .6 5 .5 1 .6-10.1 .5 1.8 .5 7.2 .6 7.3 .5-4.4 .6-5.9 .5 3.8 .5-6.6 .6-.7 .5 5 .6 11.5 .5-7 .6 5.1 .5-8.7 .5-2.5 .6 8.4 .5-7.7 .6 8.6 .5-8.6 .5 3.2 .6-3.2 .5 1 .6 5.3 .5-8.8 .6 1 .5 9.9 .5 .2 .6-4.5 .5-5.6 .6 9.6 .5 3.1 .5-15.4 .6 9.7 .5-6.8 .6 5.9 .5 4 .6-3.3 .5-8.4 .5 2.7 .6 3.7 .5-4.2 .6 7.5 .5 3.3 .5-6 .6-2.7 .5-1.8 .6 8.7 .5 1.7 .5-7.5 .6 4.6 .5-6.9 .6 3.4 .5-6.8 .6 9.2 .5-3.9 .5-3.2 .6 9.3 .5-3.8 .6 5.3 .5-8.1 .5-1.3 .6 11.7 .5-7 .6-.2 .5-11.4 .6 6.7 .5 6.3 .5-12.7 .6 11.1 .5-2.8 .6 3.2 .5-2 .5-17.8 .6 5.1 .5-4.7 .6 10.3 .5 15.2 .5-18 .6 18.2 .5-16.1 .6 12.7 .5-9.9 .6 14.5 .5-21.6 .5 7 .6 1.9 .5 2.1 .6 2.2 .5 2.9 .5-4.9 .6 2.9 .5-14.1 .6 16.8 .5-14.2 .6 18.9 .5-.2 .5-23 .6 13.3 .5-3 .6 .1 .5 5.4" fill="none" stroke="#808000" stroke-width="3.0" stroke-linejoin="round"/>
<rect x="2735.3" y="32.5" width="5.2" height="325.5" fill="#808000"/>
<path d="M1993.5 1220.3l.5-1.6 .6 3.1 .5-4.2 .6 12.3 .5-25.4 .5 2.9 .6 26.5 .5-12.8 .6 13 .5-6.9 .6-23.9 .5-20.9 .5 24.7 .6 7 .5 21.1 .6-18.3 .5 12.3 .5-4.6 .6-10.3 .5 17.6 .6-16.2 .5 20.2 .6-4.1 .5-24.3 .5 18.4 .6-8.5 .5-4.6 .6-4.1 .5-.8 .5 24.9 .6-.2 .5-7 .6-4.6 .5 8 .5-19 .6 8.5 .5 15.2 .6-17.7 .5-10.1 .6 15.5 .5-6.2 .5 6.6 .6-2 .5-1.1 .6-7.1 .5-5.7 .5 10 .6 14 .5-9.7 .6 5 .5-4.3 .6 15 .5-11.3 .5-19.4 .6 10.6 .5-11.8 .6 19 .5-19.7 .5 28.7 .6-10.1 .5-10.8 .6 17 .5 3.6 .5-5.5 .6-13.5 .5 15.7 .6-3.8 .5 6.2 .6 5.5 .5-6.8 .5 3.2 .6-12.4 .5-8.7 .6 15.9 .5-11.9 .5 2.7 .6 10 .5-1.4 .6-37.1 .5 29.5 .6 14.5 .5-19.1 .5-9.1 .6 9.9 .5-5.4 .6 7.8 .5-10.5 .5 5.5 .6-1.5 .5 21.4 .6-6.2 .5-13.5 .6-7 .5 4.2 .5-1.7 .6 8.2 .5 2.4 .6 1.3 .5-12.9 .5 13.5 .6-8.4 .5-4.2 .6 27.5 .5-18.5 .5 5.4 .6 1 .5-6.3 .6 13.4 .5-3.1 .6-21.2 .5-12.1 .5 13.2 .6 21.3 .5-13.5 .6 .1 .5 8.6 .5 5.9 .6 4 .5-19.4 .6 8.9 .5-8.3 .6 11.6 .5-12.7 .5 19 .6-9.7 .5 12.4 .6-2.3 .5-11.2 .5-.5 .6-3.9 .5 3.9 .6 8.6 .5-.5 .5-3.6 .6 1.2 .5 6.9 .6-2.2 .5-.1 .6-6.5 .5 .7 .5 3.4 .6-1.8 .5-19.5 .6 2.8 .5-47 .5 68.8 .6-8.5 .5-4.6 .6-.7 .5-2.8 .6 .6 .5 11.3 .5 5.5 .6-3.2 .5-14.5 .6 9.2 .5 5.9 .5-4.6 .6-2.4 .5-3 .6 2.7 .5-4.1 .5-1.1 .6 11.6 .5-1.1 .6-3.6 .5-.3 .6 3.1 .5 .5 .5 .2 .6-.5 .5-1.2 .6-4.8 .5 3.7 .5-1.7 .6 3.9 .5 1.1 .6-3.5 .5 3.7 .6-7.8 .5 7.8 .5 5.3 .6-9.7 .5-5.5 .6-2.1 .5 1 .5 8.3 .6 1.8 .5 3.6 .6-17.7 .5 .4 .5 19.1 .6-15.6 .5 9.9 .6-1.1 .5-10.8 .6-.5 .5-9.7 .5 17 .6 5.6 .5-16.4 .6 10.7 .5 10.4 .5-.3 .6-13.6 .5 12.4 .6-14.2 .5 .3 .6 15.6 .5-17.9 .5 8.2 .6-9.7 .5 8.1 .6 2.6 .5-9.8 .5 11.1 .6 7.6 .5 .2 .6 1 .5-2.9 .5-18.4 .6 7.7 .5 6.7 .6 7.6 .5-9.7 .6-25.3 .5 21.7 .5 1.2 .6-2.8 .5-5.9 .6-1.7 .5 4.9 .5-4.6 .6 17.7 .5-10.4 .6-21.5 .5 18 .6 7.6 .5-4.4 .5-21.1 .6 22.1 .5-5.2 .6 15.4 .5-19.9 .5 7.7 .6-8.2 .5 19.2 .6-2.8 .5-11.2 .5 8.7 .6 .8 .5 8 .6-1.1 .5-14.5 .6-5.3 .5 12.5 .5 5 .6 1 .5-6.3 .6-2.8 .5 10.5 .5-11.8 .6-11.9 .5-4.9 .6 12.8 .5 13.1 .6-24.8 .5-4.3 .5 18.2 .6-7.5 .5-2 .6 13.4 .5 3.2 .5 2.5 .6-18.3 .5 13.8 .6 7.4 .5 3.2 .6 .5 .5-8.6 .5 .4 .6-5.6 .5-11.1 .6 18.6 .5 .2 .5 3.8 .6-21.8 .5 5 .6 2.5 .5 6 .5-2.8 .6 5.6 .5-10.6 .6-3.7 .5-2.5 .6 24.2 .5-7.6 .5-13.4 .6 5.3 .5-3.9 .6 9.1 .5 7.2 .5-1.3 .6-5.1 .5-15.7 .6 25.8 .5-18.9 .6 10.7 .5-4.1 .5 9.1 .6-14 .5 17 .6-21.1 .5 2.6 .5 14.4 .6-11 .5 13.8 .6-.3 .5 .4 .5-2 .6-4.8 .5-17.8 .6 18.5 .5-23.2 .6 2.6 .5 5.1 .5 8.8 .6-1.8 .5-9.8 .6 8.9 .5 14.8 .5-3.6 .6-6.5 .5-2 .6 1.1 .5-6.3 .6 4.3 .5-10.6 .5-1.5 .6 22.3 .5-14.6 .6-16.3 .5 15.3 .5 1.2 .6-6.2 .5 18.8 .6 6.2 .5-16.3 .5 13.8 .6-10.8 .5 1 .6 8.9 .5-3.4 .6-12.2 .5-1.5 .5 .2 .6 7.8 .5 .3 .6 8.2 .5-2.7 .5-15.7 .6 19.2 .5-5.6 .6 6.4 .5-4 .6-13.8 .5 16.4 .5 2 .6-7.8 .5 10.1 .6-3.6 .5-1.3 .5-4 .6-12.2 .5 20.4 .6-2.1 .5-.1 .5-17.2 .6 8.5 .5 6.3 .6-11.1 .5 3.5 .6 9 .5-2.5 .5-10.8 .6 9.4 .5 5.7 .6-6.6 .5-10.3 .5-12.5 .6 10.8 .5 6.9 .6 1.9 .5-7.9 .6 13.2 .5-4.3 .5 6.6 .6 3.8 .5 .5 .6-8.3 .5-4.8 .5-.6 .6-24.9 .5 8.8 .6 9 .5 11.9 .5-3 .6 .4 .5-.5 .6-2.1 .5 4 .6-3.2 .5 10.7 .5-.6 .6 1.7 .5-16.5 .6 13.1 .5-6.3 .5 .5 .6-1.8 .5 3 .6 3.5 .5-11.6 .6 13.8 .5-2 .5 3.8 .6-6.7 .5-8 .6 6.7 .5 8.3 .5 1.2 .6-11.6 .5-.8 .6-17.6 .5 6.7 .6-2.2 .5 6.4 .5 7.1 .6-10.8 .5-10 .6 8.2 .5 7 .5 9.1 .6 7.9 .5-17.5 .6 14.8 .5-2.6 .5 4.3 .6-1.1 .5-10.6 .6 1.2 .5 4.2 .6-2.8 .5 6.2 .5 .4 .6-12.7 .5-.1 .6 3.5 .5 1.8 .5 2.2 .6-4.7 .5-1.5 .6 15.7 .5-14.4 .6 8.5 .5-12.3 .5 9.4 .6 8.5 .5-10.2 .6 10.2 .5-.2 .5-13.4 .6 7.4 .5 .4 .6 .8 .5-.4 .5-11.5 .6 8.7 .5-6.6 .6 4.7 .5-2.6 .6-9.6 .5 9 .5-5.7 .6 2.3 .5 3.2 .6 5 .5-1.6 .5 5.8 .6-8.2 .5 5.1 .6-6 .5-4.1 .6 10.6 .5-3.6 .5 3.3 .6-13.5 .5 4.7 .6-3 .5 11.6 .5-2.6 .6 9.3 .5-4.2 .6 3.8 .5-19.5 .5 3.6 .6 5.4 .5-2.5 .6-1.6 .5 12.1 .6-8 .5 5.3 .5-15.4 .6 11.1 .5 6.3 .6-2.5 .5-4.2 .5-2.7 .6-9.1 .5-5.4 .6 13.3 .5 14.6 .6-3.5 .5-5.4 .5 6.5 .6-12.9 .5 13.6 .6-.2 .5-11.7 .5 10.3 .6-11.3 .5 12.7 .6 1.1 .5-16.7 .5 .9 .6 10.9 .5-6.5 .6-6.8 .5-5.2 .6-3 .5 2 .5 25 .6-12 .5 6.4 .6-4 .5 .6 .5-16 .6-5.1 .5-21.2 .6 2 .5 24.3 .6-3.7 .5 12.7 .5-16.3 .6 20.2 .5-23.3 .6-6 .5 3.5 .5-9.3 .6-10.4 .5 7.6 .6-21.3 .5 19.5 .5-11.2 .6 25.6 .5-10.1 .6 1.3 .5-4 .6 27.6 .5-18.3 .5 4.3 .6 15.5 .5-15.1 .6 19.5 .5-15.2 .5-19.7 .6 25.5 .5 7.6 .6 2.5 .5 4.3 .6-8.9 .5-3.5 .5 9.2 .6-11.3 .5 5.5 .6-2.7 .5 6.9 .5-8.9 .6 3.6 .5 .9 .6 11.2 .5-9.5 .6-7.8 .5-2.7 .5-4.7 .6-2.4 .5-.7 .6 10 .5 5.3 .5-7.4 .6 21.6 .5-16.7 .6-3.3 .5 13.2 .5-7.3 .6 1.8 .5-2.5 .6 12.3 .5-10.3 .6 .7 .5 4.4 .5 3.4 .6-4.1 .5-10.8 .6 5.9 .5 7.5 .5-7.5 .6-3.1 .5-1.9 .6 13.6 .5 9.1 .6-.1 .5-9.8 .5-3.2 .6 10.3 .5-10.1 .6 .9 .5 3.1 .5 1.9 .6-12.7 .5 .2 .6-.2 .5 14.8 .5 .6 .6-.2 .5 1.3 .6-8.8 .5 2.7 .6-10.7 .5 1.8 .5 4.1 .6 12.3 .5-7.3 .6 1.7 .5-6.3 .5 7.2 .6-8.6 .5-1.9 .6 17.5 .5-14.2 .6-3.6 .5 8.2 .5 3.6 .6-10.1 .5 3.3 .6-4.4 .5 1.1 .5 11.4 .6-5.9 .5-1.6 .6-3 .5-.7 .5 10.4 .6-1.7 .5 7.3 .6-.9 .5-8 .6 5 .5-7.2 .5 10.6 .6-9.1 .5-11.3 .6 14.3 .5-6 .5-1.6 .6 2.1 .5 9.6 .6-2.2 .5-3.7 .6-7 .5 8.9 .5-3.1 .6 12.6 .5-11.8 .6 .8 .5-1.5 .5 7.1 .6 2.3 .5-12.2 .6 2.3 .5 11.2 .5-1 .6-10.4 .5 7.9 .6 6.1 .5-20.8 .6 7.7 .5 9.2 .5-10.7 .6 13.7 .5-9.5 .6-5 .5 10.2 .5-14.7 .6 9.1 .5 4.8 .6-.9 .5-5.2 .6 1.9 .5-4.6 .5-3.5 .6-3 .5 5.2 .6 5 .5 2 .5 .2 .6 2.4 .5-10.2 .6 15.3 .5-3.4 .5-12.2 .6 13.5 .5-5.6 .6 1.3 .5 7.5 .6-3.9 .5-18.2 .5-10.4 .6 15.5 .5 7.8 .6-2.7 .5 10.3 .5-11.4 .6-3.1 .5 .3 .6 9.8 .5-.1 .6-3.3 .5 3 .5-3 .6-20.9 .5-.9 .6 19.4 .5 6 .5 4.8 .6-3.6 .5-5.9 .6 9.7 .5-16.1 .5 15.9 .6-5.1 .5-10.1 .6 5 .5-4.3 .6 5.6 .5-3.9 .5-4.4 .6 0 .5 14.8 .6-5.1 .5 2.1 .5-8.2 .6-3.8 .5 17.3 .6-11.1 .5 1.6 .6-6.3 .5 10.2 .5-1.6 .6-4.5 .5 13.4 .6-15 .5 12.9 .5-4.6 .6-2.6 .5-2 .6 4.2 .5 4.3 .6 2.3 .5-9.2 .5 1.3 .6 8.5 .5-5.6 .6-.8 .5-5.4 .5-6 .6-16.7 .5 20.6 .6-1.1 .5 14.7 .5-16 .6 6.3 .5 1.2 .6-1.7 .5-3.5 .6 4.2 .5 6.7 .5-.4 .6-5.5 .5-1.2 .6 6 .5-4.3 .5 8.4 .6-2 .5-5.4 .6-3 .5 1.1 .6 5.8 .5-5.4 .5-4.3 .6 .3 .5 1.6 .6 5.5 .5 3.8 .5-11.2 .6 10.5 .5-4.7 .6-4 .5-.6 .5-2.9 .6 11.6 .5-3.6 .6 2.2 .5 3.9 .6-9.9 .5 5.9 .5 4.3 .6-3.5 .5 .8 .6-5.6 .5-10.1 .5 12.1 .6 1.6 .5-10.9 .6 16.1 .5-17 .6 7.6 .5 3.9 .5-4.9 .6-.7 .5 1.9 .6-2.9 .5-4.4 .5 3.1 .6 13.3 .5-18.1 .6 2.1 .5 7.3 .5 6.7 .6-7.9 .5-3.7 .6 2.7 .5-4.8 .6-3.1 .5 13.3 .5 4.8 .6-9.5 .5-7.8 .6 4 .5-3.2 .5 1.9 .6 2.6 .5 3.2 .6 7.6 .5-1.2 .6 2.8 .5-3.3 .5 2.7 .6-14.9 .5 .7 .6-3 .5 11.7 .5 1 .6-1.4 .5 3.6 .6-5.9 .5-.7 .5-6.4 .6 10.5 .5-4 .6-6.3 .5 10.5 .6 .9 .5 .8 .5 3.3 .6-7.3 .5 3.6 .6-4.5 .5 6.5 .5-8.8 .6 2.4 .5-4.9 .6 9.5 .5-3.9 .6 5.8 .5-7.3 .5-5.1 .6-2 .5-.8 .6 .3 .5 10.8 .5-1.9 .6-8.2 .5 11 .6-8.3 .5-11.7 .5 3.4 .6 18.8 .5 3.1 .6-13.3 .5 10.6 .6-13 .5 9.9 .5-3.1 .6 .4 .5-12.8 .6 19 .5-14.9 .5 3.3 .6 13.6 .5-15.8 .6-15 .5 15.5 .6 10 .5-11.2 .5-4.1 .6 4.9 .5 8.2 .6 7.2 .5-20 .5 16 .6-6.5 .5-6.3 .6-2.6 .5 1 .6 12.3 .5-13.9 .5 6 .6 9.5 .5-.4 .6-16.4 .5 10.5 .5 2.9 .6-10.8 .5 3 .6 12.3 .5-3 .5-13 .6 5.8 .5-9.2 .6 5.1 .5 11.4 .6-14 .5-4 .5-2.6 .6 2.4 .5 12.9 .6-.4 .5-5.2 .5-20 .6 16.1 .5-7.6 .6 10.3 .5-22.7 .6 1.3 .5-6.7 .5-3 .6 8.7 .5-10.1 .6-9.2 .5-5.1 .5 20.2 .6-2.4 .5-4.2 .6 5.6 .5-2.1 .5-16.4 .6-5.5 .5 16.5 .6-19.2 .5-2.7 .6 2.7 .5 28.2 .5-20.1 .6 10 .5-13.7 .6 5 .5 8.3 .5-20.4 .6 2.5 .5 12 .6-3 .5 4.5 .6-3.1 .5 4.3 .5-1.2 .6-1 .5 18.5 .6-1.9 .5 .2 .5 9.1 .6-24.9 .5 16.5 .6 12.5 .5-2.7 .5 5.1 .6-3.2 .5 4.4 .6 4 .5-8 .6 3.5 .5 10 .5-3.7 .6-4.6 .5 11.8 .6-1.7 .5-9.5 .5 12.2 .6-7.1 .5 5.3 .6-3.1 .5 8.5 .6 3.2 .5-13 .5 10.9 .6-.2 .5 .4 .6-4.2 .5 5.4 .5-3.4 .6 5 .5-8.5 .6 2.8 .5-1.7 .5 3.3 .6 6 .5-6.4 .6-2.7 .5 10.1 .6 1.3 .5-8.8 .5 10.4 .6-3.9 .5-1.9 .6 4.4 .5 1.4 .5-.1 .6-5.8 .5-1.3 .6 2.5 .5 .8 .6 2.3 .5-10.3 .5 3.6 .6 .1 .5 8 .6-5.7 .5 5.9 .5-3.7 .6-9.6 .5-3 .6 4.5 .5-9 .5-1.9 .6 9.9 .5 10.9 .6-13 .5-29.9 .6 10.6 .5 9.8 .5 14.4 .6-4.5 .5 4.7 .6 .1 .5 5.3 .5 3.7 .6-11.1 .5 4.6 .6-17.2 .5 3.2 .6 6.8 .5 10.1 .5-.8 .6-1.8 .5-5.1 .6 .1 .5 5.7 .5-11.2 .6-6.3 .5 15.2 .6-3.2 .5 8.4 .6-10.2 .5 5.2 .5 4.4 .6 3.3 .5-13.4 .6 .6 .5-6.3 .5 12.2 .6-5.6 .5 4.6 .6-2.1 .5-3.1 .5-6.5 .6-2.5 .5 14.1 .6-9 .5-3.4 .6 11.7 .5-1.2 .5-1.1 .6 2.3 .5 6.7 .6-11 .5 5.8 .5-2.6 .6 .6 .5 4.3 .6 4.1 .5-4.9 .6-5.5 .5-.1 .5-1.2 .6 10.4 .5-1.3 .6-1.9 .5-4.3 .5 3.6 .6-7.7 .5-5.2 .6-4.3 .5 9.2 .5 6.6 .6-.9 .5 7.1 .6-6.9 .5 4.2 .6-9.3 .5 10.3 .5-4.3 .6-21.7 .5 8.7 .6 12.1 .5 8.3 .5-2 .6-1.4 .5 .6 .6-10.7 .5-.7 .6 6.3 .5 3.8 .5 3.8 .6-8.6 .5 6.5 .6-8.4 .5 9.6 .5-5.3 .6 .5 .5-9.3 .6-2.3 .5 .7 .5 1.2 .6 2.4 .5 7.5 .6-2.1 .5-6.5 .6 14.9 .5-1.3 .5-8.1 .6-9.1 .5 17.8 .6-5.2 .5-9.7 .5 3 .6-10.2 .5 11.3 .6 6.2 .5-2.4 .6 2.4 .5 2.2 .5 1.4 .6-7.1 .5 .1 .6 3.3 .5 3.5 .5-5.6 .6 2 .5 .3 .6-2.7 .5-12.6 .5-4.8 .6 9.5 .5 5.5 .6 4.5 .5-10.5 .6 10.5 .5-3.1 .5-3.3 .6 6 .5 4 .6-7.7 .5 7.9 .5-13.9 .6 2 .5 2.1 .6 5.9 .5-7.3 .6 8.5 .5-6.4 .5-9.8 .6-1.4 .5 6.9 .6 15.1 .5-7.2 .5-4 .6-2.6 .5 7.7 .6-4 .5 8.8 .5-7.1 .6 6.8 .5-2.3 .6-9.6 .5 4.9 .6 5.1 .5 3.4 .5-15 .6 1.1 .5-4 .6-17.9 .5 16.4 .5 12.9 .6-9 .5-3 .6-.4 .5 12.5 .6 1 .5-2.2 .5-2.2 .6-2 .5-4.4 .6-11.4 .5 6.3 .5 10.7 .6 9.6 .5-3.5 .6-1.7 .5 2.5 .5-7 .6 7.8 .5-4.6 .6-1.2 .5 3.6 .6-3.5 .5 3.6 .5-4.5 .6-5.4 .5 5 .6 2.3 .5-.9 .5 8.5 .6-4.7 .5-2.8 .6 6.8 .5-9.8 .6-5.5 .5 2.1 .5-18.5 .6 12.1 .5 13.5 .6 2.2 .5-7.2 .5 5.8 .6 3.1 .5-5.2 .6 4.9 .5-1.1 .6 3.8 .5-15 .5 1.6 .6 6.8 .5 3 .6-5.9 .5 7.4 .5 .3 .6-5.8 .5 .8 .6-5.8 .5 12.1 .5-.5 .6-11.5 .5-2.4 .6 10.1 .5-3.2 .6-6.9 .5 3.7 .5-5.8 .6 4.1 .5 12.1 .6-10 .5 6 .5-12.1 .6-5.8 .5 2.2 .6 .8 .5 9 .6-.5 .5-5.6 .5 3.4 .6 13 .5-3.2 .6 3.5 .5-8.2 .5 8.8 .6-17.3 .5 11.6 .6 5.2 .5-12 .5 10.4 .6-9.8 .5-.4 .6-.9 .5 5.6 .6 3.1 .5-11.3 .5 2.7 .6-1.2 .5-25.3 .6 11.8 .5 23.2 .5 2.3 .6-.6 .5-9.5 .6 1 .5 8.9 .6-1 .5-8.5 .5 3.6 .6-.8 .5 9 .6 .6 .5-11.6 .5-4 .6 6.6 .5-3.2 .6 4.6 .5 6.1 .5-6.3 .6-8.3 .5 3.9 .6 7.6 .5-10.1 .6-16.7 .5 2.1 .5 19.4 .6 .6 .5-3 .6-11.5 .5-2.6 .5 7.8 .6 11.7 .5-1.4 .6 2.1 .5 .4 .6-8.9 .5 2.6 .5 7.5 .6-15.1 .5-63 .6-503.8 .5-2134.2 .5-5503.9 .6-7786.8 .5-3973.9 .6 3985.1 .5 7771.3 .5 5512.1 .6 2132.8 .5 486.2 .6 69.6 .5 24.3 .6-13.9 .5 13.8 .5-1.2 .6-8.2 .5-3.6 .6 3.1 .5-14.8 .5 7.7 .6 10.9 .5-1.1 .6 2.7 .5-12.1 .6-3 .5-13.5 .5 9.4 .6 16.2 .5-.2 .6-11.2 .5 7.7 .5 5.3 .6-10.1 .5-2.2 .6-.5 .5 17.1 .5-15.1 .6-3.5 .5 2.1 .6 16 .5-6.3 .6-12.1 .5-7.1 .5 4.7 .6 .9 .5 13.3 .6-10.3 .5 9.3 .5-9.6 .6 7.5 .5 .8 .6-1 .5-2 .6-.8 .5 10.8 .5-10 .6 12.3 .5-9.7 .6 1.5 .5-.6 .5 .7 .6-3.4 .5 4.1 .6-1.2 .5 5.9 .6-5.2 .5-6 .5 2 .6 7.7 .5 1.3 .6-12.6 .5 10.3 .5 .6 .6-6.5 .5-2.6 .6 9.9 .5-8.1 .5-.6 .6 10.7 .5 2.3 .6-7.5 .5 11.6 .6-12.8 .5 7.9 .5-2.6 .6 4.4 .5-7.3 .6 8 .5-11.7 .5 5.4 .6-4.1 .5 4 .6-5.6 .5 1.9 .6-.6 .5 12.4 .5-1.8 .6-7.1 .5 .8 .6-4.6 .5 10.3 .5-8.5 .6-2 .5 6.8 .6-3.2 .5-22.9 .5 23.2 .6 3.5 .5 2.9 .6-8.7 .5 12 .6-.8 .5-9.4 .5-.5 .6 10.2 .5-4.9 .6-4.4 .5 5.3 .5 1 .6-7.5 .5 9.5 .6 2.5 .5-11.3 .6-4.9 .5-2.7 .5 8.9 .6 9.5 .5-6.2 .6 2.7 .5-1.1 .5-3.2 .6 3.2 .5-14 .6-10.1 .5 16.6 .5 7.7 .6-8.1 .5 3.9 .6 .6 .5-12.9 .6-6.3 .5 5.6 .5 20 .6-4.2 .5-5 .6 8.2 .5-3.8 .5 5.1 .6-7.2 .5-3.7 .6 4.8 .5-4.4 .6 7.6 .5-7.1 .5 7.5 .6-6.1 .5 9 .6-14 .5 0 .5 4.3 .6-1.5 .5-14.4 .6 12.3 .5 4 .5 6.6 .6 2.5 .5-11.9 .6 5.6 .5 4.9 .6-9.5 .5 8.2 .5 1.5 .6-3.7 .5-2.3 .6 3.4 .5-7.1 .5-13 .6-11.7 .5 6.2 .6 21.6 .5 1.8 .6-4.5 .5-1.7 .5 .1 .6-2.5 .5-13.7 .6 10.6 .5 7 .5 3.9 .6 0 .5 4.5 .6-6.9 .5-2.4 .5 8 .6-5.6 .5 9.7 .6-6.2 .5-10.4 .6-14.1 .5 14.6 .5 7.4 .6 2.7 .5 2.1 .6-11.4 .5 12.6 .5-4.2 .6 3.4 .5-.1 .6-1.5 .5-10.5 .6 7.1 .5-.5 .5 10.2 .6-10.3 .5 .3 .6-1.7 .5 2.1 .5-.5 .6 .6 .5-6.2 .6 6.9 .5-2.9 .6-10.3 .5 4 .5-.7 .6 3.5 .5-.4 .6 5.6 .5-1.8 .5-13.6 .6 14.7 .5-13.9 .6 4.6 .5-1.3 .5-2.5 .6-7.6 .5-4 .6 18.4 .5-2.2 .6-5.6 .5-12.5 .5 7.9 .6-6.1 .5 20.3 .6-11.4 .5-2.2 .5-15.5 .6-1.2 .5 17.6 .6-1.9 .5-16.7 .6 3.1 .5 11.2 .5-10.8 .6 14 .5-6.1 .6 6.2 .5-11.8 .5-1.9 .6 8.7 .5-2.8 .6-18.2 .5-1.1 .5 3 .6-11.1 .5 12.1 .6-13.4 .5 4.8 .6-1.9 .5-1.6 .5-.1 .6 9.4 .5-13.1 .6-9.2 .5 14.8 .5-12.5 .6 13.2 .5-11.3 .6-7.8 .5 3.5 .6 6.2 .5 1.3 .5-11.5 .6 23.9 .5-20.2 .6-2.1 .5 17.2 .5-15.2 .6-2.3 .5-12.3 .6 7.3 .5-.6 .5 9.5 .6-1.3 .5-1.7 .6-12.5 .5 14.8 .6-18.7 .5 6.6 .5-23.8 .6 21.1 .5-5.1 .6-21.9 .5 13.3 .5 15.4 .6-15.4 .5 5.8 .6-19.3 .5 29.4 .6-2 .5-10.2 .5 6.6 .6 12.5 .5-14.8 .6-11.3 .5 1.9 .5-15.5 .6 27 .5 3 .6-14.8 .5 16.7 .5-8.9 .6 11.9 .5-3.6 .6-24.3 .5-9.5 .6 6.7 .5 12.3 .5-14.2 .6-11.2 .5 4.7 .6 32.6 .5-14.5 .5 15.6 .6-22.9 .5 33.2 .6-35.9 .5 5.4 .6-7.3 .5-2.9 .5 28.2 .6 6.5 .5-15 .6-21.8 .5 25.4 .5-6.8 .6-16.8 .5-.9 .6 44.4 .5-36.4 .5 2.8 .6 19.2 .5-30.2 .6 6.5 .5 11.8 .6-23 .5 16.2 .5-6.1 .6 21.6 .5-11.6 .6 18.1 .5 2.6 .5-18.7 .6 13.2 .5 2.2 .6-31.9 .5 3 .6 7.5 .5 6.8 .5 10.1 .6-19.9 .5 25.1 .6 5.5 .5-2.5 .5-42.9 .6 32.5 .5-17.8 .6 8.6 .5 7.5 .5 16.2 .6-27.5 .5 32.9 .6-16.9 .5-12 .6 27.7 .5-30.4 .5 .1 .6 2.8 .5 19.9 .6-23.7 .5 11.5 .5-.1 .6 .7 .5 6.4 .6-6.2 .5 12.7 .6 6.8 .5-1.6 .5 7.7 .6 4 .5-31.8 .6 15.2 .5 3.7 .5-10.5 .6 13.9 .5-2 .6 26.1 .5-32.7 .6 18.4 .5-19.7 .5 17.1 .6-16.9 .5 12.1 .6-4.6 .5 25.4 .5 1.3 .6-5.6 .5-.4 .6 1.3 .5-5 .5 7.3 .6 14.1 .5-33.4 .6 10.1 .5 8.4 .6 10.8 .5-5.6 .5-6.7 .6 15 .5-7.4 .6 20.6 .5-28.5 .5 33.8 .6-18.6 .5 8.9 .6-4.7 .5-5.8 .6 8.4 .5-5.2 .5 14 .6-.7 .5-10.4 .6 7.1 .5 11.7 .5-8.5 .6-12 .5 10.9 .6 2.1 .5-5.3 .5-7.8 .6 18.6 .5-.4 .6-.3 .5-7.2 .6 13.5 .5-2.5 .5 4.4 .6-9.2 .5 5.7 .6-.7 .5-5.1 .5 14.6 .6-3.3 .5-9.2 .6-5 .5 16.9 .6-9.2 .5 8.9 .5-8.8 .6 5.2 .5-4.3 .6-5.2 .5 19.7 .5-4.9 .6-.8 .5-2.6 .6-2 .5 7.5 .5 3.5 .6-9.4 .5-.8 .6-4.5 .5-.2 .6 11.9 .5-10.2 .5 12 .6-6.6 .5 5.3 .6-12 .5 .4 .5 5.7 .6 6.9 .5-4 .6-9.9 .5 7.2 .6-3.8 .5-.1 .5 8.5 .6-.4 .5-6 .6 5.6 .5-9.8 .5 8.4 .6 1.7 .5 2.6 .6-4.6 .5 7.6 .5 1.3 .6-1.4 .5-8.3 .6 1.7 .5-.9 .6 9.5 .5-.5 .5-14.4 .6 2.8 .5 3.7 .6-4.8 .5 9.3 .5-1 .6-5.9 .5-.6 .6 2.3 .5-1.2 .6 8.1 .5-4.4 .5-3.3 .6 2.8 .5-12.9 .6 10.7 .5-2.7 .5-1.7 .6 7.9 .5-4.8 .6 7.3 .5 2.5 .5-4.9 .6 1.8 .5-6 .6 8.9 .5-12.5 .6 3.5 .5 3 .5 5.1 .6-7.2 .5-3.9 .6 11.7 .5-4.2 .5-4.1 .6 .1 .5-3.3 .6 2.3 .5-1.7 .6 6.7 .5-2.8 .5-5.7 .6 4 .5 9.1 .6-1 .5-9.6 .5 9.7 .6-4.3 .5-2.2 .6 1.9 .5-8.5 .6 5.4 .5-5.5 .5 13.3 .6-4.3 .5-3.9 .6-3.9 .5-8.3 .5-14.3 .6 17.7 .5 4.1 .6 10.7 .5 3 .5-8.2 .6-.8 .5 4.4 .6-6.9 .5 12.2 .6-10.9 .5 2.9 .5 5.5 .6-1.7 .5 4.4 .6-2.8 .5-6.5 .5-2.2 .6 10.3 .5-8.7 .6 2.5 .5-10.4 .6-1 .5 7.4 .5 4.1 .6 6 .5-4.7 .6-7.9 .5-.4 .5 12.5 .6-12.1 .5 10.8 .6-5.7 .5-1.5 .5-3.7 .6 1.1 .5 8.4 .6-2.8 .5 .4 .6-5.9 .5 3.2 .5-1.7 .6 1.1 .5-1.9 .6 10.9 .5 .6 .5-4.6 .6-5.4 .5 5.3 .6-6.1 .5 5.1 .6 4.7 .5-8.5 .5 4.4 .6-5.1 .5 4 .6-2.7 .5 1.8" fill="none" stroke="#0000ff" stroke-width="3.0" stroke-linejoin="round"/>
<rect x="2735.3" y="32.5" width="5.2" height="617.2" fill="#0000ff"/>
<path d="M1993.5 1527.3l.5-7.9 .6-16.3 .5 13.6 .6 11.2 .5-7.2 .5 .3 .6 12 .5-19.5 .6-2.6 .5 16 .6-13.5 .5-3.6 .5 10.7 .6-8.1 .5 11.5 .6-8 .5 6.9 .5 12.7 .6-6.1 .5-5.9 .6 7 .5-16.4 .6-3.5 .5 19.8 .5-.7 .6-5.6 .5-10.1 .6 15.1 .5-8.3 .5 12.2 .6 .7 .5-5.6 .6 4.9 .5-16.6 .5-5.6 .6 16.5 .5-14.6 .6 7.8 .5 12.1 .6-12.3 .5-7.7 .5 17 .6-5.8 .5 5 .6-10.3 .5 9.8 .5-3.9 .6-1.6 .5-5.4 .6-8.1 .5 .8 .6 16 .5-3.4 .5 12.4 .6-8.9 .5-1.4 .6-9.4 .5-.7 .5-4.4 .6 1.9 .5 20.4 .6-10.2 .5-4.2 .5 12.4 .6-16.5 .5-2.5 .6 1.6 .5 13.7 .6 2.5 .5 3.2 .5 3 .6-1.7 .5 .1 .6-26.5 .5 7.7 .5-.5 .6-5.7 .5 23.3 .6-25.2 .5 .8 .6 22.9 .5 .9 .5-17.9 .6 6.3 .5 9.8 .6-23.2 .5 11.6 .5-20.1 .6 31.4 .5 .9 .6-12.8 .5-.5 .6 .3 .5-.2 .5 6 .6-2.6 .5-10.3 .6 18.2 .5-2.5 .5-2.6 .6 8 .5-5.8 .6-7.4 .5 .1 .5-11.4 .6 17.4 .5-4.5 .6-4.2 .5-2.7 .6-3.9 .5 20.9 .5 5.1 .6-26.5 .5 16.7 .6 6.7 .5-14.2 .5-2.6 .6 12 .5-12.9 .6 14.1 .5 1.4 .6-15 .5 2.4 .5 3.3 .6 10.2 .5-3 .6-10.1 .5 .9 .5-.2 .6 2.8 .5 11.1 .6-3.1 .5 5.1 .5-20.8 .6 4.9 .5 8.6 .6 6.9 .5-22.4 .6 22.9 .5-10.6 .5-9.6 .6 12.7 .5 5.4 .6-.3 .5 2.7 .5-8.8 .6-5.1 .5 8.2 .6-20.2 .5-16.8 .6 13 .5 20.8 .5-8.3 .6 12.4 .5-15.7 .6 6.8 .5 12 .5-7.2 .6 4.3 .5-3.6 .6 6.1 .5-2.9 .5 4.1 .6-11 .5-3.8 .6 12.9 .5-19.9 .6 17.5 .5-13.8 .5 14.6 .6 5.2 .5-.8 .6 .3 .5-20.7 .5 9.8 .6-7.6 .5 6.6 .6 12.9 .5-28.7 .6-14.4 .5 19 .5 7.4 .6 12.2 .5-16.9 .6-.7 .5 .6 .5 13.4 .6-10.8 .5 5.3 .6 7.1 .5 .3 .5 4.7 .6-18.2 .5 15.7 .6-17.1 .5 14.3 .6 1 .5-11.5 .5 2.5 .6 13.8 .5-9 .6 2.9 .5-11.7 .5-19.5 .6-6.3 .5 12.9 .6 7.1 .5 15.4 .6 7.9 .5 .7 .5-.1 .6-15.3 .5 1.6 .6 7.1 .5 4.2 .5-11.4 .6 5.6 .5-.4 .6-8 .5 11.8 .5 5.3 .6-16.9 .5 4.9 .6 9.9 .5-5.6 .6 5.3 .5-8.2 .5-3.6 .6 2 .5 6.7 .6 5.4 .5-6.7 .5-4.3 .6-.2 .5-5.7 .6 9.5 .5-6.3 .6 2.8 .5-2.4 .5 5.9 .6-10.6 .5 4.7 .6-17.3 .5 7.8 .5 6.2 .6 3.4 .5 6 .6 2.4 .5-5.8 .5-8 .6 6.4 .5 8.6 .6-12.9 .5 12.4 .6 .7 .5-5.7 .5-3.8 .6-4.5 .5 14.9 .6-3.1 .5 4.3 .5-1.7 .6-17.8 .5 8.3 .6 9.8 .5-15 .6 17.3 .5 .6 .5-18 .6 4.9 .5-1 .6 5 .5 8.4 .5-3.3 .6-13.1 .5 17.1 .6-6.8 .5-8 .6 13.7 .5-3.6 .5-7.3 .6-6.6 .5 10.7 .6-5.9 .5 3.3 .5-3.5 .6 4.4 .5-.5 .6-17 .5-2 .5-4.7 .6 33.4 .5-8.3 .6 6.4 .5-9.7 .6 9.4 .5-10.6 .5 12.5 .6-.9 .5 .2 .6-9.9 .5 4.9 .5 6.2 .6-9 .5-8.6 .6-5 .5-6.2 .6-1.6 .5 6.6 .5 8.3 .6 .3 .5 15.6 .6-6.3 .5-6.1 .5 5.4 .6-6.3 .5-3.7 .6-2.5 .5 17.2 .5-14.1 .6-1.1 .5 9.5 .6 4.2 .5-15.7 .6 17.5 .5-14.5 .5 11.2 .6-12.8 .5 2.4 .6 .8 .5 1.8 .5-1 .6 7.7 .5-11.1 .6 9.5 .5 4.2 .6-3.2 .5 6.6 .5-6.5 .6 4 .5-7.4 .6-3.2 .5 11 .5-15 .6 10.9 .5 5.3 .6-15.7 .5-25.7 .5 10 .6 28 .5-1.2 .6 5.8 .5-9.2 .6 2.1 .5 4.1 .5-11.3 .6 11.3 .5 .1 .6-7.2 .5 2.6 .5 5.9 .6-7.9 .5 8.2 .6-11.5 .5 7 .6 4 .5 1.2 .5-20 .6 12.7 .5 6.9 .6-17.7 .5 8.4 .5-4.5 .6 3.6 .5 6.3 .6-7.6 .5 .6 .5 9.6 .6 1.9 .5-5.9 .6 6.1 .5-13.4 .6 2.6 .5-3.4 .5 8 .6-12.5 .5-.3 .6 9 .5-4.1 .5 .1 .6-.9 .5 .8 .6 7.2 .5-2.2 .6 6.9 .5-16.2 .5 15.3 .6-10.8 .5 10 .6-5.3 .5-13 .5 18.4 .6 3.8 .5-16.7 .6 13.5 .5 .8 .5-.3 .6-15.9 .5 .9 .6-2.4 .5 17.8 .6-12.5 .5 7.3 .5 3.8 .6-13.5 .5 .5 .6 1.1 .5 5.4 .5-4.6 .6 11.4 .5-18.1 .6 4.2 .5 9.2 .6 2.6 .5-.9 .5-13.4 .6 11 .5-11.1 .6 6.5 .5 9 .5-1.1 .6-12.3 .5 6.2 .6 6.3 .5-2.9 .6-3.6 .5-.2 .5-8.9 .6 19.7 .5-18.7 .6 1.5 .5 6 .5-5.2 .6-17.6 .5 8.2 .6 24.9 .5-16.9 .5 8.8 .6 5.7 .5-11.3 .6 9.5 .5-9.3 .6 9.3 .5 6.2 .5-9.8 .6 1.5 .5 7.4 .6-13.4 .5 8.1 .5-4.5 .6-1.5 .5 5.4 .6 5.7 .5-13.5 .6 1 .5 8.4 .5-3 .6-2 .5 3.5 .6-11.2 .5 7 .5 9.2 .6 1.4 .5-8.9 .6-4.8 .5 8.9 .5-4 .6-7 .5 12.5 .6-9.3 .5-2 .6 10.1 .5-3.1 .5-5.9 .6-4.3 .5 10.2 .6-.8 .5 6.6 .5-15.2 .6 10.9 .5-1.6 .6-6.4 .5 4.8 .6-8.9 .5 2.8 .5 1.5 .6 12.4 .5-7.5 .6-7.7 .5 13.1 .5-9.3 .6 4.1 .5-7.2 .6 16.3 .5-19 .5 11.4 .6 4.9 .5-2.7 .6 .1 .5 5.3 .6-2.5 .5-12 .5 .4 .6 5.3 .5-3.9 .6 5.7 .5 3.8 .5-2.3 .6-1 .5-9.3 .6 13.3 .5-9.1 .6 1.2 .5 6.5 .5-12.5 .6 .6 .5 1.6 .6-.4 .5 11.2 .5-11.7 .6-3.7 .5-4.5 .6 10.2 .5 8.3 .5 .7 .6-13.1 .5-19.7 .6 21.2 .5 11.9 .6-11.8 .5-17.9 .5 5.7 .6 15.2 .5-4.5 .6-19 .5 15.1 .5 21.1 .6-2.4 .5-9 .6-11.4 .5 8.6 .6 8.3 .5-5.9 .5-3 .6 5.5 .5-5.2 .6 .5 .5-14.2 .5-.9 .6 3.5 .5-19.3 .6 6.4 .5-24.2 .5 8.5 .6-6 .5 11.1 .6-22.6 .5 13.5 .6-6.3 .5 .8 .5 6.3 .6 2.1 .5 3.4 .6 8 .5 5 .5-3.6 .6 7.3 .5 5.3 .6 4.4 .5 1.1 .6-9 .5-4.4 .5-7.3 .6 12.5 .5 12.6 .6-12.7 .5 10.9 .5-7.2 .6 6 .5 3.9 .6-.4 .5-15.2 .6 14.4 .5 .3 .5 1.7 .6-7.2 .5-1.9 .6-9 .5-9.5 .5 18.8 .6 5.8 .5-10.3 .6 13.4 .5 .5 .5 2.5 .6-4.7 .5 3.5 .6 1.6 .5-11.7 .6 13.7 .5-5.7 .5-6.2 .6 9.2 .5-11 .6-1.2 .5 10.6 .5 1.9 .6-3.4 .5 5 .6-10.1 .5-15.4 .6-.5 .5 21.2 .5-5.4 .6 6.4 .5 9.1 .6-11.1 .5-13.3 .5 17.5 .6-1.1 .5 .2 .6-3.9 .5 2.7 .5-8 .6 .1 .5 7.1 .6-18 .5-23.6 .6 2.7 .5 10.9 .5 6.6 .6 2.6 .5-.8 .6 10.3 .5-7.4 .5 2.4 .6 7.9 .5-1.6 .6 2.4 .5-.7 .6 9.1 .5-6.4 .5 2 .6 4.3 .5-.8 .6-15.8 .5 23.7 .5-10.8 .6-1.4 .5 10.2 .6-1.9 .5-12.8 .5 8.9 .6-3.9 .5 5.8 .6 5.1 .5 1.7 .6-16.2 .5 18.4 .5-7.6 .6 6.3 .5-9.7 .6 16.5 .5-13.1 .5 4.8 .6-7 .5 9.1 .6-13.3 .5 .7 .6 16.9 .5-.7 .5-5.9 .6-4.3 .5 11.9 .6-15.4 .5-1.3 .5 17.3 .6-1.5 .5-.1 .6-10.2 .5 9 .5-12 .6 14 .5-6.4 .6-1.3 .5-7.9 .6 15.5 .5-15 .5-5.8 .6 9 .5 6 .6 .2 .5 2.8 .5-11 .6 4.6 .5-6.9 .6-1.6 .5 18.4 .6 .3 .5-13.1 .5 2 .6 7.6 .5 3.4 .6-18.2 .5 0 .5-.3 .6 4.1 .5 12.1 .6-5.3 .5-.6 .5 7.7 .6-17.3 .5 15.2 .6-7.1 .5 7.2 .6-12.4 .5 9.5 .5 2 .6-16.2 .5 1.8 .6-2.4 .5 11.7 .5 4.1 .6-14.3 .5 15.7 .6-15.9 .5 2.3 .6 4.6 .5 9.2 .5-16.4 .6-.8 .5 5.6 .6 14.3 .5-4 .5-9.3 .6-9 .5 18.7 .6 3.4 .5-6.9 .5-1.8 .6 1.6 .5-3 .6 3.8 .5 1.9 .6 3.2 .5-19.8 .5 7.1 .6-.1 .5 12.1 .6-4.2 .5-7.2 .5 8.1 .6-5 .5-19.1 .6-2.8 .5 16.6 .6 5.6 .5-8.5 .5 16.6 .6 .3 .5-11.7 .6 1.3 .5 3.6 .5-3.9 .6 9.8 .5-2 .6-9 .5-10.8 .6-.4 .5-5.8 .5-6.9 .6 25.8 .5 8.8 .6-10.5 .5 1.3 .5 6.1 .6-15.7 .5 12.8 .6 3.2 .5 .4 .5-5.1 .6-5.6 .5 9 .6-.5 .5-8.2 .6 6.4 .5-1.2 .5-16.9 .6 16.1 .5 11.3 .6-4.8 .5-.7 .5-7.1 .6 8.2 .5-5.2 .6 4.5 .5-2.6 .6 5.9 .5-.9 .5-4.1 .6-7.6 .5 11.1 .6 1.8 .5 .2 .5-11.9 .6 8.1 .5-.9 .6 4.3 .5-6 .5 2.5 .6 3.9 .5-9 .6 3.3 .5 1.5 .6 3.3 .5-4.9 .5 6.5 .6-4.2 .5-5.5 .6 .2 .5-3.8 .5 1.8 .6 11.7 .5-11.5 .6 7.8 .5-11.6 .6 4.7 .5 6.1 .5-12.7 .6 11.6 .5-1 .6 7 .5-11.3 .5 .6 .6 4.4 .5 4.2 .6 1.6 .5-6.1 .5-1.6 .6 7.9 .5-6.9 .6 5.6 .5-8.1 .6 7 .5-11.1 .5 1.8 .6 4.6 .5-3.8 .6 11.2 .5-5.3 .5 3.4 .6-2 .5-1.5 .6 2.8 .5-10.6 .6-8.7 .5 16.3 .5-2.3 .6 6.1 .5-10.8 .6 11.3 .5-10.9 .5 6.1 .6-7.5 .5-1.5 .6 6.3 .5 3.4 .5-2.7 .6 4.2 .5-10.7 .6 4.2 .5-5.5 .6-10.6 .5 7.7 .5 4.5 .6 6.8 .5 3.7 .6-6.3 .5 7.4 .5-9 .6-4.4 .5 15.9 .6-1.7 .5-12.8 .6 4 .5-20.5 .5 8.2 .6 11.7 .5-3.2 .6 1.5 .5-1.5 .5-19.8 .6 10.2 .5 19 .6-10.6 .5 8.3 .5 3.4 .6 4.3 .5-7.4 .6 4.9 .5-2.8 .6 1 .5 .4 .5-7.4 .6-4.7 .5 13.2 .6-12.1 .5-1 .5 7.4 .6 5.1 .5-7.7 .6-1.8 .5-2.2 .6 13.4 .5-16.5 .5 4.5 .6 6.2 .5-10.6 .6-10.6 .5 6.2 .5 6 .6 10.3 .5-10.4 .6-1.5 .5-1.5 .6 10.9 .5 7.3 .5-14.9 .6 12.2 .5-6.3 .6 1.2 .5-9.8 .5 10.4 .6 2 .5-10.4 .6 13 .5-3.4 .5-1.7 .6-17.4 .5 15.4 .6-15.6 .5 9.2 .6 8.1 .5-8.8 .5-11.2 .6 8 .5-8.5 .6 10.7 .5-8 .5-6.3 .6 8.2 .5-11.2 .6-1.5 .5-11.5 .6 8.1 .5-5.9 .5 8.6 .6-6.7 .5 .4 .6-8.6 .5 6.6 .5-20.2 .6 13.9 .5-18.2 .6 9.2 .5-15.7 .5 5.5 .6-6.5 .5 7.5 .6 15.4 .5-27.5 .6 11.8 .5 2.1 .5-13.4 .6-12.5 .5 13.7 .6-8.6 .5 1.5 .5-1.5 .6 24.4 .5-23 .6 6 .5 6.4 .6 23.7 .5-5.2 .5-18.9 .6 15 .5-1.5 .6-12.3 .5 22.2 .5 2 .6 5.1 .5-18.4 .6 28.5 .5 4.7 .5-20.5 .6 8.1 .5 11.3 .6-10.9 .5 25.6 .6-9.5 .5-7.7 .5 10.3 .6-1.5 .5-.2 .6 10.5 .5-4.4 .5 7.4 .6-1.4 .5-5.9 .6-9.3 .5 9.6 .6 5.2 .5 6.4 .5-6.3 .6 1.3 .5 3.2 .6 4.4 .5 2.6 .5-16.8 .6-4.3 .5-1.8 .6 22.6 .5-5.5 .5 6.6 .6-.9 .5 3 .6-13.3 .5 12.1 .6-12.4 .5 .7 .5 4.7 .6 2.9 .5-1.2 .6 7 .5-1.6 .5 1.6 .6-14.4 .5 14.2 .6-12.1 .5 11.1 .6-4.4 .5-8.2 .5 5.1 .6-3.2 .5 8.3 .6 3.6 .5-6.6 .5-.8 .6 .1 .5 3.3 .6-7 .5 4.9 .5 3.7 .6-3.2 .5-.3 .6 4.3 .5 1.3 .6 .3 .5-8.5 .5 7.4 .6-8.9 .5 1.3 .6-1.4 .5 3 .5-1.2 .6 5 .5-5.1 .6 8.5 .5-10 .6 8.2 .5-1.4 .5-5.1 .6-13.3 .5 3.5 .6-.8 .5 12.8 .5-6.4 .6 9.9 .5 .1 .6 2.3 .5-1 .6-8.7 .5-1.7 .5 4.8 .6 1.7 .5 1.5 .6-4.5 .5-6.3 .5 3.9 .6 2.1 .5 6.3 .6-8.5 .5-3.7 .5 2.1 .6 .9 .5 4.9 .6 .4 .5-6.5 .6 4.4 .5 1.9 .5-2.1 .6 5.9 .5 0 .6-5.7 .5-7.9 .5 2.4 .6 5.6 .5 1.2 .6 3.9 .5 1.8 .6-5.7 .5 .5 .5-4.6 .6-1.5 .5 10.8 .6-4.9 .5-7.3 .5 9.7 .6-7.9 .5 5.6 .6-3.2 .5-2.2 .5-1.1 .6-.1 .5 1.6 .6 2.4 .5-5.8 .6 11.7 .5 1.1 .5-8.3 .6 6.8 .5-.1 .6-12.1 .5 11.2 .5-5.3 .6-5.2 .5 2.6 .6-1.4 .5 8.3 .6-5.5 .5-11.2 .5 3.5 .6-5.8 .5 21.2 .6-8.8 .5 6.4 .5-.5 .6 4.9 .5-5.8 .6-6.7 .5-.8 .5 3.4 .6-2.2 .5 .7 .6-19.8 .5 9.9 .6 5.1 .5 12.1 .5-5.3 .6-10 .5-16.1 .6 12.4 .5 24.2 .5-1.9 .6-14.7 .5 14 .6-3.5 .5-3.3 .6-5.7 .5 2.4 .5 8.6 .6-2.9 .5-8.9 .6 13.5 .5 0 .5-3.2 .6-10.1 .5 13.8 .6-16.8 .5 3.4 .5 4.2 .6-2.7 .5 2.7 .6-.8 .5 5.3 .6-2.7 .5 1.2 .5-1 .6-15.7 .5 .4 .6 1.9 .5 19.2 .5-6.1 .6 3.8 .5 2.6 .6 .4 .5-1.9 .6-5.2 .5 .5 .5 3.6 .6-4 .5 5.6 .6-5.3 .5 7.8 .5 .8 .6 .8 .5-9.8 .6-3.2 .5 .2 .5 4.5 .6-5.1 .5 7.7 .6 1.1 .5 .5 .6-1.7 .5-3.4 .5-.7 .6 6 .5-9.8 .6 2.2 .5 11 .5-8.3 .6-6.9 .5 14.7 .6-13 .5 12.8 .6-6.4 .5 2.3 .5 1.9 .6-8.6 .5-2 .6 12.6 .5-14.7 .5 13.9 .6-6.6 .5 6 .6-10.5 .5 11.6 .5-10.6 .6 2.1 .5 6.9 .6-5.1 .5-8.3 .6 1.1 .5 11.2 .5-7.3 .6-4.3 .5 2.5 .6 6.3 .5-2.3 .5-1.2 .6 9.9 .5-8 .6-2 .5 6.1 .6-11.7 .5 10.6 .5-3.5 .6 7.7 .5 1.8 .6-2.9 .5-2.5 .5 1.9 .6-11.6 .5-6.8 .6-5.9 .5 4.5 .6 18.7 .5-5.1 .5-2.1 .6-5 .5 2.8 .6 4.7 .5 7.9 .5-2.7 .6-8.6 .5-1.3 .6 13.7 .5-.8 .5-4.3 .6-10.1 .5 1 .6 13.8 .5-7.7 .6-5.2 .5 5.1 .5-4.6 .6-2.7 .5 11.9 .6-12.1 .5 8.5 .5 3.6 .6-11.6 .5-18.5 .6 6.9 .5 11 .6 14.7 .5-10.1 .5-1.2 .6 11.2 .5-11.3 .6-2.9 .5 14.9 .5-.6 .6-1.4 .5-4.4 .6-4 .5-.9 .5 11.5 .6-1.8 .5-10.8 .6 6.3 .5-1.9 .6 7.7 .5-10.9 .5 1.8 .6 6.3 .5 2.6 .6-6.7 .5-6.1 .5 11.6 .6-10.8 .5 5.8 .6 2.3 .5-5.7 .6 1.5 .5 2.7 .5 6.6 .6-4 .5-4.3 .6 .7 .5-2.6 .5 6.8 .6-1.4 .5-3.4 .6-16.1 .5 4.9 .5-4.6 .6 19.2 .5 2.8 .6-5.4 .5 5.3 .6-8.5 .5-4.2 .5 14.8 .6-8.2 .5 7.3 .6-5.8 .5 3.3 .5-3.5 .6-9.2 .5 4.5 .6 1.2 .5 .3 .6-7.5 .5 17.1 .5-13.4 .6-13 .5-3.5 .6-19.8 .5-106.5 .5-265.1 .6-366 .5-179.3 .6 202.7 .5 365.1 .5 261.2 .6 103.9 .5 20.1 .6 8.3 .5-5 .6 10.2 .5-4.7 .5-1.6 .6-7.8 .5-3 .6 5.3 .5 4 .5-8.4 .6-3.4 .5 17.4 .6-13.4 .5-3.1 .6 11.1 .5-3.6 .5 8.1 .6 .2 .5 .8 .6-6.9 .5 7.1 .5 1.4 .6-1.1 .5-7.7 .6 3.9 .5-6.1 .5 5.2 .6-1.7 .5-9.4 .6-3.7 .5-1.9 .6 13 .5 9.2 .5-.9 .6-13.2 .5 7.6 .6 5.9 .5-5.7 .5-3.5 .6 8.8 .5-8.9 .6 9.6 .5-13.1 .6 .3 .5-4 .5 13.4 .6 2.9 .5-11.1 .6-2 .5 2.4 .5 1.5 .6-5.3 .5-3.1 .6 4.1 .5 9 .6 5.7 .5-2.5 .5-3.3 .6 2.7 .5 .3 .6-5.2 .5-1.6 .5 5 .6 .8 .5-8.9 .6 3 .5 6.2 .5-10.8 .6 .2 .5 10.8 .6-5.1 .5 8.1 .6-9.8 .5 11 .5-.2 .6-9.3 .5 9.2 .6-14.8 .5 15.2 .5-11.6 .6 6.6 .5 .8 .6-9.8 .5 4.6 .6 1.4 .5 6.1 .5-3.3 .6-6.8 .5 1.5 .6-1.4 .5-2.4 .5 11.5 .6-9.2 .5 12 .6-2.3 .5-7.4 .5-2 .6 6.4 .5-6.4 .6 9.8 .5-8.9 .6-.1 .5 1.8 .5 3.2 .6 1.7 .5 3.9 .6 .3 .5-4.7 .5-1 .6-.3 .5 5.2 .6-10 .5 3.5 .6 6.9 .5 .4 .5-2.5 .6-2.4 .5-4.2 .6-.7 .5-1.3 .5 .6 .6 2.1 .5-8.1 .6 1 .5 3.2 .5-1.5 .6 11.4 .5-6.5 .6-2.7 .5 10.4 .6-11.6 .5 11.4 .5-3.3 .6 4.6 .5-6.6 .6-6.6 .5-18.2 .5 18.5 .6 12.4 .5-4.7 .6-6.9 .5 11.9 .6-6.2 .5-4.9 .5 1.6 .6 7.9 .5-2.7 .6-8.5 .5-.9 .5 7.2 .6-3.9 .5 4.3 .6 5 .5-.2 .5-11.7 .6-1.6 .5 8.4 .6-3.4 .5 1.8 .6 .9 .5-5.5 .5 9.3 .6 2.5 .5-25.8 .6-.5 .5 .5 .5 14.6 .6 7.6 .5 2.1 .6-9.2 .5 3.2 .6-4.3 .5-9.2 .5-.6 .6-.4 .5 6.5 .6 1.6 .5 .9 .5 5.1 .6-1.5 .5-9.3 .6-6.9 .5 15.1 .5-.2 .6 5.7 .5-.6 .6 3.9 .5-2.2 .6 .2 .5 3.5 .5-12.2 .6-4.1 .5 1.7 .6 1.6 .5 .4 .5 5.7 .6 1.1 .5 2.4 .6-6.7 .5 10 .6-12.6 .5 1.2 .5 4.5 .6-2.6 .5 1.5 .6-6 .5 9.5 .5-11.1 .6 14.9 .5-10.6 .6 2.7 .5-8.1 .6 12.8 .5-9.6 .5-1.7 .6-1.1 .5-.1 .6 15.1 .5-16.3 .5-10.6 .6 17.8 .5 8.1 .6-7.5 .5 5.1 .5-12.5 .6 10.1 .5-4.6 .6 7.8 .5-9.1 .6-4.5 .5 2.2 .5 1.2 .6 11.8 .5-12.3 .6 13.8 .5 1.5 .5-11.2 .6 4.3 .5-1.5 .6-2.2 .5 2.6 .6-5.1 .5-19.8 .5 3.2 .6 12.1 .5 11.7 .6-5.5 .5 .2 .5-3.1 .6 7.3 .5-10.4 .6 17.9 .5-16.5 .5 14.1 .6-3.6 .5 0 .6 5.1 .5-10.2 .6 7.5 .5-4.6 .5 1.8 .6 1.2 .5 0 .6-2 .5-2.2 .5 4.1 .6-1.9 .5-3.3 .6 6.1 .5 2.2 .6-11.9 .5 11.1 .5-5.2 .6 5.8 .5-3.5 .6-1.3 .5-1.9 .5 4.1 .6 4.8 .5-8.6 .6-3.5 .5 1.8 .5 8.1 .6-10.1 .5 2.1 .6 5.7 .5 2.9 .6-5.7 .5-2.8 .5 9.1 .6 1.1 .5-13.5 .6 3 .5 4.5 .5-3 .6 6.1 .5-10.4 .6 12.9 .5-4.9 .6-14.1 .5 3.5 .5 8.3 .6-4.5 .5-1.9 .6-.8 .5 6.7 .5 6.3 .6-3.4 .5 2.1 .6-3.8 .5-6.4 .5 7.8 .6-5.4 .5 8.5 .6-4.4 .5-4.4 .6 6.2 .5 4.8 .5-11 .6-.3 .5-.4 .6-19.2 .5 14.1 .5 11.8 .6 5.3 .5-4.1 .6-7.5 .5 4.6 .6-9.4 .5 14.6 .5-7.1 .6-2.6 .5 7.3 .6-11 .5 5.5 .5 8.6 .6-4.2 .5-3.1 .6 4.9 .5-.3 .5-9.5 .6 .5 .5 8.6 .6-5.1 .5 8.8 .6-4.9 .5-9.1 .5 9.9 .6-1.4 .5 1.4 .6-1.7 .5 4.6 .5-3.3 .6 2.9 .5-10.8 .6-1.5 .5 11 .6-4.9 .5 1.6 .5-1.1 .6-7.7 .5 5.5 .6-3.2 .5 3.6 .5 7.5 .6-11.6 .5 6.3 .6-6.9 .5 6.9 .5-5.4 .6 3.9 .5 7.9 .6-3 .5 1 .6-1 .5-8.3 .5-1.6 .6 9.2 .5-3.8 .6 6 .5-10.1 .5 11 .6-12.4 .5 8.6 .6-.3 .5 2.9 .6-5.3 .5 2.7 .5 .9 .6 2.9 .5-4.6 .6-3.6 .5-5.3 .5 5.7 .6 7.2 .5 .9 .6-5.5 .5 6.6 .6-8.1 .5 1.1 .5 5.1 .6-4.2 .5-4.1 .6 5.1 .5-17 .5 5.6 .6 1.9 .5 12.1 .6-7.8 .5-4.8 .5 4.1 .6 4.2 .5-10.9 .6 11.4 .5 6.5 .6-13.9 .5 7.2 .5-2.9 .6-21.1 .5 10.8 .6 5.8 .5 12 .5-9.1 .6-2.2 .5 1.5 .6 5.6 .5-8.8 .6 14.4 .5-7.4 .5-9.6 .6-.5 .5-4.4 .6 18.1 .5 1.2 .5 .3 .6-12.1 .5 5.6 .6 3.9 .5-3 .5-3 .6 0 .5 4.5 .6 .4 .5-4.9 .6 4.1 .5 3.6 .5-5 .6-6.3 .5 5 .6-3.7 .5-.7 .5 7.1 .6 1.5 .5-7.8 .6 1.5 .5-6.1 .6 5.7 .5-2.7 .5 11.9 .6 .2 .5-8.9 .6-4.3 .5 14.2 .5 .7 .6-6.4 .5 7.2 .6-13.6 .5-14.1 .5-.5 .6 6.8 .5 21.8 .6-16.2 .5 3.3 .6 2.9 .5 5.6 .5-12.7 .6 14.2 .5-4.3 .6-3.7 .5 7.7 .5-14.4 .6 6.3 .5 6.7 .6 4.4 .5-26.9 .6 8 .5 8.7 .5 .1 .6 9.4 .5-9.5 .6 1.3 .5 .7 .5-.1 .6 3.6 .5-12.3 .6 7.3 .5 1.9 .5-1.9 .6-2.2 .5 2.5 .6-.7 .5 6.9 .6 3.5 .5-16.7 .5 13.2 .6 1.4 .5-10 .6-3.6 .5-.4 .5 11.3 .6-3.4 .5 2.1 .6 .9 .5-11 .6-6.9 .5 1.2 .5 16.5 .6 4.7 .5-.8 .6-2.8 .5-4.3 .5 6 .6-1 .5-8.7 .6 12.3 .5-11.3 .5 11 .6-12.5 .5 5.8 .6-.2 .5 3.3 .6-.2 .5-5.8 .5 0 .6-1.6 .5 10.7 .6-5 .5-4.1 .5-12.2 .6-8 .5 9.6 .6 20.7 .5-.5 .6-6 .5 3.8 .5 2.5 .6-4.3 .5-7.7 .6-7.2 .5 2.5 .5 10 .6 3.4 .5-7.4 .6 9.5 .5-9 .6-1.3 .5 5.7 .5-5.2 .6-17.8 .5 10.3 .6 6.3 .5 8.7 .5-7.7 .6-1 .5 7.7 .6 1.7 .5-9.2 .5 10.9 .6-5.5 .5-3.3 .6 3.4 .5 1.5 .6 2.4 .5-9.7 .5-.4 .6 6.8 .5-3.7 .6 .5 .5 .4 .5-3.5 .6-.6 .5 5.6 .6 1.4 .5-.1 .6-6.1 .5 11 .5-8.9 .6 7.2 .5 .5 .6-.1 .5-11.5 .5 .5 .6 .4 .5 5.7 .6-3.7 .5 5.2 .5-8.7 .6 13.2 .5-4.2 .6 .8 .5-2.8 .6-5.1 .5-.6 .5 6 .6 .8 .5-9.9 .6-3.6 .5-1 .5 13.5 .6-13 .5-6 .6 6.7 .5 7.9 .6-2.3 .5 2.6 .5 3.3 .6 7.5 .5-12.2 .6 1 .5 5.8" fill="none" stroke="#000" stroke-width="3.0" stroke-linejoin="round"/>
<rect x="2735.3" y="568.8" width="5.2" height="916.8" fill="#000"/>
<path d="M1993.5 1820.5l.5 .5 .6-1.3 .5-10.2 .6 11 .5-.9 .5-7.9 .6 .3 .5 10 .6-2.3 .5 6.5 .6-3.5 .5 .4 .5-1.2 .6 7.9 .5-9.6 .6 8.4 .5-.7 .5 .1 .6-12.8 .5 18.9 .6-24.7 .5 22.3 .6-12 .5 10.3 .5-12 .6-4.9 .5 11.6 .6-.9 .5-13.9 .5 10.8 .6-3.3 .5-4.1 .6-8.9 .5 13.3 .5 10.3 .6-5.2 .5 9.6 .6-16.9 .5-3.4 .6 4.6 .5 .5 .5 15.4 .6-20.9 .5 8.6 .6-8.3 .5 4 .5-4.1 .6 2.2 .5 2.1 .6 3.6 .5 8.8 .6 .7 .5-18.8 .5 3.4 .6 15.3 .5 3.9 .6-21.8 .5 24.1 .5-16.9 .6-2.6 .5 8.2 .6-14.5 .5 7.9 .5-10.3 .6 8.8 .5 4 .6 13.6 .5-23.5 .6 22.5 .5-4.5 .5-11.2 .6-1.2 .5-7.6 .6-.8 .5-8.4 .5-3.4 .6 20 .5-1.5 .6 17.3 .5-5 .6-21.3 .5 11.3 .5-9.3 .6 24 .5-13.6 .6 13 .5-26.5 .5-15.4 .6 24 .5 22.8 .6-9.5 .5 7.5 .6-11.5 .5-11.1 .5-6 .6 22.7 .5 4 .6 3 .5-7.9 .5 1.5 .6 1.6 .5-21.8 .6 19.4 .5 3.9 .5 .2 .6-18.6 .5 9.8 .6 1.3 .5-10.4 .6 2.4 .5 5.5 .5-12.9 .6 3.9 .5 2.3 .6-.5 .5 21 .5-12.1 .6 .9 .5 1.9 .6-5.7 .5-6.2 .6-1.6 .5-1 .5 4.9 .6 19.1 .5-6.9 .6-13.5 .5 7 .5-23.1 .6 26.1 .5-15.4 .6 21.4 .5-8.3 .5-.9 .6-10.3 .5-.4 .6 9.1 .5-10.7 .6 20.4 .5-20.8 .5 20.1 .6-4.6 .5-17 .6 13.7 .5 7.6 .5-16.1 .6-19.2 .5 7.3 .6 32 .5-11 .6 4 .5 7.9 .5-9.5 .6 4 .5-11.9 .6 19 .5-11 .5 2.9 .6-1.9 .5-.2 .6-14.2 .5 7.9 .5 .5 .6-4.7 .5 3.5 .6-5.3 .5 8.7 .6-9 .5 18.6 .5-7.5 .6-4.8 .5-2.6 .6 17.3 .5-7.1 .5-11.3 .6 6.3 .5 11.3 .6-6.6 .5-2 .6 11.6 .5-9.6 .5-1.2 .6-12 .5 10.9 .6-.3 .5 10.6 .5 .8 .6-10 .5-12.5 .6 3.5 .5-2.2 .5 19.9 .6-4.4 .5-6.3 .6-9.6 .5-15.9 .6 5.2 .5 28.9 .5-12.7 .6-8.3 .5 3.6 .6 12.1 .5-7.3 .5 14.1 .6-16.6 .5-.9 .6 14.6 .5-4.3 .6-6.4 .5-13.6 .5-20.8 .6-3.8 .5 18.9 .6 23 .5 12.3 .5-22.2 .6 19.7 .5-11.7 .6-5.4 .5-2.9 .5 8 .6-3.1 .5-10.1 .6 5.9 .5 14.4 .6-19.2 .5 7.7 .5 11 .6 .7 .5-20.6 .6-14.9 .5 3.3 .5 27.3 .6-7.2 .5 10.7 .6-3.7 .5 4.1 .6-1.9 .5-8.5 .5 13 .6-7 .5-6.9 .6 19.6 .5-10.2 .5-9.9 .6 3.3 .5-4.4 .6 15.1 .5-9.3 .5 8 .6 5.7 .5-18.1 .6 12.8 .5-11 .6-.9 .5-1 .5 13.3 .6-13 .5 14.2 .6-10.4 .5 15.8 .5-18.7 .6 17.6 .5-15.7 .6 2.3 .5 13.4 .6-11.9 .5-2.8 .5-2.4 .6-4.2 .5 17.5 .6-4.2 .5 1.4 .5-6.8 .6 10.8 .5-8.3 .6 7.3 .5 .6 .6-12.1 .5 4.7 .5-5.2 .6 2.6 .5-4 .6 8.4 .5 9.7 .5-21.2 .6 16.9 .5-12.8 .6 13.4 .5-6.6 .5 4.8 .6-7.8 .5 12 .6 .2 .5-8 .6-8.3 .5 8.3 .5 7.1 .6-18.2 .5 18.5 .6-4 .5-5.1 .5 5.9 .6-8.7 .5 5.8 .6-7.7 .5 14.2 .6-14.9 .5-1.8 .5 13.4 .6 .3 .5-13.6 .6 9.9 .5 .3 .5-9.6 .6-3.9 .5-1.1 .6 8.7 .5-.9 .5 5.9 .6-1.8 .5-7.7 .6-.4 .5 5.6 .6 .4 .5 6.4 .5-4 .6 6.3 .5-6.5 .6 9.3 .5-4.2 .5-.7 .6-4.3 .5-4.9 .6 13.3 .5-18.2 .6-8 .5 18.9 .5 6.4 .6 .8 .5-12.5 .6 5.6 .5 8.2 .5-1.7 .6-5.7 .5 7.1 .6-17.5 .5 14.3 .5-14.8 .6 18.4 .5-6.9 .6-14.3 .5 6.7 .6-7.2 .5-9 .5 13 .6 7.2 .5 8.5 .6-3.7 .5-3.5 .5-12.2 .6 17.6 .5-24.4 .6-12.5 .5 7.7 .6 18.8 .5 6.9 .5-1.4 .6-.6 .5-2.5 .6 1.4 .5 9.1 .5-14.2 .6 8.9 .5-5.4 .6 6.6 .5-2.8 .5-11.6 .6 9.6 .5-21.2 .6 17.9 .5-5 .6 3 .5-.1 .5 0 .6 9.9 .5-3.1 .6-8.2 .5 9.1 .5-9.3 .6 2.5 .5 6.5 .6-.8 .5 .2 .6 4.8 .5-1.5 .5-1.5 .6-2 .5-6.5 .6 7.5 .5-1.4 .5-2.9 .6-1.7 .5-3.4 .6 4.6 .5 2.7 .5-2.1 .6 10.9 .5-11.3 .6 9.6 .5-12.4 .6 0 .5 4.7 .5-6 .6 16.6 .5-.4 .6-7.7 .5 5.5 .5 3.1 .6-17.4 .5 10.3 .6-8.1 .5 10.5 .6-6.5 .5 10.4 .5-10.3 .6-1.8 .5 1.8 .6 2.6 .5-5 .5 9.8 .6-8.5 .5 7.4 .6 4 .5-5.7 .6-7.4 .5 11.3 .5-11.8 .6 8.2 .5-2.6 .6 7.9 .5-13.6 .5-19.4 .6 4.7 .5 24.7 .6-8.3 .5-3.9 .5 .6 .6-2.4 .5 16.9 .6-11.1 .5-3.4 .6-4.3 .5 .1 .5 1.4 .6 12.6 .5 1.6 .6-15.1 .5 6.7 .5 10.5 .6 2.6 .5-8.7 .6-6.1 .5-10.5 .6 11.3 .5 10.8 .5-5.1 .6-.4 .5-9 .6-2.4 .5 20.3 .5-.4 .6-12.1 .5 11.6 .6-7.4 .5-4.8 .5 2.6 .6 7 .5-2.1 .6-5.5 .5 8.3 .6-16.8 .5 14.7 .5-12.8 .6 14 .5-6.5 .6-7.1 .5 3.4 .5 11.4 .6-2.6 .5-2.6 .6-2.7 .5-10.1 .6 13.5 .5-.2 .5-3.8 .6 6.6 .5-13 .6 17.5 .5-15.7 .5-3.5 .6 12.6 .5-9.1 .6 .8 .5-1.1 .5 2.5 .6 2.6 .5-3 .6-9.8 .5 13.1 .6-1.9 .5 2.5 .5 8.8 .6-.8 .5-4.2 .6 2.7 .5-.2 .5-11.2 .6-3.5 .5-4.9 .6-7 .5 11.7 .6 2.7 .5 7.4 .5-9.6 .6 1 .5 5.1 .6-.8 .5-.9 .5 3.7 .6-6.3 .5 .2 .6 2.6 .5 .9 .5 4.6 .6 1.8 .5-11.6 .6 7.1 .5-7.1 .6 14.6 .5 .4 .5-10.7 .6 2.3 .5 3.8 .6-3.5 .5-7.9 .5 4.1 .6 3.2 .5 4.6 .6-1.2 .5-2 .6-1.7 .5-12.1 .5-10.6 .6-5.9 .5 11.2 .6 .9 .5-9.5 .5-7.7 .6 3 .5 9.2 .6-11.9 .5-15.4 .5 11.3 .6 9.9 .5-13.5 .6-5 .5 .9 .6 20.9 .5-9 .5-9.3 .6 14.5 .5 3.9 .6 4.6 .5 7 .5-3.9 .6-5.1 .5-.8 .6 12.6 .5 .7 .6 2.9 .5-6.3 .5-4.9 .6-5.4 .5 20.2 .6-24.6 .5 19.8 .5-8.5 .6 5 .5-7 .6 4.8 .5 12.2 .6-4.5 .5-11.6 .5 1 .6-4.5 .5 10.7 .6-5.6 .5-3.7 .5-3.5 .6 6.8 .5 4.8 .6-4.5 .5 2.3 .5 3.4 .6-14.2 .5 22.1 .6-14.5 .5 15.9 .6-.1 .5-2.9 .5-7.2 .6 12.3 .5-12.7 .6-4.9 .5 11.2 .5 8.3 .6-22.6 .5 3 .6 3.2 .5 5.7 .6-6.4 .5 3.2 .5 6.4 .6-4.2 .5-5 .6 8.6 .5-11.4 .5-2.2 .6 11.6 .5-15.4 .6 8.6 .5-1.7 .5-2.6 .6 7.3 .5-15.7 .6 18.8 .5 2.4 .6 4.2 .5-10.9 .5-8.8 .6-8.1 .5 .8 .6 6.2 .5 19.5 .5-5 .6-8.6 .5 16.8 .6-12.4 .5 11.2 .6-3.9 .5-10.2 .5-5.3 .6 10.7 .5-8.5 .6 14.2 .5-16.4 .5 20.5 .6-6.5 .5-15.8 .6 25.9 .5-19.1 .5 5.9 .6-4.1 .5 1 .6 5.8 .5 4.8 .6-10.9 .5 5.5 .5 6.4 .6-13.8 .5 12.1 .6 7.2 .5-5 .5 2.5 .6-3.9 .5 4 .6-3.7 .5-10.4 .6-3 .5 19.7 .5-.4 .6-3.6 .5 3.4 .6 1.6 .5-5.6 .5 1.1 .6 8.1 .5-10.3 .6 .3 .5-10.8 .5 2.5 .6 5 .5 3 .6 9.1 .5-12.1 .6-6.5 .5-.9 .5 .6 .6 4.8 .5 9.3 .6 3.4 .5-.6 .5-3.8 .6 6 .5-4 .6-15.6 .5 5.3 .6 1.1 .5 12.5 .5-7.9 .6 .5 .5-10.1 .6 6.1 .5 8.3 .5 .9 .6 3.3 .5-8.4 .6-2.8 .5 5 .5-11.8 .6 4.3 .5 4.5 .6-7 .5-13.9 .6 7.9 .5 9.5 .5 8.8 .6-1.7 .5 3.4 .6 1.9 .5-3.3 .5 1.1 .6-.4 .5-3.5 .6 1.9 .5-6.3 .6 8.7 .5-8 .5-2.8 .6 6.9 .5-5 .6 12 .5-2.8 .5 2.7 .6-6.1 .5 1.9 .6-1.5 .5 3.8 .5 2.7 .6-10.2 .5-7.9 .6-1.4 .5-9.3 .6 17 .5 2.3 .5 2.1 .6-2.1 .5-3.3 .6 9.7 .5-8.1 .5 9.1 .6-8 .5 8.6 .6-.6 .5-3 .6 2.9 .5-8.2 .5 10.4 .6-4.1 .5-3.2 .6-3.3 .5-7.4 .5 2.5 .6 8.7 .5 4 .6-5.9 .5 7 .6-10.9 .5-.2 .5 1.9 .6-4.2 .5 8.4 .6-8.8 .5 12.8 .5-1 .6-4.8 .5-6.6 .6 15.4 .5-15 .5 8.7 .6-9.2 .5 0 .6-.8 .5 6.1 .6 8.3 .5-3.4 .5-1 .6-5.8 .5 6 .6-2.9 .5-2.6 .5-9.2 .6 13.2 .5 .5 .6-9.8 .5 11.8 .6-3.9 .5-5.8 .5 1.7 .6 4.5 .5 7.4 .6-15.3 .5-1 .5 2.6 .6 .5 .5-2.4 .6 .2 .5 7.9 .5 1.6 .6-1.2 .5 6.1 .6-1.1 .5-9.5 .6-1 .5 .9 .5 2.3 .6 8 .5-4.2 .6-11.3 .5-.1 .5 13 .6-1.5 .5 3.5 .6-3.3 .5-1.7 .6 3.2 .5-12.6 .5 16.4 .6-7.1 .5 7.2 .6-5.7 .5-8.4 .5 13.5 .6-9.7 .5 .1 .6 0 .5 1.3 .5-2.5 .6 7.4 .5 0 .6-11.1 .5 12.9 .6-14.1 .5-1.6 .5 7.2 .6-1.7 .5-9.8 .6 4.8 .5 3.8 .5-5.5 .6 11.4 .5 4.8 .6-2.2 .5-14.1 .6 16.2 .5-.9 .5 4.5 .6-12.2 .5 3.2 .6-7.7 .5 4.1 .5-.2 .6-.6 .5 4.9 .6 3.3 .5 5.5 .5-7.4 .6 7.5 .5-3.8 .6-3.2 .5-11.2 .6-4 .5 10.1 .5-7.5 .6 4.6 .5 3.6 .6 7.7 .5 2.7 .5-12.8 .6 5.9 .5-1.8 .6-5.8 .5-.1 .6 5.7 .5-6.7 .5 7.5 .6-6 .5 7.4 .6 3.6 .5-4 .5 5.8 .6-3.7 .5 2.6 .6-3.8 .5 6 .5-5.7 .6-2.3 .5-7.3 .6-.1 .5 6 .6 3.4 .5-5 .5-3.2 .6 4.3 .5 8.2 .6-7 .5 1.9 .5-7.2 .6 4.6 .5-15.3 .6 7.5 .5-3.1 .6 18.6 .5-4.3 .5-7 .6-3.1 .5 14 .6-11.4 .5 12.1 .5-9.1 .6-11.5 .5-14.9 .6 27.7 .5-4.5 .6-.5 .5-11.5 .5 17.8 .6 .1 .5-4.5 .6 5.4 .5-7.5 .5 9.7 .6-5.6 .5-12.8 .6 10.3 .5-9.8 .5 9.3 .6-9.2 .5-1.2 .6-1.1 .5-6.7 .6 15 .5-4.2 .5-5.6 .6-19.4 .5 6.2 .6-.6 .5 9.3 .5-4.4 .6-.4 .5 5.9 .6-14.3 .5 5.6 .6 5.9 .5-5.2 .5-.8 .6 9.5 .5-24.4 .6-4.7 .5-7.4 .5-1.2 .6 12.6 .5-20.8 .6 22.5 .5-8.5 .5-8.8 .6-7.1 .5 1.3 .6 16.8 .5 2.7 .6-4.7 .5-21.1 .5 7 .6-6.5 .5 13.7 .6 1.7 .5 5.1 .5-10.6 .6 12.1 .5-9.9 .6 5.7 .5 5.9 .6 6.6 .5-8.3 .5-7.3 .6 16 .5-13.5 .6 13.5 .5 4.9 .5 7.4 .6-6.2 .5 1 .6-.7 .5 1.4 .5 10.7 .6-3.4 .5 19 .6-2.8 .5-17.7 .6 2.3 .5 12.5 .5 5.6 .6 2 .5-3.3 .6 12 .5-9.4 .5-7.2 .6 12 .5-7.6 .6-8 .5-9.6 .6 6.8 .5 17.8 .5-.7 .6 2.2 .5-.9 .6 7.6 .5 2.5 .5-12.5 .6 3.3 .5-5.8 .6-1.4 .5 15.4 .5-2.7 .6-16.4 .5 9.9 .6-11.1 .5 6.2 .6 5.1 .5 5.4 .5-4.8 .6 10.7 .5-5.2 .6 5.2 .5-6.8 .5-4.3 .6 11.2 .5-15 .6 13.9 .5-2.3 .6-2.5 .5 4.5 .5-11.2 .6 1.1 .5 1.6 .6 2.9 .5-3.2 .5 4.1 .6-5.5 .5-4.4 .6 2.2 .5 7.8 .5-10.1 .6 11 .5-7.1 .6-1.2 .5 6.3 .6-8.8 .5-2.4 .5 16.6 .6 1.4 .5-4.7 .6 5 .5-18.9 .5 7.7 .6-3.4 .5-3 .6-.9 .5 1.5 .6-.1 .5 13.8 .5-1.4 .6 3.5 .5-12.3 .6 7.1 .5-6.3 .5 12.5 .6-14.1 .5 12.4 .6-17.4 .5 14.7 .6-4.3 .5-6.7 .5 3.9 .6 10.7 .5-16.5 .6 4.1 .5-.3 .5 4.8 .6 6.5 .5-9.1 .6 6.5 .5-9.7 .5 9.5 .6-6.1 .5 2.5 .6 6.8 .5-9.1 .6-4.9 .5 15.5 .5-8.5 .6-.8 .5-3 .6 8.5 .5-8.1 .5-3.1 .6 4.6 .5-4.4 .6 9.4 .5 3.6 .6-.5 .5-1.3 .5-14.6 .6 .9 .5-4.5 .6 2.4 .5 8.5 .5 .2 .6 2.6 .5 2.6 .6-5.8 .5 5.5 .5 5 .6-.8 .5-7.7 .6-.3 .5 5.8 .6 .5 .5 1.8 .5-8 .6-1.8 .5 .5 .6 6.4 .5-5.9 .5 8.8 .6 1.6 .5-12 .6-1.9 .5 2.9 .6 11 .5-1.3 .5-4.2 .6-.3 .5-2.9 .6-8.3 .5-1.7 .5 5.5 .6 10.3 .5 1.7 .6-3.3 .5-2.6 .5-6 .6 3.7 .5-1.1 .6-.4 .5-1.6 .6-7.3 .5 4.6 .5-1.2 .6 3.8 .5-3.5 .6 10.1 .5-6.9 .5 5.5 .6 7.9 .5-3 .6-2.4 .5-8.1 .6-16.2 .5 17.4 .5 9.2 .6 3.3 .5-1.5 .6-8.8 .5 3.1 .5-7.1 .6 12.6 .5-.8 .6 1.8 .5-2 .5-1.5 .6-2.1 .5 2.8 .6 1.2 .5-3.3 .6 5 .5-12.1 .5 4.1 .6 1 .5 .6 .6-1.4 .5-7.3 .5 10 .6-3 .5 5.7 .6-3 .5 4.7 .6-12.6 .5 3.1 .5-1.6 .6 .1 .5 10.4 .6-8.4 .5 8.2 .5-7.9 .6 8.1 .5-.4 .6 .5 .5-6.9 .5 7 .6-4 .5-1.1 .6-9.8 .5 3.6 .6 3.4 .5-2.5 .5 12.1 .6-5.8 .5 1.4 .6-19.3 .5-1.7 .5-3.2 .6 23.6 .5-9.3 .6 .5 .5 6.5 .6 7.4 .5-1.8 .5-4.2 .6-5.8 .5 4.4 .6-7.7 .5 .5 .5 9.6 .6-11 .5 7.8 .6 7.2 .5-11.4 .5-14.8 .6 9 .5 15.6 .6-11.5 .5 9.5 .6-7.4 .5 8.8 .5-3.3 .6 .8 .5-6.1 .6 6.4 .5 2.2 .5-9.8 .6 3 .5 7.6 .6-1.1 .5-5.9 .6-18.3 .5 13.3 .5 1.3 .6 4 .5-3.6 .6 .7 .5 4.8 .5 3.3 .6-2.2 .5-2.3 .6-7.9 .5 11.9 .6-7.6 .5 8 .5-6.3 .6-1.8 .5 12.1 .6-11.9 .5-2.4 .5-.7 .6 .5 .5 8.4 .6 3.9 .5-3.2 .5-9.2 .6 3.5 .5 3 .6 8 .5-.9 .6-7.8 .5-5.3 .5 4.5 .6-7.7 .5-4.2 .6 6.6 .5 5.3 .5 5.2 .6-3.8 .5 7.7 .6-7.6 .5 1.3 .6 6.5 .5-11.9 .5 .6 .6 10.1 .5-7.5 .6-3.3 .5 5.2 .5-3.4 .6 8.9 .5 .9 .6-2.3 .5-7.4 .5 6.7 .6-7.7 .5 10.6 .6-5.5 .5 .6 .6-5.1 .5 2.1 .5-7.6 .6-16.4 .5 .8 .6 9.1 .5 13.4 .5-.1 .6-5.7 .5-7.2 .6 11.3 .5 .4 .6 5.2 .5-7.2 .5 9.3 .6-2.8 .5 1.7 .6-3.5 .5-5.1 .5 10.3 .6-2.3 .5 1.3 .6 2.6 .5 .8 .5-13.3 .6 9.3 .5-5.4 .6-1.1 .5 2 .6 5.4 .5-5.9 .5-3.8 .6 6.8 .5-6.6 .6 .5 .5 1.3 .5 1.2 .6-4.1 .5 7 .6-6.4 .5 12.3 .6-9.1 .5 8.7 .5-3.6 .6-3.2 .5-3 .6-9.7 .5-35.1 .5-119.8 .6-164.9 .5-76.6 .6 96.8 .5 144.4 .5 113.1 .6 47.8 .5 5.2 .6 9.2 .5-7.3 .6 6.3 .5-6.7 .5 5 .6-3.8 .5-2.1 .6 6.8 .5 2.1 .5-1.1 .6-9.7 .5-1.7 .6 5.4 .5 6.8 .6-7.1 .5 3.7 .5 2.2 .6-7.9 .5-1.7 .6 4.7 .5-.6 .5-5.3 .6 13 .5-11.7 .6-1 .5 1 .5 4.3 .6-4.9 .5 5.7 .6 1.7 .5-1.8 .6 6.2 .5 .1 .5-6.6 .6-1 .5 7.2 .6-9.8 .5 8.7 .5-.9 .6-3.7 .5-4.4 .6 4.2 .5-6 .6 2.1 .5 2.9 .5-4.5 .6 7.6 .5-3.4 .6-1 .5 7.8 .5-2.3 .6-10.6 .5 10 .6-8.9 .5 12.4 .6-2.7 .5 .2 .5 3.1 .6-10.3 .5-1.3 .6-11.9 .5 13.8 .5 1.6 .6 1.1 .5 .4 .6-4.8 .5 6.5 .5-5.6 .6-1.4 .5 8.5 .6-.8 .5-4.8 .6 6.4 .5 2.5 .5-9 .6-1.5 .5 9.1 .6-7.1 .5 1.5 .5-.5 .6-6.8 .5 13.8 .6-2 .5 1.5 .6-8.3 .5-4 .5 5.2 .6 7.8 .5-7.3 .6 6.1 .5 .4 .5-3.4 .6-8.8 .5 2.6 .6-4.9 .5-.7 .5-2.7 .6 4.6 .5 13.3 .6-10.6 .5-7.9 .6 3.8 .5 .7 .5 9.5 .6 4.5 .5-12.1 .6 10.8 .5-2.2 .5 2.7 .6-8.6 .5-2.7 .6 10.3 .5-5.5 .6 3.3 .5-13.8 .5 12.1 .6 2.5 .5-3.5 .6 1.4 .5-4.6 .5 10.7 .6-2.4 .5 .2 .6-2.6 .5-6.5 .5-1.7 .6 .1 .5 10.9 .6-.2 .5-1.1 .6-4.1 .5-3.3 .5 4.5 .6 6.2 .5-8.7 .6 .9 .5 3.3 .5-2.1 .6 4 .5-10.2 .6-20.6 .5 3.1 .6 17.2 .5 11.7 .5-10.3 .6 5.1 .5-5.1 .6 3.9 .5 7.3 .5 .5 .6-2 .5-2.8 .6 2.9 .5-2.7 .5-8.7 .6 13.5 .5-.8 .6-9.9 .5-.4 .6 1.4 .5-2.2 .5 .8 .6 .1 .5 6.9 .6-3.9 .5 1.1 .5-8.1 .6 4.8 .5 4.7 .6-.9 .5-.4 .6-16.1 .5 14.9 .5 6.4 .6-10.5 .5-11.7 .6 8 .5 15.9 .5-10.2 .6-3 .5 .1 .6 9.7 .5 2.3 .5-5.3 .6 2.9 .5-13.8 .6 5.3 .5 6.9 .6-9.4 .5 4.2 .5 9.8 .6-3 .5-.6 .6-11.6 .5 5 .5 7.8 .6-11.2 .5 8 .6-10.2 .5 7.6 .6 8.6 .5-6 .5-4.4 .6 4 .5-3.6 .6 8.9 .5 1.1 .5-1.1 .6-8.2 .5 6.4 .6-9.1 .5 .5 .6 10 .5 1 .5-8.9 .6-13.3 .5-13.2 .6 18.5 .5 10.4 .5-16.2 .6 8 .5 1.4 .6 9.8 .5 4.1 .5-.6 .6-12.4 .5 8.1 .6 4 .5 .6 .6-9.2 .5 4.3 .5-6 .6 2.1 .5 5.8 .6-5.9 .5 3.3 .5-4.5 .6 6.8 .5-.9 .6 2.1 .5 .5 .6-4.2 .5-3.5 .5 .4 .6 6.4 .5-3.2 .6-13.2 .5-6.5 .5 3.4 .6 17 .5 3.9 .6-9.7 .5 8.5 .5-2.9 .6-7.2 .5 10.9 .6-7 .5-.7 .6 5.4 .5 2.5 .5-4.7 .6 2.8 .5-2.4 .6 3.9 .5-4.2 .5-8.7 .6 14.9 .5-8.9 .6 2.5 .5-7.2 .6-7 .5-1.5 .5 10 .6-2.8 .5 2.1 .6-1 .5 12.7 .5-4.7 .6-1.3 .5 2.8 .6 1.1 .5-1.6 .5 2.4 .6-12.6 .5 .9 .6 4.5 .5 .8 .6-6.9 .5 8 .5-4.4 .6 11.8 .5-6.2 .6 3.7 .5 1.7 .5-12.6 .6 1.8 .5 6.4 .6 3.8 .5-11.4 .6 7.6 .5-7.5 .5 3 .6-2 .5 2.2 .6-6.6 .5 12.7 .5-11.1 .6 4.4 .5-1.3 .6-5.2 .5 16.5 .5-3.9 .6-21.1 .5-11.8 .6 8.7 .5-.3 .6 2.5 .5 9.5 .5-7 .6 1.2 .5-2.7 .6 6.2 .5 1.3 .5-2.4 .6 12.1 .5 3.4 .6-5.9 .5-2.8 .6 3.3 .5-5.8 .5-.8 .6 4.2 .5-2.6 .6 13.9 .5-8.5 .5 9.5 .6-4.1 .5-6.5 .6-9.7 .5-9.9 .5 7 .6 19.1 .5-3 .6-5.9 .5 9.9 .6-11.9 .5 14.8 .5-5.8 .6 5.7 .5-4 .6-10 .5-2.5 .5 9.9 .6 3.3 .5-1.5 .6-9.2 .5 11.5 .6-10.3 .5 8.3 .5 1 .6-11.6 .5 12.1 .6-13 .5 9.1 .5-10 .6 4.9 .5-1.9 .6 5.3 .5-7.6 .5 4.7 .6 4.9 .5 6.4 .6-2.2 .5-11.4 .6-1.2 .5 15.2 .5-6 .6-.6 .5 4.6 .6 1.9 .5-13.2 .5 .6 .6-.7 .5 9.4 .6-9.2 .5-1.3 .6 2.9 .5 7 .5-.4 .6-1.8 .5-6.2 .6 1.4 .5-3 .5 9.2 .6 1.4 .5 1.6 .6-3.7 .5 0 .6 4 .5 1.4 .5-7.5 .6 5.5 .5-5.8 .6 1.3 .5-4.2 .5 8.4 .6-10 .5 1.8 .6 5 .5 2.1 .5 1.8 .6-4.9 .5 5.3 .6-2.3 .5 3.8 .6-8.2 .5 .9 .5-1.1 .6-2.3 .5 4.2 .6 2.4 .5 1.7 .5-3.8 .6 1.2 .5-.1 .6 2.4 .5 .9 .6-13.6 .5-6.9 .5 8.7 .6 6.1 .5 6.1 .6-3.9 .5-7.3 .5-.3 .6 12.8 .5-10.9 .6 8.9 .5-10.6 .5 10.5 .6-7.9 .5-2.8 .6 13.1 .5 .5 .6-7.3 .5 1.4 .5-7.7 .6 9.7 .5 3.8 .6-12.6 .5 4 .5 1.3 .6-1.9 .5-4.5 .6 10.1 .5 .1 .6-23.1 .5-1.4 .5 16.6 .6-.5 .5 3.2 .6 .9 .5-11.2 .5 2.3 .6 2.5 .5 3.4 .6 .3 .5-2 .5 5.7 .6-7.1 .5 1.5 .6 11.1 .5-11.4 .6-3.4 .5-1.1 .5 9.5 .6 5.9 .5-8.4 .6 8.7 .5-8.9 .5-3.5 .6 3 .5-2.1 .6-1.2 .5 5.4 .6 4.3 .5-10.3 .5 5.5 .6-3.8 .5 6.1 .6-10.3 .5 10.2 .5-4 .6-.7 .5 2.1 .6-5.2 .5 10.3 .5 3.8 .6-1.7 .5-5 .6-5.3 .5 10.4 .6-4.8 .5-3.9 .5 7.8 .6-8 .5 0 .6 7.7 .5-12.1 .5-1 .6 .4 .5 12.7 .6-14.3 .5-14.2 .6 5.6 .5 26.4 .5-3.8 .6-6.9 .5 7.4 .6 .2 .5-13.4 .5 6.9 .6-1.4 .5 10 .6-3.3 .5 2.8 .5-2 .6 1.8 .5 .3 .6-10.6 .5 8.1 .6-10.2 .5 14.3 .5-4.8 .6 .3 .5-1.6 .6-2.9 .5 1.3 .5 2.6 .6 .1 .5-6 .6 6.4 .5-6.1 .6 3.1 .5 4.2 .5-8.1 .6 3.5 .5-1.5 .6 8.6 .5-5.8 .5-.8 .6 1.6 .5 .6 .6-2.7 .5-10.5 .6 .9 .5 9.3 .5 4.1 .6 1.7 .5-2.6 .6 .9 .5 1.7 .5-3.1 .6 .8 .5-11 .6-11.3 .5 13.9 .5 3.8 .6 7.3 .5-.9 .6-9 .5 1.8 .6 .4 .5-1.6 .5-1 .6-.6 .5 3.1 .6-3 .5 9.5 .5-2.9 .6-.7 .5-2.8 .6-.1 .5 5.5 .6-4.2 .5 3.3 .5 3.4 .6-4.7 .5 2.3 .6-6.2 .5 1.2 .5-3.8 .6-.2 .5 5.6 .6 4.4 .5-4.2 .5 3.7 .6-3.1 .5-3.5 .6 .6 .5 3.7 .6 2.1 .5 3.8 .5-11.7 .6 .4 .5 3.3 .6-2.9 .5 8.7 .5-6.5 .6 5.2 .5-7.5 .6 6 .5-1.1 .6 1.6 .5-.9 .5-6.3 .6-1.3 .5 1 .6-14.8 .5 5.1" fill="none" stroke="#ff0000" stroke-width="3.0" stroke-linejoin="round"/>
<rect x="2735.3" y="1418.2" width="5.2" height="396.5" fill="#ff0000"/>
</g>
<rect x="1993.5" y="37.5" width="1082.8" height="1998.0" fill="none" stroke="#000" stroke-width="2.9"/>
<path d="M2128.8 2035.5V2020.0M2399.6 2035.5V2020.0M2670.2 2035.5V2020.0M2941.0 2035.5V2020.0M2264.2 2035.5V2027.0M2534.9 2035.5V2027.0M2805.6 2035.5V2027.0M1993.5 1835.7H2009.0M1993.5 1536.0H2009.0M1993.5 1236.3H2009.0M1993.5 936.6H2009.0M1993.5 636.9H2009.0M1993.5 337.2H2009.0M1993.5 37.5H2009.0M1993.5 1935.6H2003.9M1993.5 1735.8H2003.9M1993.5 1635.9H2003.9M1993.5 1436.1H2003.9M1993.5 1336.2H2003.9M1993.5 1136.4H2003.9M1993.5 1036.5H2003.9M1993.5 836.7H2003.9M1993.5 736.8H2003.9M1993.5 537.0H2003.9M1993.5 437.1H2003.9M1993.5 237.3H2003.9M1993.5 137.4H2003.9" stroke="#000" stroke-width="2.9"/>
<rect x="2081.2" y="153.8" width="552.6" height="433.4" fill="#fff" stroke="#000" stroke-width="2.7"/>
<clipPath id="ci"><rect x="2081.2" y="153.8" width="552.6" height="433.4"/></clipPath>
<g clip-path="url(#ci)"><path d="M2082.6 490.6l1.4-2.9 1.3 30.6 1.4 4.9 1.4-15.4 1.4 15.1 1.4 15.5 1.4-5.8 1.3 8.8 1.4-10.6 1.4-2.3 1.4-2.1 1.4 11.5 1.3-1.8 1.4 6.5 1.4-4.5 1.4-3.2 1.4-14.7 1.3 4.8 1.4 18.5 1.4-.5 1.4-27.1 1.4-22.4 1.4 26.5 1.3 14.9 1.4-1.8 1.4-7.6 1.4 2.7 1.4-6.1 1.3 14 1.4-15.8 1.4 5.2 1.4 16.8 1.4-16.8 1.4-4.5 1.3-3.1 1.4 7.4 1.4 7.2 1.4-3.2 1.4-7.9 1.3-.4 1.4 3.9 1.4-2.2 1.4-.6 1.4-1 1.3 15.6 1.4 5.7 1.4-6.6 1.4 3.4 1.4-13 1.4 15.6 1.3-20.2 1.4 18.2 1.4-20.6 1.4 .1 1.4 6 1.3-4.3 1.4 5.7 1.4 1.2 1.4-6 1.4 16 1.4 3.5 1.3-14.9 1.4 .9 1.4 13.6 1.4-19.4 1.4-1.6 1.3 13.9 1.4 5.2 1.4-13.9 1.4 3.3 1.4-1.5 1.3 11.6 1.4-9.2 1.4-6.5 1.4 .6 1.4 8.4 1.4-29.2 1.3 3.6 1.4 17.4 1.4-5 1.4 15.9 1.4 6.3 1.3-8 1.4-15 1.4 18.7 1.4 1.8 1.4-4.4 1.4-20.5 1.3 9.9 1.4-11.2 1.4 30.2 1.4-9.9 1.4-8.7 1.3 .2 1.4 2.6 1.4 11.3 1.4-7 1.4-13.3 1.3 24 1.4-21.8 1.4 8 1.4-2.9 1.4 14.2 1.4 2.3 1.3-10.4 1.4-14.1 1.4-4.3 1.4 5.8 1.4 6.4 1.3 2.4 1.4-5.8 1.4 16.8 1.4 3 1.4-8 1.4 2.9 1.3-10.6 1.4 5.1 1.4 .3 1.4-1.1 1.4-.9 1.3 6.1 1.4-2.7 1.4 7.4 1.4-1.1 1.4-6.1 1.4 7.3 1.3 3.6 1.4-23.3 1.4 12.2 1.4 1.3 1.4-7.6 1.3 12.7 1.4-16.4 1.4 20.7 1.4-5.6 1.4-2.7 1.3 7.5 1.4-15 1.4 16.2 1.4-10.4 1.4 .4 1.4-5.2 1.3 3.5 1.4-7.4 1.4 .6 1.4 5.9 1.4 1.1 1.3 7.9 1.4-24.1 1.4-14.2 1.4 22.7 1.4 7.1 1.4 4.2 1.3-11.4 1.4-2.3 1.4 10.3 1.4-14.1 1.4 14.4 1.3-1.3 1.4-6.8 1.4 15.9 1.4-14.4 1.4 14.6 1.3-13.5 1.4 5 1.4 6.6 1.4-11.2 1.4 2.2 1.4 11 1.3-8.9 1.4 8.7 1.4-5.1 1.4-13.6 1.4-2.6 1.3 9.1 1.4-15.7 1.4 12.8 1.4 11.6 1.4-2.1 1.4 9.2 1.3-6.2 1.4-12.5 1.4-1.9 1.4-3 1.4 16.4 1.3-14.7 1.4 3.8 1.4 17.2 1.4-18 1.4-3.4 1.3-19.4 1.4-15.7 1.4 4.1 1.4-32.6 1.4-11.1 1.4-.1 1.3-29.9 1.4 14.9 1.4-3.4 1.4 23.8 1.4-9 1.3 20.5 1.4 27.8 1.4 7.2 1.4 13.3 1.4 .4 1.4 19.4 1.3 2.6 1.4 3.1 1.4-22.2 1.4-.6 1.4 22.6 1.3 2.7 1.4-9.9 1.4-4.9 1.4-.4 1.4 2.5 1.3 5.2 1.4 6.1 1.4-27.1 1.4 14.2 1.4 8.5 1.4-5.7 1.3-25.5 1.4-3.2 1.4-1.1 1.4-4.5 1.4-8.8 1.3-53.6 1.4 10.3 1.4-17.4 1.4 2.5 1.4-27.4 1.4 4.4 1.3-19 1.4 42.6 1.4-17 1.4 12.3 1.4-8 1.3 47.7 1.4-24.6 1.4 11.9 1.4 3.7 1.4 5.8 1.3-1.1 1.4 13 1.4-13.1 1.4-8.7 1.4 12 1.4 3 1.3 5.6 1.4 .8 1.4 10.9 1.4-9.5 1.4 10.8 1.3-12 1.4 11.7 1.4-27.8 1.4 18.4 1.4 30.2 1.4-7.3 1.3 27 1.4-8.6 1.4 7.6 1.4-9.1 1.4 12.2 1.3-5 1.4 5.1 1.4-107.5 1.4-685.1 1.4-2988.1 1.3-7724.2 1.4-10898.1 1.4-5585.4 1.4 5571.7 1.4 10910.8 1.4 7731.1 1.3 2981.4 1.4 687.1 1.4 103.7 1.4 16.5 1.4-9.7 1.3 3.4 1.4 7 1.4-2.7 1.4 4.1 1.4-10.1 1.4 3.4 1.3-.3 1.4-2.4 1.4-27 1.4-6.3 1.4 23 1.3 11.9 1.4 7.9 1.4-21.4 1.4 16.6 1.4 4.5 1.3-17.6 1.4 3.2 1.4 8.4 1.4-.9 1.4-13.5 1.4-1.8 1.3 22.6 1.4 1.1 1.4-12 1.4 7 1.4-6.1 1.3 6.2 1.4-17.7 1.4 6.5 1.4-33.5 1.4 25.1 1.4-3.3 1.3 14 1.4-14.7 1.4 23.7 1.4-11.7 1.4 15 1.3-14.9 1.4 7.4 1.4 2 1.4-21 1.4 20.7 1.4-4.5 1.3-.9 1.4-4.1 1.4 17.3 1.4-22.6 1.4-5.5 1.3 5.8 1.4-3.3 1.4 3.5 1.4-5.7 1.4 17.1 1.3-13.3 1.4 1.6 1.4 2.3 1.4 10.6 1.4-9.5 1.4 3.4 1.3-4 1.4-3.5 1.4 6.6 1.4-4.4 1.4 2.5 1.3 2.2 1.4 2.4 1.4 5.8 1.4 2.2 1.4 2.8 1.4-3.7 1.3-13.3 1.4 3.8 1.4 9.5 1.4-10.4 1.4 12 1.3 5.3 1.4-24 1.4-14.2 1.4 20.1 1.4 14.9 1.3-8.7 1.4-.2 1.4-2.4 1.4 14.7 1.4-14 1.4 4.8 1.3 2.7 1.4 5.7 1.4-4.5 1.4 3.8 1.4-13.1 1.3 5 1.4-3.6 1.4 2.2 1.4 1.5 1.4 4.3 1.4-11.2 1.3 4.7 1.4 4.5 1.4-7.1 1.4-5.7 1.4 12.3 1.3-7.3 1.4 .5 1.4-2.3 1.4 8.1 1.4-9.3 1.3 17.3 1.4-12.1 1.4-4.9 1.4 13.2 1.4 .7 1.4-4.3 1.3-4.8 1.4 4 1.4-.2" fill="none" stroke="#808000" stroke-width="3.2" stroke-linejoin="round"/></g>
<path d="M2150.3 587.2V572.2M2288.4 587.2V572.2M2426.6 587.2V572.2M2564.7 587.2V572.2M2219.3 587.2V579.2M2357.5 587.2V579.2M2495.7 587.2V579.2" stroke="#000" stroke-width="2.7"/>
<line x1="2645.4" y1="813.9" x2="2779.7" y2="813.9" stroke="#000" stroke-width="3" stroke-dasharray="21.5 22.5"/>
<line x1="2645.4" y1="949.7" x2="2779.7" y2="949.7" stroke="#000" stroke-width="3" stroke-dasharray="21.5 22.5"/>
<line x1="2645.4" y1="813.9" x2="2645.4" y2="949.7" stroke="#000" stroke-width="3" stroke-dasharray="18.5 21.5"/>
<line x1="2779.7" y1="813.9" x2="2779.7" y2="949.7" stroke="#000" stroke-width="3" stroke-dasharray="18.5 21.5"/>
<line x1="2702.2" y1="800" x2="2665" y2="692" stroke="#000" stroke-width="3.6"/>
<path d="M2659.7 677.9 L2661.8 716.9 L2668 700 L2683.3 711.8 Z" fill="#000" stroke="#000" stroke-width="2" stroke-linejoin="round"/>
<g style="font-kerning:none;white-space:pre" text-rendering="geometricPrecision">
<text transform="translate(424.54,114.52) scale(1.0453,1.0000)" font-size="50.38" fill="#000"><tspan>6</tspan></text>
<text transform="translate(425.85,268.06) scale(0.9607,1.0000)" font-size="50.38" fill="#000"><tspan>4</tspan></text>
<text transform="translate(424.33,421.60) scale(1.1140,1.0000)" font-size="50.38" fill="#000"><tspan>2</tspan></text>
<text transform="translate(424.78,575.14) scale(1.0537,1.0000)" font-size="50.38" fill="#000"><tspan>0</tspan></text>
<text transform="translate(424.56,728.69) scale(1.1041,1.0000)" font-size="50.38" fill="#000"><tspan>2</tspan></text>
<line x1="383.3" y1="716.2" x2="415.7" y2="716.2" stroke="#000" stroke-width="2.4"/>
<text transform="translate(426.06,882.23) scale(0.9522,1.0000)" font-size="50.38" fill="#000"><tspan>4</tspan></text>
<line x1="383.3" y1="869.7" x2="415.7" y2="869.7" stroke="#000" stroke-width="2.4"/>
<text transform="translate(1047.01,998.90) scale(1.1256,1.0000)" font-size="51.15" fill="#000"><tspan>0</tspan></text>
<text transform="translate(1272.01,998.90) scale(1.1006,1.0000)" font-size="51.15" fill="#000"><tspan>300</tspan></text>
<text transform="translate(1525.89,998.90) scale(1.0968,1.0000)" font-size="51.15" fill="#000"><tspan>600</tspan></text>
<text transform="translate(791.44,998.90) scale(1.0854,1.0000)" font-size="51.15" fill="#000"><tspan>300</tspan></text>
<line x1="751.1" y1="982.9" x2="783.8" y2="982.9" stroke="#000" stroke-width="2.4"/>
<text transform="translate(536.85,998.90) scale(1.1134,1.0000)" font-size="51.15" fill="#000"><tspan>600</tspan></text>
<line x1="497.3" y1="982.9" x2="530.9" y2="982.9" stroke="#000" stroke-width="2.4"/>
<text transform="translate(957.56,1072.20) scale(1.2955,1.0000)" font-size="49.92" fill="#000"><tspan font-style="italic">μ</tspan><tspan dy="7.74" font-size="32.20">0</tspan><tspan dy="-7.74" font-style="italic">H</tspan><tspan>/mT</tspan></text>
<text transform="translate(323.80,672.00) rotate(-90) scale(1.2055,1.0000) translate(0.60,0)" font-size="50.84" fill="#000"><tspan font-style="italic">M</tspan><tspan>/(10</tspan><tspan dy="-18.30" font-size="32.79">5</tspan><tspan dy="18.30"> A·m</tspan><tspan dy="-18.30" font-size="32.79">−1</tspan><tspan dy="18.30">)</tspan></text>
<text transform="translate(493.84,98.00) scale(1.1471,1.0000)" font-size="50.84" fill="#000"><tspan>(a)</tspan></text>
<text transform="translate(691.57,98.10) scale(1.2284,1.0000)" font-size="50.84" fill="#000"><tspan>[Pt/Tb</tspan><tspan dy="7.88" font-size="32.79">0.16</tspan><tspan dy="-7.88">(Fe</tspan><tspan dy="7.88" font-size="32.79">0.75</tspan><tspan dy="-7.88">Co</tspan><tspan dy="7.88" font-size="32.79">0.25</tspan><tspan dy="-7.88">)</tspan><tspan dy="7.88" font-size="32.79">0.84</tspan><tspan dy="-7.88"> (5)]</tspan><tspan dy="7.88" font-size="32.79">5</tspan><tspan dy="-7.88">/Pt</tspan></text>
<text transform="translate(691.09,158.60) scale(1.2384,1.0000)" font-size="50.84" fill="#000"><tspan>Pt/Tb</tspan><tspan dy="7.88" font-size="32.79">0.16</tspan><tspan dy="-7.88">(Fe</tspan><tspan dy="7.88" font-size="32.79">0.75</tspan><tspan dy="-7.88">Co</tspan><tspan dy="7.88" font-size="32.79">0.25</tspan><tspan dy="-7.88">)</tspan><tspan dy="7.88" font-size="32.79">0.84</tspan><tspan dy="-7.88"> (25)/Pt</tspan></text>
<text transform="translate(424.54,1207.26) scale(1.0453,1.0000)" font-size="50.38" fill="#000"><tspan>6</tspan></text>
<text transform="translate(425.85,1360.67) scale(0.9607,1.0000)" font-size="50.38" fill="#000"><tspan>4</tspan></text>
<text transform="translate(424.33,1514.08) scale(1.1140,1.0000)" font-size="50.38" fill="#000"><tspan>2</tspan></text>
<text transform="translate(424.78,1667.48) scale(1.0537,1.0000)" font-size="50.38" fill="#000"><tspan>0</tspan></text>
<text transform="translate(424.56,1820.89) scale(1.1041,1.0000)" font-size="50.38" fill="#000"><tspan>2</tspan></text>
<line x1="383.3" y1="1808.4" x2="415.7" y2="1808.4" stroke="#000" stroke-width="2.4"/>
<text transform="translate(426.06,1974.30) scale(0.9522,1.0000)" font-size="50.38" fill="#000"><tspan>4</tspan></text>
<line x1="383.3" y1="1961.8" x2="415.7" y2="1961.8" stroke="#000" stroke-width="2.4"/>
<text transform="translate(1047.01,2091.40) scale(1.1256,1.0000)" font-size="51.15" fill="#000"><tspan>0</tspan></text>
<text transform="translate(1272.01,2091.40) scale(1.1006,1.0000)" font-size="51.15" fill="#000"><tspan>300</tspan></text>
<text transform="translate(1525.89,2091.40) scale(1.0968,1.0000)" font-size="51.15" fill="#000"><tspan>600</tspan></text>
<text transform="translate(791.44,2091.40) scale(1.0854,1.0000)" font-size="51.15" fill="#000"><tspan>300</tspan></text>
<line x1="751.1" y1="2075.4" x2="783.8" y2="2075.4" stroke="#000" stroke-width="2.4"/>
<text transform="translate(536.85,2091.40) scale(1.1134,1.0000)" font-size="51.15" fill="#000"><tspan>600</tspan></text>
<line x1="497.3" y1="2075.4" x2="530.9" y2="2075.4" stroke="#000" stroke-width="2.4"/>
<text transform="translate(957.56,2164.70) scale(1.2955,1.0000)" font-size="49.92" fill="#000"><tspan font-style="italic">μ</tspan><tspan dy="7.74" font-size="32.20">0</tspan><tspan dy="-7.74" font-style="italic">H</tspan><tspan>/mT</tspan></text>
<text transform="translate(323.80,1764.50) rotate(-90) scale(1.2055,1.0000) translate(0.60,0)" font-size="50.84" fill="#000"><tspan font-style="italic">M</tspan><tspan>/(10</tspan><tspan dy="-18.30" font-size="32.79">5</tspan><tspan dy="18.30"> A·m</tspan><tspan dy="-18.30" font-size="32.79">−1</tspan><tspan dy="18.30">)</tspan></text>
<text transform="translate(491.92,1190.50) scale(1.1567,1.0000)" font-size="50.84" fill="#000"><tspan>(b)</tspan></text>
<text transform="translate(691.69,1190.60) scale(1.1956,1.0000)" font-size="50.84" fill="#000"><tspan>[W/Tb</tspan><tspan dy="7.88" font-size="32.79">0.16</tspan><tspan dy="-7.88">(Fe</tspan><tspan dy="7.88" font-size="32.79">0.75</tspan><tspan dy="-7.88">Co</tspan><tspan dy="7.88" font-size="32.79">0.25</tspan><tspan dy="-7.88">)</tspan><tspan dy="7.88" font-size="32.79">0.84</tspan><tspan dy="-7.88"> (5)]</tspan><tspan dy="7.88" font-size="32.79">5</tspan><tspan dy="-7.88">/W</tspan></text>
<text transform="translate(692.84,1251.10) scale(1.2050,1.0000)" font-size="50.84" fill="#000"><tspan>W/Tb</tspan><tspan dy="7.88" font-size="32.79">0.16</tspan><tspan dy="-7.88">(Fe</tspan><tspan dy="7.88" font-size="32.79">0.75</tspan><tspan dy="-7.88">Co</tspan><tspan dy="7.88" font-size="32.79">0.25</tspan><tspan dy="-7.88">)</tspan><tspan dy="7.88" font-size="32.79">0.84</tspan><tspan dy="-7.88"> (25)/W</tspan></text>
<path d="M580.4 87.7H672" stroke="#808000" stroke-width="2.9"/><rect x="608.9" y="71.2" width="34.6" height="33.5" fill="#808000"/>
<path d="M580.4 148H672" stroke="#0000ff" stroke-width="2.9"/><use href="#bb" x="626" y="148"/>
<path d="M580.4 1180.2H672" stroke="#000" stroke-width="2.9"/><rect x="608.9" y="1163.7" width="34.6" height="33.5" fill="#000"/>
<path d="M580.4 1240.5H672" stroke="#ff0000" stroke-width="2.9"/><use href="#rb" x="626" y="1240.5"/>
<text transform="translate(1945.83,1851.20) scale(1.0771,1.0000)" font-size="50.38" fill="#000"><tspan>0</tspan></text>
<text transform="translate(1888.71,1551.50) scale(1.1159,1.0000)" font-size="50.38" fill="#000"><tspan>300</tspan></text>
<text transform="translate(1888.99,1251.80) scale(1.1121,1.0000)" font-size="50.38" fill="#000"><tspan>600</tspan></text>
<text transform="translate(1889.61,952.10) scale(1.1037,1.0000)" font-size="50.38" fill="#000"><tspan>900</tspan></text>
<text transform="translate(1862.76,652.40) scale(1.0941,1.0000)" font-size="50.38" fill="#000"><tspan>1200</tspan></text>
<text transform="translate(1862.76,352.70) scale(1.0941,1.0000)" font-size="50.38" fill="#000"><tspan>1500</tspan></text>
<text transform="translate(1862.76,53.00) scale(1.0941,1.0000)" font-size="50.38" fill="#000"><tspan>1800</tspan></text>
<text transform="translate(2099.46,2092.00) scale(1.1050,1.0000)" font-size="50.84" fill="#000"><tspan>10</tspan></text>
<text transform="translate(2370.64,2092.00) scale(1.1014,1.0000)" font-size="50.84" fill="#000"><tspan>20</tspan></text>
<text transform="translate(2640.83,2092.00) scale(1.0975,1.0000)" font-size="50.84" fill="#000"><tspan>30</tspan></text>
<text transform="translate(2912.42,2092.00) scale(1.0854,1.0000)" font-size="50.84" fill="#000"><tspan>40</tspan></text>
<text transform="translate(2464.44,2163.60) scale(1.1758,1.0000)" font-size="49.62" fill="#000"><tspan>2</tspan><tspan font-style="italic">θ</tspan><tspan>/(°)</tspan></text>
<text transform="translate(1810.60,1273.30) rotate(-90) scale(1.2673,1.0000) translate(-1.80,0)" font-size="49.77" fill="#000"><tspan>Intensity/arb. units</tspan></text>
<text transform="translate(2015.34,98.00) scale(1.1009,1.0000)" font-size="50.84" fill="#000"><tspan>(c)</tspan></text>
<text transform="translate(2463.50,114.90) scale(1.0688,1.0000)" font-size="53.13" fill="#000"><tspan>Si (200)</tspan></text>
<g><path d="M2682.9 80L2715.4 112.5M2715.4 80L2682.9 112.5" stroke="#000" stroke-width="1.7"/><circle cx="2699.2" cy="83" r="3.5"/><circle cx="2699.2" cy="109.6" r="3.5"/><circle cx="2685.9" cy="96.3" r="3.5"/><circle cx="2712.5" cy="96.3" r="3.5"/></g>
<text transform="translate(2426.20,762.80) scale(1.0657,1.0000)" font-size="53.28" fill="#000"><tspan>Si (101)</tspan></text>
<g><path d="M2506.5 784.1L2539.3 816.9M2539.3 784.1L2506.5 816.9" stroke="#000" stroke-width="1.7"/><circle cx="2522.9" cy="787.1" r="3.5"/><circle cx="2522.9" cy="813.9" r="3.5"/><circle cx="2509.5" cy="800.5" r="3.5"/><circle cx="2536.3" cy="800.5" r="3.5"/></g>
<text transform="translate(2817.46,427.90) scale(1.2040,1.0000)" font-size="50.08" fill="#000"><tspan>Pt (111)</tspan></text>
<g><path d="M2902.9 449.4L2935.1 481.6M2935.1 449.4L2902.9 481.6" stroke="#000" stroke-width="1.7"/><circle cx="2919" cy="452.3" r="3.5"/><circle cx="2919" cy="478.7" r="3.5"/><circle cx="2905.8" cy="465.5" r="3.5"/><circle cx="2932.2" cy="465.5" r="3.5"/></g>
<text transform="translate(2007.43,998.10) scale(1.2382,1.0000)" font-size="43.21" fill="#000"><tspan>[Pt/Tb</tspan><tspan dy="6.70" font-size="27.87">0.16</tspan><tspan dy="-6.70">(Fe</tspan><tspan dy="6.70" font-size="27.87">0.75</tspan><tspan dy="-6.70">Co</tspan><tspan dy="6.70" font-size="27.87">0.25</tspan><tspan dy="-6.70">)</tspan><tspan dy="6.70" font-size="27.87">0.84</tspan><tspan dy="-6.70"> (5)]</tspan><tspan dy="6.70" font-size="27.87">5</tspan><tspan dy="-6.70">/Pt</tspan></text>
<text transform="translate(2007.74,1293.50) scale(1.2530,1.0000)" font-size="43.21" fill="#000"><tspan>Pt/Tb</tspan><tspan dy="6.70" font-size="27.87">0.16</tspan><tspan dy="-6.70">(Fe</tspan><tspan dy="6.70" font-size="27.87">0.75</tspan><tspan dy="-6.70">Co</tspan><tspan dy="6.70" font-size="27.87">0.25</tspan><tspan dy="-6.70">)</tspan><tspan dy="6.70" font-size="27.87">0.84</tspan><tspan dy="-6.70"> (25)/Pt</tspan></text>
<text transform="translate(2007.91,1599.80) scale(1.2120,1.0000)" font-size="43.21" fill="#000"><tspan>[W/Tb</tspan><tspan dy="6.70" font-size="27.87">0.16</tspan><tspan dy="-6.70">(Fe</tspan><tspan dy="6.70" font-size="27.87">0.75</tspan><tspan dy="-6.70">Co</tspan><tspan dy="6.70" font-size="27.87">0.25</tspan><tspan dy="-6.70">)</tspan><tspan dy="6.70" font-size="27.87">0.84</tspan><tspan dy="-6.70"> (5)]</tspan><tspan dy="6.70" font-size="27.87">5</tspan><tspan dy="-6.70">/W</tspan></text>
<text transform="translate(2008.65,1898.20) scale(1.2219,1.0000)" font-size="43.21" fill="#000"><tspan>W/Tb</tspan><tspan dy="6.70" font-size="27.87">0.16</tspan><tspan dy="-6.70">(Fe</tspan><tspan dy="6.70" font-size="27.87">0.75</tspan><tspan dy="-6.70">Co</tspan><tspan dy="6.70" font-size="27.87">0.25</tspan><tspan dy="-6.70">)</tspan><tspan dy="6.70" font-size="27.87">0.84</tspan><tspan dy="-6.70"> (25)/W</tspan></text>
<text transform="translate(2226.94,326.20) scale(1.2441,1.0000)" font-size="35.27" fill="#000"><tspan>PtTb (002)</tspan></text>
<g><path d="M2395.6 345.4L2419.1 368.9M2419.1 345.4L2395.6 368.9" stroke="#000" stroke-width="1.3"/><circle cx="2407.3" cy="347.6" r="2.6"/><circle cx="2407.3" cy="366.8" r="2.6"/><circle cx="2397.7" cy="357.2" r="2.6"/><circle cx="2416.9" cy="357.2" r="2.6"/></g>
<text transform="translate(2183.25,404.30) scale(1.1803,1.0000)" font-size="35.27" fill="#000"><tspan>Tb (002)</tspan></text>
<g><path d="M2347.2 385.1L2370.8 408.6M2370.8 385.1L2347.2 408.6" stroke="#000" stroke-width="1.3"/><circle cx="2359" cy="387.2" r="2.6"/><circle cx="2359" cy="406.4" r="2.6"/><circle cx="2349.4" cy="396.8" r="2.6"/><circle cx="2368.6" cy="396.8" r="2.6"/></g>
<text transform="translate(2122.33,640.90) scale(1.1892,1.0000)" font-size="46.72" fill="#000"><tspan>28</tspan></text>
<text transform="translate(2260.26,640.90) scale(1.1943,1.0000)" font-size="46.72" fill="#000"><tspan>30</tspan></text>
<text transform="translate(2398.35,640.90) scale(1.2171,1.0000)" font-size="46.72" fill="#000"><tspan>32</tspan></text>
<text transform="translate(2536.62,640.90) scale(1.1657,1.0000)" font-size="46.72" fill="#000"><tspan>34</tspan></text>
</g>
</svg></body></html>
